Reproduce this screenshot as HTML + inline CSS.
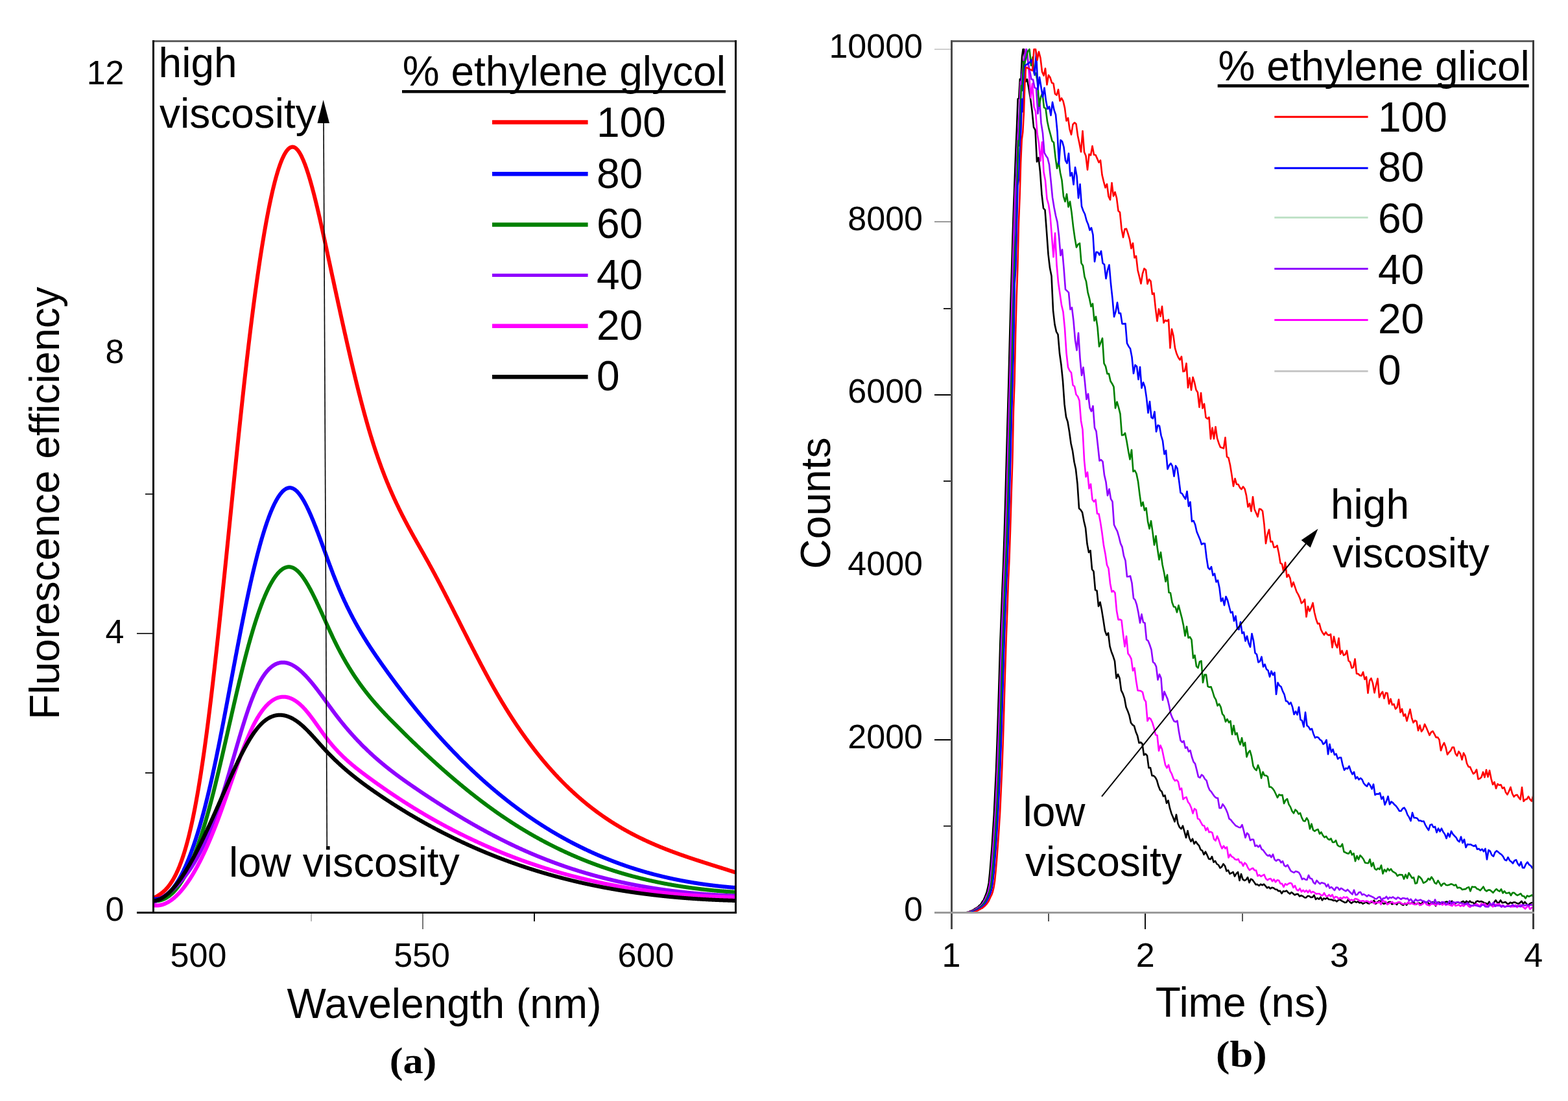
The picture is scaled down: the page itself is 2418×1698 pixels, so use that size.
<!DOCTYPE html>
<html><head><meta charset="utf-8"><title>Fluorescence figure</title>
<style>html,body{margin:0;padding:0;background:#fff;overflow:hidden}svg{display:block}text{font-variant-ligatures:none;font-feature-settings:'liga' 0,'clig' 0}</style>
</head><body>
<svg xmlns="http://www.w3.org/2000/svg" width="2418" height="1698" viewBox="0 0 2418 1698">
<rect width="2418" height="1698" fill="#fff"/>
<g shape-rendering="crispEdges">
<rect x="211" y="975.5" width="25" height="2" fill="#333"/>
<rect x="224" y="760.5" width="12" height="2" fill="#333"/>
<rect x="224" y="1190.5" width="12" height="2" fill="#222"/>
<rect x="478.5" y="1409" width="2" height="12" fill="#bbb"/>
<rect x="650.5" y="1409" width="2" height="24" fill="#777"/>
<rect x="822.5" y="1409" width="2" height="12" fill="#111"/>
</g>
<defs><clipPath id="ca"><rect x="237" y="64" width="897" height="1343"/></clipPath><clipPath id="cb"><rect x="1468" y="64" width="896" height="1343"/></clipPath></defs>
<g clip-path="url(#ca)">
<path d="M236.5 1385.2 L237 1385 L237.5 1384.7 L238 1384.5 L238.5 1384.2 L239 1383.9 L239.5 1383.7 L240 1383.4 L240.5 1383.1 L241 1382.8 L241.5 1382.6 L242 1382.3 L242.5 1382 L243 1381.7 L243.5 1381.4 L244 1381.1 L244.5 1380.7 L245 1380.4 L245.5 1380.1 L246 1379.8 L246.5 1379.4 L247 1379.1 L247.5 1378.7 L248 1378.3 L248.5 1378 L249 1377.6 L249.5 1377.2 L250 1376.8 L250.5 1376.4 L251 1376 L251.5 1375.6 L252 1375.1 L252.5 1374.7 L253 1374.2 L253.5 1373.8 L254 1373.3 L254.5 1372.8 L255 1372.3 L255.5 1371.8 L256 1371.3 L256.5 1370.7 L257 1370.2 L257.5 1369.6 L258 1369.1 L258.5 1368.5 L259 1367.9 L259.5 1367.3 L260 1366.6 L260.5 1366 L261 1365.3 L261.5 1364.7 L262 1364 L262.5 1363.3 L263 1362.6 L263.5 1361.8 L264 1361.1 L264.5 1360.3 L265 1359.6 L265.5 1358.8 L266 1357.9 L266.5 1357.1 L267 1356.3 L267.5 1355.4 L268 1354.5 L268.5 1353.6 L269 1352.7 L269.5 1351.8 L270 1350.8 L270.5 1349.8 L271 1348.8 L271.5 1347.8 L272 1346.8 L272.5 1345.7 L273 1344.7 L273.5 1343.6 L274 1342.5 L274.5 1341.3 L275 1340.2 L275.5 1339 L276 1337.8 L276.5 1336.5 L277 1335.3 L277.5 1334 L278 1332.7 L278.5 1331.4 L279 1330.1 L279.5 1328.7 L280 1327.3 L280.5 1325.9 L281 1324.5 L281.5 1323 L282 1321.5 L282.5 1320 L283 1318.5 L283.5 1316.9 L284 1315.3 L284.5 1313.7 L285 1312.1 L285.5 1310.4 L286 1308.7 L286.5 1307 L287 1305.2 L287.5 1303.4 L288 1301.6 L288.5 1299.8 L289 1297.9 L289.5 1296 L290 1294.1 L290.5 1292.2 L291 1290.2 L291.5 1288.2 L292 1286.1 L292.5 1284.1 L293 1281.9 L293.5 1279.8 L294 1277.6 L294.5 1275.5 L295 1273.2 L295.5 1271 L296 1268.7 L296.5 1266.3 L297 1264 L297.5 1261.6 L298 1259.2 L298.5 1256.7 L299 1254.2 L299.5 1251.7 L300 1249.1 L300.5 1246.6 L301 1243.9 L301.5 1241.3 L302 1238.6 L302.5 1235.9 L303 1233.1 L303.5 1230.3 L304 1227.5 L304.5 1224.7 L305 1221.8 L305.5 1218.9 L306 1215.9 L306.5 1212.9 L307 1209.9 L307.5 1206.9 L308 1203.8 L308.5 1200.7 L309 1197.5 L309.5 1194.4 L310 1191.2 L310.5 1187.9 L311 1184.7 L311.5 1181.3 L312 1178 L312.5 1174.6 L313 1171.2 L313.5 1167.8 L314 1164.4 L314.5 1160.9 L315 1157.3 L315.5 1153.8 L316 1150.2 L316.5 1146.6 L317 1142.9 L317.5 1139.2 L318 1135.5 L318.5 1131.8 L319 1128 L319.5 1124.2 L320 1120.3 L320.5 1116.5 L321 1112.6 L321.5 1108.6 L322 1104.7 L322.5 1100.7 L323 1096.7 L323.5 1092.6 L324 1088.5 L324.5 1084.4 L325 1080.3 L325.5 1076.1 L326 1071.9 L326.5 1067.7 L327 1063.5 L327.5 1059.2 L328 1054.9 L328.5 1050.6 L329 1046.2 L329.5 1041.9 L330 1037.5 L330.5 1033.1 L331 1028.6 L331.5 1024.2 L332 1019.7 L332.5 1015.2 L333 1010.7 L333.5 1006.2 L334 1001.6 L334.5 997 L335 992.4 L335.5 987.8 L336 983.2 L336.5 978.5 L337 973.9 L337.5 969.2 L338 964.5 L338.5 959.8 L339 955.1 L339.5 950.3 L340 945.6 L340.5 940.8 L341 936 L341.5 931.2 L342 926.4 L342.5 921.6 L343 916.8 L343.5 912 L344 907.1 L344.5 902.3 L345 897.4 L345.5 892.5 L346 887.6 L346.5 882.7 L347 877.8 L347.5 872.9 L348 868 L348.5 863.1 L349 858.2 L349.5 853.2 L350 848.3 L350.5 843.4 L351 838.4 L351.5 833.5 L352 828.5 L352.5 823.6 L353 818.6 L353.5 813.7 L354 808.7 L354.5 803.8 L355 798.8 L355.5 793.9 L356 788.9 L356.5 783.9 L357 779 L357.5 774 L358 769.1 L358.5 764.2 L359 759.2 L359.5 754.3 L360 749.4 L360.5 744.4 L361 739.5 L361.5 734.6 L362 729.7 L362.5 724.8 L363 719.9 L363.5 715 L364 710.1 L364.5 705.3 L365 700.4 L365.5 695.5 L366 690.7 L366.5 685.9 L367 681.1 L367.5 676.2 L368 671.4 L368.5 666.7 L369 661.9 L369.5 657.1 L370 652.4 L370.5 647.7 L371 642.9 L371.5 638.2 L372 633.6 L372.5 628.9 L373 624.2 L373.5 619.6 L374 615 L374.5 610.4 L375 605.8 L375.5 601.2 L376 596.7 L376.5 592.2 L377 587.7 L377.5 583.2 L378 578.7 L378.5 574.3 L379 569.9 L379.5 565.5 L380 561.1 L380.5 556.7 L381 552.4 L381.5 548.1 L382 543.8 L382.5 539.6 L383 535.4 L383.5 531.1 L384 527 L384.5 522.8 L385 518.7 L385.5 514.6 L386 510.5 L386.5 506.4 L387 502.4 L387.5 498.4 L388 494.4 L388.5 490.4 L389 486.5 L389.5 482.6 L390 478.7 L390.5 474.8 L391 471 L391.5 467.2 L392 463.4 L392.5 459.6 L393 455.9 L393.5 452.2 L394 448.5 L394.5 444.9 L395 441.3 L395.5 437.7 L396 434.1 L396.5 430.5 L397 427 L397.5 423.5 L398 420.1 L398.5 416.6 L399 413.2 L399.5 409.8 L400 406.5 L400.5 403.1 L401 399.8 L401.5 396.6 L402 393.3 L402.5 390.1 L403 386.9 L403.5 383.8 L404 380.6 L404.5 377.5 L405 374.4 L405.5 371.4 L406 368.4 L406.5 365.4 L407 362.4 L407.5 359.5 L408 356.6 L408.5 353.7 L409 350.9 L409.5 348.1 L410 345.3 L410.5 342.5 L411 339.8 L411.5 337.1 L412 334.4 L412.5 331.8 L413 329.2 L413.5 326.6 L414 324 L414.5 321.5 L415 319 L415.5 316.6 L416 314.2 L416.5 311.8 L417 309.4 L417.5 307.1 L418 304.8 L418.5 302.5 L419 300.3 L419.5 298 L420 295.9 L420.5 293.7 L421 291.6 L421.5 289.5 L422 287.5 L422.5 285.5 L423 283.5 L423.5 281.5 L424 279.6 L424.5 277.7 L425 275.9 L425.5 274 L426 272.2 L426.5 270.5 L427 268.8 L427.5 267.1 L428 265.4 L428.5 263.8 L429 262.2 L429.5 260.6 L430 259.1 L430.5 257.6 L431 256.2 L431.5 254.7 L432 253.3 L432.5 252 L433 250.7 L433.5 249.4 L434 248.1 L434.5 246.9 L435 245.7 L435.5 244.6 L436 243.5 L436.5 242.4 L437 241.3 L437.5 240.3 L438 239.3 L438.5 238.4 L439 237.5 L439.5 236.6 L440 235.8 L440.5 235 L441 234.2 L441.5 233.5 L442 232.8 L442.5 232.2 L443 231.5 L443.5 231 L444 230.4 L444.5 229.9 L445 229.4 L445.5 229 L446 228.6 L446.5 228.2 L447 227.9 L447.5 227.6 L448 227.4 L448.5 227.1 L449 227 L449.5 226.8 L450 226.7 L450.5 226.7 L451 226.6 L451.5 226.6 L452 226.7 L452.5 226.8 L453 226.9 L453.5 227.1 L454 227.3 L454.5 227.5 L455 227.8 L455.5 228.1 L456 228.5 L456.5 228.9 L457 229.3 L457.5 229.8 L458 230.3 L458.5 230.8 L459 231.4 L459.5 232 L460 232.7 L460.5 233.4 L461 234.1 L461.5 234.9 L462 235.7 L462.5 236.5 L463 237.4 L463.5 238.3 L464 239.2 L464.5 240.2 L465 241.2 L465.5 242.2 L466 243.3 L466.5 244.3 L467 245.5 L467.5 246.6 L468 247.8 L468.5 249 L469 250.3 L469.5 251.5 L470 252.8 L470.5 254.2 L471 255.5 L471.5 256.9 L472 258.3 L472.5 259.7 L473 261.2 L473.5 262.7 L474 264.2 L474.5 265.7 L475 267.3 L475.5 268.9 L476 270.5 L476.5 272.1 L477 273.8 L477.5 275.4 L478 277.1 L478.5 278.9 L479 280.6 L479.5 282.4 L480 284.2 L480.5 286 L481 287.8 L481.5 289.6 L482 291.5 L482.5 293.4 L483 295.3 L483.5 297.2 L484 299.1 L484.5 301.1 L485 303 L485.5 305 L486 307 L486.5 309 L487 311.1 L487.5 313.1 L488 315.2 L488.5 317.3 L489 319.3 L489.5 321.4 L490 323.6 L490.5 325.7 L491 327.8 L491.5 330 L492 332.1 L492.5 334.3 L493 336.5 L493.5 338.7 L494 340.9 L494.5 343.1 L495 345.3 L495.5 347.5 L496 349.8 L496.5 352 L497 354.3 L497.5 356.5 L498 358.8 L498.5 361.1 L499 363.4 L499.5 365.6 L500 367.9 L500.5 370.2 L501 372.5 L501.5 374.8 L502 377.1 L502.5 379.4 L503 381.7 L503.5 384 L504 386.4 L504.5 388.7 L505 391 L505.5 393.3 L506 395.6 L506.5 397.9 L507 400.3 L507.5 402.6 L508 404.9 L508.5 407.2 L509 409.5 L509.5 411.9 L510 414.2 L510.5 416.5 L511 418.8 L511.5 421.1 L512 423.5 L512.5 425.8 L513 428.1 L513.5 430.4 L514 432.7 L514.5 435 L515 437.3 L515.5 439.7 L516 442 L516.5 444.3 L517 446.6 L517.5 448.9 L518 451.2 L518.5 453.5 L519 455.8 L519.5 458.1 L520 460.4 L520.5 462.7 L521 465 L521.5 467.3 L522 469.6 L522.5 471.9 L523 474.2 L523.5 476.4 L524 478.7 L524.5 481 L525 483.3 L525.5 485.5 L526 487.8 L526.5 490.1 L527 492.3 L527.5 494.6 L528 496.9 L528.5 499.1 L529 501.4 L529.5 503.6 L530 505.9 L530.5 508.1 L531 510.3 L531.5 512.6 L532 514.8 L532.5 517 L533 519.2 L533.5 521.5 L534 523.7 L534.5 525.9 L535 528.1 L535.5 530.3 L536 532.5 L536.5 534.7 L537 536.8 L537.5 539 L538 541.2 L538.5 543.4 L539 545.5 L539.5 547.7 L540 549.9 L540.5 552 L541 554.1 L541.5 556.3 L542 558.4 L542.5 560.5 L543 562.7 L543.5 564.8 L544 566.9 L544.5 569 L545 571.1 L545.5 573.2 L546 575.3 L546.5 577.3 L547 579.4 L547.5 581.5 L548 583.5 L548.5 585.6 L549 587.6 L549.5 589.7 L550 591.7 L550.5 593.7 L551 595.7 L551.5 597.7 L552 599.7 L552.5 601.7 L553 603.7 L553.5 605.7 L554 607.7 L554.5 609.6 L555 611.6 L555.5 613.5 L556 615.5 L556.5 617.4 L557 619.3 L557.5 621.2 L558 623.2 L558.5 625.1 L559 626.9 L559.5 628.8 L560 630.7 L560.5 632.6 L561 634.4 L561.5 636.3 L562 638.1 L562.5 639.9 L563 641.7 L563.5 643.5 L564 645.3 L564.5 647.1 L565 648.9 L565.5 650.7 L566 652.4 L566.5 654.2 L567 655.9 L567.5 657.7 L568 659.4 L568.5 661.1 L569 662.8 L569.5 664.5 L570 666.2 L570.5 667.8 L571 669.5 L571.5 671.1 L572 672.8 L572.5 674.4 L573 676 L573.5 677.6 L574 679.2 L574.5 680.8 L575 682.4 L575.5 684 L576 685.6 L576.5 687.1 L577 688.7 L577.5 690.2 L578 691.7 L578.5 693.2 L579 694.7 L579.5 696.2 L580 697.7 L580.5 699.2 L581 700.7 L581.5 702.1 L582 703.6 L582.5 705 L583 706.5 L583.5 707.9 L584 709.3 L584.5 710.7 L585 712.2 L585.5 713.5 L586 714.9 L586.5 716.3 L587 717.7 L587.5 719.1 L588 720.4 L588.5 721.8 L589 723.1 L589.5 724.4 L590 725.8 L590.5 727.1 L591 728.4 L591.5 729.7 L592 731 L592.5 732.3 L593 733.6 L593.5 734.8 L594 736.1 L594.5 737.4 L595 738.6 L595.5 739.9 L596 741.1 L596.5 742.3 L597 743.6 L597.5 744.8 L598 746 L598.5 747.2 L599 748.4 L599.5 749.6 L600 750.8 L600.5 752 L601 753.1 L601.5 754.3 L602 755.5 L602.5 756.6 L603 757.8 L603.5 758.9 L604 760 L604.5 761.2 L605 762.3 L605.5 763.4 L606 764.5 L606.5 765.7 L607 766.8 L607.5 767.9 L608 769 L608.5 770.1 L609 771.1 L609.5 772.2 L610 773.3 L610.5 774.4 L611 775.4 L611.5 776.5 L612 777.5 L612.5 778.6 L613 779.6 L613.5 780.7 L614 781.7 L614.5 782.7 L615 783.8 L615.5 784.8 L616 785.8 L616.5 786.8 L617 787.8 L617.5 788.9 L618 789.9 L618.5 790.9 L619 791.8 L619.5 792.8 L620 793.8 L620.5 794.8 L621 795.8 L621.5 796.8 L622 797.7 L622.5 798.7 L623 799.7 L623.5 800.6 L624 801.6 L624.5 802.6 L625 803.5 L625.5 804.5 L626 805.4 L626.5 806.4 L627 807.3 L627.5 808.2 L628 809.2 L628.5 810.1 L629 811.1 L629.5 812 L630 812.9 L630.5 813.8 L631 814.8 L631.5 815.7 L632 816.6 L632.5 817.5 L633 818.4 L633.5 819.3 L634 820.2 L634.5 821.2 L635 822.1 L635.5 823 L636 823.9 L636.5 824.8 L637 825.7 L637.5 826.6 L638 827.5 L638.5 828.4 L639 829.3 L639.5 830.1 L640 831 L640.5 831.9 L641 832.8 L641.5 833.7 L642 834.6 L642.5 835.5 L643 836.4 L643.5 837.3 L644 838.1 L644.5 839 L645 839.9 L645.5 840.8 L646 841.7 L646.5 842.6 L647 843.4 L647.5 844.3 L648 845.2 L648.5 846.1 L649 847 L649.5 847.9 L650 848.7 L650.5 849.6 L651 850.5 L651.5 851.4 L652 852.3 L652.5 853.2 L653 854 L653.5 854.9 L654 855.8 L654.5 856.7 L655 857.6 L655.5 858.5 L656 859.4 L656.5 860.3 L657 861.2 L657.5 862.1 L658 862.9 L658.5 863.8 L659 864.7 L659.5 865.6 L660 866.5 L660.5 867.4 L661 868.3 L661.5 869.2 L662 870.1 L662.5 871.1 L663 872 L663.5 872.9 L664 873.8 L664.5 874.7 L665 875.6 L665.5 876.5 L666 877.5 L666.5 878.4 L667 879.3 L667.5 880.2 L668 881.2 L668.5 882.1 L669 883 L669.5 883.9 L670 884.9 L670.5 885.8 L671 886.7 L671.5 887.7 L672 888.6 L672.5 889.6 L673 890.5 L673.5 891.4 L674 892.4 L674.5 893.3 L675 894.3 L675.5 895.2 L676 896.2 L676.5 897.1 L677 898.1 L677.5 899 L678 900 L678.5 900.9 L679 901.9 L679.5 902.9 L680 903.8 L680.5 904.8 L681 905.7 L681.5 906.7 L682 907.7 L682.5 908.6 L683 909.6 L683.5 910.5 L684 911.5 L684.5 912.5 L685 913.5 L685.5 914.4 L686 915.4 L686.5 916.4 L687 917.3 L687.5 918.3 L688 919.3 L688.5 920.3 L689 921.2 L689.5 922.2 L690 923.2 L690.5 924.2 L691 925.1 L691.5 926.1 L692 927.1 L692.5 928.1 L693 929.1 L693.5 930 L694 931 L694.5 932 L695 933 L695.5 934 L696 935 L696.5 935.9 L697 936.9 L697.5 937.9 L698 938.9 L698.5 939.9 L699 940.9 L699.5 941.9 L700 942.8 L700.5 943.8 L701 944.8 L701.5 945.8 L702 946.8 L702.5 947.8 L703 948.8 L703.5 949.8 L704 950.8 L704.5 951.7 L705 952.7 L705.5 953.7 L706 954.7 L706.5 955.7 L707 956.7 L707.5 957.7 L708 958.7 L708.5 959.7 L709 960.7 L709.5 961.7 L710 962.6 L710.5 963.6 L711 964.6 L711.5 965.6 L712 966.6 L712.5 967.6 L713 968.6 L713.5 969.6 L714 970.6 L714.5 971.6 L715 972.5 L715.5 973.5 L716 974.5 L716.5 975.5 L717 976.5 L717.5 977.5 L718 978.5 L718.5 979.5 L719 980.4 L719.5 981.4 L720 982.4 L720.5 983.4 L721 984.4 L721.5 985.4 L722 986.4 L722.5 987.3 L723 988.3 L723.5 989.3 L724 990.3 L724.5 991.3 L725 992.3 L725.5 993.2 L726 994.2 L726.5 995.2 L727 996.2 L727.5 997.2 L728 998.1 L728.5 999.1 L729 1000.1 L729.5 1001.1 L730 1002 L730.5 1003 L731 1004 L731.5 1004.9 L732 1005.9 L732.5 1006.9 L733 1007.9 L733.5 1008.8 L734 1009.8 L734.5 1010.8 L735 1011.7 L735.5 1012.7 L736 1013.6 L736.5 1014.6 L737 1015.6 L737.5 1016.5 L738 1017.5 L738.5 1018.4 L739 1019.4 L739.5 1020.4 L740 1021.3 L740.5 1022.3 L741 1023.2 L741.5 1024.2 L742 1025.1 L742.5 1026.1 L743 1027 L743.5 1028 L744 1028.9 L744.5 1029.8 L745 1030.8 L745.5 1031.7 L746 1032.7 L746.5 1033.6 L747 1034.5 L747.5 1035.5 L748 1036.4 L748.5 1037.3 L749 1038.3 L749.5 1039.2 L750 1040.1 L750.5 1041 L751 1042 L751.5 1042.9 L752 1043.8 L752.5 1044.7 L753 1045.6 L753.5 1046.6 L754 1047.5 L754.5 1048.4 L755 1049.3 L755.5 1050.2 L756 1051.1 L756.5 1052 L757 1052.9 L757.5 1053.8 L758 1054.7 L758.5 1055.6 L759 1056.5 L759.5 1057.4 L760 1058.3 L760.5 1059.2 L761 1060.1 L761.5 1061 L762 1061.8 L762.5 1062.7 L763 1063.6 L763.5 1064.5 L764 1065.4 L764.5 1066.2 L765 1067.1 L765.5 1068 L766 1068.8 L766.5 1069.7 L767 1070.6 L767.5 1071.4 L768 1072.3 L768.5 1073.1 L769 1074 L769.5 1074.9 L770 1075.7 L770.5 1076.6 L771 1077.4 L771.5 1078.2 L772 1079.1 L772.5 1079.9 L773 1080.8 L773.5 1081.6 L774 1082.4 L774.5 1083.3 L775 1084.1 L775.5 1084.9 L776 1085.7 L776.5 1086.6 L777 1087.4 L777.5 1088.2 L778 1089 L778.5 1089.8 L779 1090.7 L779.5 1091.5 L780 1092.3 L780.5 1093.1 L781 1093.9 L781.5 1094.7 L782 1095.5 L782.5 1096.3 L783 1097.1 L783.5 1097.9 L784 1098.7 L784.5 1099.5 L785 1100.3 L785.5 1101.1 L786 1101.8 L786.5 1102.6 L787 1103.4 L787.5 1104.2 L788 1105 L788.5 1105.7 L789 1106.5 L789.5 1107.3 L790 1108.1 L790.5 1108.8 L791 1109.6 L791.5 1110.4 L792 1111.1 L792.5 1111.9 L793 1112.6 L793.5 1113.4 L794 1114.2 L794.5 1114.9 L795 1115.7 L795.5 1116.4 L796 1117.2 L796.5 1117.9 L797 1118.7 L797.5 1119.4 L798 1120.1 L798.5 1120.9 L799 1121.6 L799.5 1122.3 L800 1123.1 L800.5 1123.8 L801 1124.5 L801.5 1125.3 L802 1126 L802.5 1126.7 L803 1127.4 L803.5 1128.1 L804 1128.9 L804.5 1129.6 L805 1130.3 L805.5 1131 L806 1131.7 L806.5 1132.4 L807 1133.1 L807.5 1133.8 L808 1134.5 L808.5 1135.2 L809 1135.9 L809.5 1136.6 L810 1137.3 L810.5 1138 L811 1138.7 L811.5 1139.4 L812 1140.1 L812.5 1140.8 L813 1141.5 L813.5 1142.1 L814 1142.8 L814.5 1143.5 L815 1144.2 L815.5 1144.9 L816 1145.5 L816.5 1146.2 L817 1146.9 L817.5 1147.5 L818 1148.2 L818.5 1148.9 L819 1149.5 L819.5 1150.2 L820 1150.9 L820.5 1151.5 L821 1152.2 L821.5 1152.8 L822 1153.5 L822.5 1154.1 L823 1154.8 L823.5 1155.4 L824 1156.1 L824.5 1156.7 L825 1157.4 L825.5 1158 L826 1158.6 L826.5 1159.3 L827 1159.9 L827.5 1160.6 L828 1161.2 L828.5 1161.8 L829 1162.4 L829.5 1163.1 L830 1163.7 L830.5 1164.3 L831 1164.9 L831.5 1165.6 L832 1166.2 L832.5 1166.8 L833 1167.4 L833.5 1168 L834 1168.6 L834.5 1169.2 L835 1169.9 L835.5 1170.5 L836 1171.1 L836.5 1171.7 L837 1172.3 L837.5 1172.9 L838 1173.5 L838.5 1174.1 L839 1174.7 L839.5 1175.3 L840 1175.9 L840.5 1176.4 L841 1177 L841.5 1177.6 L842 1178.2 L842.5 1178.8 L843 1179.4 L843.5 1180 L844 1180.5 L844.5 1181.1 L845 1181.7 L845.5 1182.3 L846 1182.8 L846.5 1183.4 L847 1184 L847.5 1184.5 L848 1185.1 L848.5 1185.7 L849 1186.2 L849.5 1186.8 L850 1187.4 L850.5 1187.9 L851 1188.5 L851.5 1189 L852 1189.6 L852.5 1190.1 L853 1190.7 L853.5 1191.2 L854 1191.8 L854.5 1192.3 L855 1192.9 L855.5 1193.4 L856 1194 L856.5 1194.5 L857 1195 L857.5 1195.6 L858 1196.1 L858.5 1196.6 L859 1197.2 L859.5 1197.7 L860 1198.2 L860.5 1198.8 L861 1199.3 L861.5 1199.8 L862 1200.3 L862.5 1200.9 L863 1201.4 L863.5 1201.9 L864 1202.4 L864.5 1202.9 L865 1203.4 L865.5 1204 L866 1204.5 L866.5 1205 L867 1205.5 L867.5 1206 L868 1206.5 L868.5 1207 L869 1207.5 L869.5 1208 L870 1208.5 L870.5 1209 L871 1209.5 L871.5 1210 L872 1210.5 L872.5 1211 L873 1211.5 L873.5 1212 L874 1212.5 L874.5 1212.9 L875 1213.4 L875.5 1213.9 L876 1214.4 L876.5 1214.9 L877 1215.4 L877.5 1215.8 L878 1216.3 L878.5 1216.8 L879 1217.3 L879.5 1217.7 L880 1218.2 L880.5 1218.7 L881 1219.1 L881.5 1219.6 L882 1220.1 L882.5 1220.5 L883 1221 L883.5 1221.5 L884 1221.9 L884.5 1222.4 L885 1222.8 L885.5 1223.3 L886 1223.8 L886.5 1224.2 L887 1224.7 L887.5 1225.1 L888 1225.6 L888.5 1226 L889 1226.5 L889.5 1226.9 L890 1227.3 L890.5 1227.8 L891 1228.2 L891.5 1228.7 L892 1229.1 L892.5 1229.5 L893 1230 L893.5 1230.4 L894 1230.8 L894.5 1231.3 L895 1231.7 L895.5 1232.1 L896 1232.6 L896.5 1233 L897 1233.4 L897.5 1233.8 L898 1234.3 L898.5 1234.7 L899 1235.1 L899.5 1235.5 L900 1236 L900.5 1236.4 L901 1236.8 L901.5 1237.2 L902 1237.6 L902.5 1238 L903 1238.4 L903.5 1238.8 L904 1239.3 L904.5 1239.7 L905 1240.1 L905.5 1240.5 L906 1240.9 L906.5 1241.3 L907 1241.7 L907.5 1242.1 L908 1242.5 L908.5 1242.9 L909 1243.3 L909.5 1243.7 L910 1244.1 L910.5 1244.5 L911 1244.8 L911.5 1245.2 L912 1245.6 L912.5 1246 L913 1246.4 L913.5 1246.8 L914 1247.2 L914.5 1247.5 L915 1247.9 L915.5 1248.3 L916 1248.7 L916.5 1249.1 L917 1249.4 L917.5 1249.8 L918 1250.2 L918.5 1250.6 L919 1250.9 L919.5 1251.3 L920 1251.7 L920.5 1252.1 L921 1252.4 L921.5 1252.8 L922 1253.2 L922.5 1253.5 L923 1253.9 L923.5 1254.2 L924 1254.6 L924.5 1255 L925 1255.3 L925.5 1255.7 L926 1256 L926.5 1256.4 L927 1256.7 L927.5 1257.1 L928 1257.5 L928.5 1257.8 L929 1258.2 L929.5 1258.5 L930 1258.9 L930.5 1259.2 L931 1259.5 L931.5 1259.9 L932 1260.2 L932.5 1260.6 L933 1260.9 L933.5 1261.3 L934 1261.6 L934.5 1261.9 L935 1262.3 L935.5 1262.6 L936 1262.9 L936.5 1263.3 L937 1263.6 L937.5 1263.9 L938 1264.3 L938.5 1264.6 L939 1264.9 L939.5 1265.3 L940 1265.6 L940.5 1265.9 L941 1266.2 L941.5 1266.6 L942 1266.9 L942.5 1267.2 L943 1267.5 L943.5 1267.9 L944 1268.2 L944.5 1268.5 L945 1268.8 L945.5 1269.1 L946 1269.4 L946.5 1269.8 L947 1270.1 L947.5 1270.4 L948 1270.7 L948.5 1271 L949 1271.3 L949.5 1271.6 L950 1271.9 L950.5 1272.2 L951 1272.5 L951.5 1272.8 L952 1273.1 L952.5 1273.4 L953 1273.7 L953.5 1274 L954 1274.3 L954.5 1274.6 L955 1274.9 L955.5 1275.2 L956 1275.5 L956.5 1275.8 L957 1276.1 L957.5 1276.4 L958 1276.7 L958.5 1277 L959 1277.3 L959.5 1277.6 L960 1277.9 L960.5 1278.2 L961 1278.4 L961.5 1278.7 L962 1279 L962.5 1279.3 L963 1279.6 L963.5 1279.9 L964 1280.1 L964.5 1280.4 L965 1280.7 L965.5 1281 L966 1281.3 L966.5 1281.5 L967 1281.8 L967.5 1282.1 L968 1282.4 L968.5 1282.6 L969 1282.9 L969.5 1283.2 L970 1283.5 L970.5 1283.7 L971 1284 L971.5 1284.3 L972 1284.5 L972.5 1284.8 L973 1285.1 L973.5 1285.3 L974 1285.6 L974.5 1285.9 L975 1286.1 L975.5 1286.4 L976 1286.7 L976.5 1286.9 L977 1287.2 L977.5 1287.4 L978 1287.7 L978.5 1287.9 L979 1288.2 L979.5 1288.5 L980 1288.7 L980.5 1289 L981 1289.2 L981.5 1289.5 L982 1289.7 L982.5 1290 L983 1290.2 L983.5 1290.5 L984 1290.7 L984.5 1291 L985 1291.2 L985.5 1291.5 L986 1291.7 L986.5 1292 L987 1292.2 L987.5 1292.5 L988 1292.7 L988.5 1292.9 L989 1293.2 L989.5 1293.4 L990 1293.7 L990.5 1293.9 L991 1294.1 L991.5 1294.4 L992 1294.6 L992.5 1294.9 L993 1295.1 L993.5 1295.3 L994 1295.6 L994.5 1295.8 L995 1296 L995.5 1296.3 L996 1296.5 L996.5 1296.7 L997 1297 L997.5 1297.2 L998 1297.4 L998.5 1297.6 L999 1297.9 L999.5 1298.1 L1000 1298.3 L1000.5 1298.6 L1001 1298.8 L1001.5 1299 L1002 1299.2 L1002.5 1299.4 L1003 1299.7 L1003.5 1299.9 L1004 1300.1 L1004.5 1300.3 L1005 1300.6 L1005.5 1300.8 L1006 1301 L1006.5 1301.2 L1007 1301.4 L1007.5 1301.6 L1008 1301.9 L1008.5 1302.1 L1009 1302.3 L1009.5 1302.5 L1010 1302.7 L1010.5 1302.9 L1011 1303.2 L1011.5 1303.4 L1012 1303.6 L1012.5 1303.8 L1013 1304 L1013.5 1304.2 L1014 1304.4 L1014.5 1304.6 L1015 1304.8 L1015.5 1305 L1016 1305.3 L1016.5 1305.5 L1017 1305.7 L1017.5 1305.9 L1018 1306.1 L1018.5 1306.3 L1019 1306.5 L1019.5 1306.7 L1020 1306.9 L1020.5 1307.1 L1021 1307.3 L1021.5 1307.5 L1022 1307.7 L1022.5 1307.9 L1023 1308.1 L1023.5 1308.3 L1024 1308.5 L1024.5 1308.7 L1025 1308.9 L1025.5 1309.1 L1026 1309.3 L1026.5 1309.5 L1027 1309.7 L1027.5 1309.9 L1028 1310.1 L1028.5 1310.3 L1029 1310.5 L1029.5 1310.7 L1030 1310.8 L1030.5 1311 L1031 1311.2 L1031.5 1311.4 L1032 1311.6 L1032.5 1311.8 L1033 1312 L1033.5 1312.2 L1034 1312.4 L1034.5 1312.6 L1035 1312.8 L1035.5 1312.9 L1036 1313.1 L1036.5 1313.3 L1037 1313.5 L1037.5 1313.7 L1038 1313.9 L1038.5 1314.1 L1039 1314.2 L1039.5 1314.4 L1040 1314.6 L1040.5 1314.8 L1041 1315 L1041.5 1315.2 L1042 1315.3 L1042.5 1315.5 L1043 1315.7 L1043.5 1315.9 L1044 1316.1 L1044.5 1316.3 L1045 1316.4 L1045.5 1316.6 L1046 1316.8 L1046.5 1317 L1047 1317.2 L1047.5 1317.3 L1048 1317.5 L1048.5 1317.7 L1049 1317.9 L1049.5 1318 L1050 1318.2 L1050.5 1318.4 L1051 1318.6 L1051.5 1318.7 L1052 1318.9 L1052.5 1319.1 L1053 1319.3 L1053.5 1319.4 L1054 1319.6 L1054.5 1319.8 L1055 1320 L1055.5 1320.1 L1056 1320.3 L1056.5 1320.5 L1057 1320.7 L1057.5 1320.8 L1058 1321 L1058.5 1321.2 L1059 1321.3 L1059.5 1321.5 L1060 1321.7 L1060.5 1321.9 L1061 1322 L1061.5 1322.2 L1062 1322.4 L1062.5 1322.5 L1063 1322.7 L1063.5 1322.9 L1064 1323 L1064.5 1323.2 L1065 1323.4 L1065.5 1323.5 L1066 1323.7 L1066.5 1323.9 L1067 1324 L1067.5 1324.2 L1068 1324.4 L1068.5 1324.5 L1069 1324.7 L1069.5 1324.9 L1070 1325 L1070.5 1325.2 L1071 1325.4 L1071.5 1325.5 L1072 1325.7 L1072.5 1325.9 L1073 1326 L1073.5 1326.2 L1074 1326.4 L1074.5 1326.5 L1075 1326.7 L1075.5 1326.8 L1076 1327 L1076.5 1327.2 L1077 1327.3 L1077.5 1327.5 L1078 1327.7 L1078.5 1327.8 L1079 1328 L1079.5 1328.1 L1080 1328.3 L1080.5 1328.5 L1081 1328.6 L1081.5 1328.8 L1082 1328.9 L1082.5 1329.1 L1083 1329.3 L1083.5 1329.4 L1084 1329.6 L1084.5 1329.8 L1085 1329.9 L1085.5 1330.1 L1086 1330.2 L1086.5 1330.4 L1087 1330.5 L1087.5 1330.7 L1088 1330.9 L1088.5 1331 L1089 1331.2 L1089.5 1331.3 L1090 1331.5 L1090.5 1331.7 L1091 1331.8 L1091.5 1332 L1092 1332.1 L1092.5 1332.3 L1093 1332.5 L1093.5 1332.6 L1094 1332.8 L1094.5 1332.9 L1095 1333.1 L1095.5 1333.2 L1096 1333.4 L1096.5 1333.6 L1097 1333.7 L1097.5 1333.9 L1098 1334 L1098.5 1334.2 L1099 1334.4 L1099.5 1334.5 L1100 1334.7 L1100.5 1334.8 L1101 1335 L1101.5 1335.1 L1102 1335.3 L1102.5 1335.5 L1103 1335.6 L1103.5 1335.8 L1104 1335.9 L1104.5 1336.1 L1105 1336.2 L1105.5 1336.4 L1106 1336.6 L1106.5 1336.7 L1107 1336.9 L1107.5 1337 L1108 1337.2 L1108.5 1337.3 L1109 1337.5 L1109.5 1337.7 L1110 1337.8 L1110.5 1338 L1111 1338.1 L1111.5 1338.3 L1112 1338.4 L1112.5 1338.6 L1113 1338.8 L1113.5 1338.9 L1114 1339.1 L1114.5 1339.2 L1115 1339.4 L1115.5 1339.5 L1116 1339.7 L1116.5 1339.9 L1117 1340 L1117.5 1340.2 L1118 1340.3 L1118.5 1340.5 L1119 1340.6 L1119.5 1340.8 L1120 1341 L1120.5 1341.1 L1121 1341.3 L1121.5 1341.4 L1122 1341.6 L1122.5 1341.8 L1123 1341.9 L1123.5 1342.1 L1124 1342.2 L1124.5 1342.4 L1125 1342.6 L1125.5 1342.7 L1126 1342.9 L1126.5 1343 L1127 1343.2 L1127.5 1343.3 L1128 1343.5 L1128.5 1343.7 L1129 1343.8 L1129.5 1344 L1130 1344.2 L1130.5 1344.3 L1131 1344.5 L1131.5 1344.6 L1132 1344.8 L1132.5 1345 L1133 1345.1 L1133.5 1345.3 L1134 1345.4 L1134.5 1345.6 L1135 1345.8 L1135.5 1345.9 L1136 1346.1" fill="none" stroke="#ff0000" stroke-width="6" stroke-linejoin="round" stroke-linecap="butt"/>
<path d="M236.5 1386.4 L237 1386.5 L237.5 1386.5 L238 1386.6 L238.5 1386.6 L239 1386.6 L239.5 1386.7 L240 1386.7 L240.5 1386.6 L241 1386.6 L241.5 1386.6 L242 1386.6 L242.5 1386.5 L243 1386.4 L243.5 1386.4 L244 1386.3 L244.5 1386.2 L245 1386.1 L245.5 1385.9 L246 1385.8 L246.5 1385.7 L247 1385.5 L247.5 1385.3 L248 1385.2 L248.5 1385 L249 1384.8 L249.5 1384.6 L250 1384.3 L250.5 1384.1 L251 1383.8 L251.5 1383.6 L252 1383.3 L252.5 1383 L253 1382.7 L253.5 1382.4 L254 1382.1 L254.5 1381.8 L255 1381.4 L255.5 1381.1 L256 1380.7 L256.5 1380.3 L257 1379.9 L257.5 1379.5 L258 1379.1 L258.5 1378.7 L259 1378.3 L259.5 1377.8 L260 1377.3 L260.5 1376.9 L261 1376.4 L261.5 1375.9 L262 1375.4 L262.5 1374.9 L263 1374.3 L263.5 1373.8 L264 1373.2 L264.5 1372.6 L265 1372.1 L265.5 1371.5 L266 1370.9 L266.5 1370.2 L267 1369.6 L267.5 1369 L268 1368.3 L268.5 1367.6 L269 1367 L269.5 1366.3 L270 1365.6 L270.5 1364.8 L271 1364.1 L271.5 1363.4 L272 1362.6 L272.5 1361.8 L273 1361.1 L273.5 1360.3 L274 1359.5 L274.5 1358.6 L275 1357.8 L275.5 1357 L276 1356.1 L276.5 1355.2 L277 1354.3 L277.5 1353.5 L278 1352.5 L278.5 1351.6 L279 1350.7 L279.5 1349.7 L280 1348.8 L280.5 1347.8 L281 1346.8 L281.5 1345.8 L282 1344.8 L282.5 1343.8 L283 1342.8 L283.5 1341.7 L284 1340.7 L284.5 1339.6 L285 1338.5 L285.5 1337.4 L286 1336.3 L286.5 1335.2 L287 1334 L287.5 1332.9 L288 1331.7 L288.5 1330.5 L289 1329.3 L289.5 1328.1 L290 1326.9 L290.5 1325.7 L291 1324.4 L291.5 1323.2 L292 1321.9 L292.5 1320.6 L293 1319.3 L293.5 1318 L294 1316.7 L294.5 1315.3 L295 1314 L295.5 1312.6 L296 1311.2 L296.5 1309.9 L297 1308.5 L297.5 1307 L298 1305.6 L298.5 1304.2 L299 1302.7 L299.5 1301.2 L300 1299.7 L300.5 1298.2 L301 1296.7 L301.5 1295.2 L302 1293.7 L302.5 1292.1 L303 1290.5 L303.5 1289 L304 1287.4 L304.5 1285.8 L305 1284.1 L305.5 1282.5 L306 1280.8 L306.5 1279.2 L307 1277.5 L307.5 1275.8 L308 1274.1 L308.5 1272.4 L309 1270.7 L309.5 1268.9 L310 1267.2 L310.5 1265.4 L311 1263.6 L311.5 1261.8 L312 1260 L312.5 1258.1 L313 1256.3 L313.5 1254.4 L314 1252.6 L314.5 1250.7 L315 1248.8 L315.5 1246.9 L316 1244.9 L316.5 1243 L317 1241 L317.5 1239.1 L318 1237.1 L318.5 1235.1 L319 1233.1 L319.5 1231 L320 1229 L320.5 1226.9 L321 1224.8 L321.5 1222.8 L322 1220.7 L322.5 1218.5 L323 1216.4 L323.5 1214.3 L324 1212.1 L324.5 1209.9 L325 1207.8 L325.5 1205.5 L326 1203.3 L326.5 1201.1 L327 1198.9 L327.5 1196.6 L328 1194.3 L328.5 1192 L329 1189.7 L329.5 1187.4 L330 1185.1 L330.5 1182.7 L331 1180.4 L331.5 1178 L332 1175.7 L332.5 1173.3 L333 1170.9 L333.5 1168.5 L334 1166 L334.5 1163.6 L335 1161.2 L335.5 1158.7 L336 1156.2 L336.5 1153.8 L337 1151.3 L337.5 1148.8 L338 1146.3 L338.5 1143.8 L339 1141.3 L339.5 1138.7 L340 1136.2 L340.5 1133.7 L341 1131.1 L341.5 1128.6 L342 1126 L342.5 1123.4 L343 1120.8 L343.5 1118.3 L344 1115.7 L344.5 1113.1 L345 1110.5 L345.5 1107.9 L346 1105.2 L346.5 1102.6 L347 1100 L347.5 1097.4 L348 1094.7 L348.5 1092.1 L349 1089.5 L349.5 1086.8 L350 1084.2 L350.5 1081.5 L351 1078.9 L351.5 1076.2 L352 1073.6 L352.5 1070.9 L353 1068.3 L353.5 1065.6 L354 1062.9 L354.5 1060.3 L355 1057.6 L355.5 1054.9 L356 1052.3 L356.5 1049.6 L357 1046.9 L357.5 1044.3 L358 1041.6 L358.5 1039 L359 1036.3 L359.5 1033.6 L360 1031 L360.5 1028.3 L361 1025.7 L361.5 1023 L362 1020.4 L362.5 1017.7 L363 1015.1 L363.5 1012.4 L364 1009.8 L364.5 1007.2 L365 1004.5 L365.5 1001.9 L366 999.3 L366.5 996.7 L367 994.1 L367.5 991.5 L368 988.9 L368.5 986.3 L369 983.7 L369.5 981.1 L370 978.5 L370.5 975.9 L371 973.4 L371.5 970.8 L372 968.3 L372.5 965.7 L373 963.2 L373.5 960.7 L374 958.2 L374.5 955.7 L375 953.2 L375.5 950.7 L376 948.2 L376.5 945.7 L377 943.3 L377.5 940.8 L378 938.4 L378.5 936 L379 933.5 L379.5 931.1 L380 928.7 L380.5 926.4 L381 924 L381.5 921.6 L382 919.3 L382.5 916.9 L383 914.6 L383.5 912.3 L384 910 L384.5 907.7 L385 905.5 L385.5 903.2 L386 901 L386.5 898.7 L387 896.5 L387.5 894.3 L388 892.1 L388.5 889.9 L389 887.8 L389.5 885.6 L390 883.5 L390.5 881.4 L391 879.3 L391.5 877.2 L392 875.1 L392.5 873 L393 871 L393.5 869 L394 866.9 L394.5 864.9 L395 862.9 L395.5 861 L396 859 L396.5 857.1 L397 855.1 L397.5 853.2 L398 851.3 L398.5 849.4 L399 847.6 L399.5 845.7 L400 843.9 L400.5 842 L401 840.2 L401.5 838.4 L402 836.7 L402.5 834.9 L403 833.2 L403.5 831.4 L404 829.7 L404.5 828 L405 826.4 L405.5 824.7 L406 823.1 L406.5 821.4 L407 819.8 L407.5 818.2 L408 816.6 L408.5 815.1 L409 813.5 L409.5 812 L410 810.5 L410.5 809 L411 807.5 L411.5 806.1 L412 804.6 L412.5 803.2 L413 801.8 L413.5 800.4 L414 799 L414.5 797.7 L415 796.4 L415.5 795 L416 793.7 L416.5 792.5 L417 791.2 L417.5 790 L418 788.7 L418.5 787.5 L419 786.4 L419.5 785.2 L420 784 L420.5 782.9 L421 781.8 L421.5 780.7 L422 779.6 L422.5 778.6 L423 777.5 L423.5 776.5 L424 775.5 L424.5 774.6 L425 773.6 L425.5 772.7 L426 771.8 L426.5 770.9 L427 770 L427.5 769.1 L428 768.3 L428.5 767.5 L429 766.7 L429.5 765.9 L430 765.2 L430.5 764.4 L431 763.7 L431.5 763 L432 762.3 L432.5 761.7 L433 761.1 L433.5 760.5 L434 759.9 L434.5 759.3 L435 758.8 L435.5 758.2 L436 757.7 L436.5 757.2 L437 756.8 L437.5 756.3 L438 755.9 L438.5 755.5 L439 755.2 L439.5 754.8 L440 754.5 L440.5 754.2 L441 753.9 L441.5 753.6 L442 753.4 L442.5 753.2 L443 753 L443.5 752.8 L444 752.7 L444.5 752.6 L445 752.4 L445.5 752.4 L446 752.3 L446.5 752.3 L447 752.3 L447.5 752.3 L448 752.3 L448.5 752.4 L449 752.5 L449.5 752.6 L450 752.7 L450.5 752.9 L451 753 L451.5 753.2 L452 753.5 L452.5 753.7 L453 754 L453.5 754.3 L454 754.6 L454.5 755 L455 755.3 L455.5 755.7 L456 756.1 L456.5 756.5 L457 757 L457.5 757.4 L458 757.9 L458.5 758.4 L459 759 L459.5 759.5 L460 760.1 L460.5 760.7 L461 761.3 L461.5 761.9 L462 762.6 L462.5 763.2 L463 763.9 L463.5 764.6 L464 765.3 L464.5 766.1 L465 766.8 L465.5 767.6 L466 768.4 L466.5 769.2 L467 770 L467.5 770.8 L468 771.7 L468.5 772.5 L469 773.4 L469.5 774.3 L470 775.2 L470.5 776.1 L471 777.1 L471.5 778 L472 779 L472.5 780 L473 781 L473.5 782 L474 783 L474.5 784.1 L475 785.1 L475.5 786.2 L476 787.2 L476.5 788.3 L477 789.4 L477.5 790.5 L478 791.6 L478.5 792.8 L479 793.9 L479.5 795.1 L480 796.2 L480.5 797.4 L481 798.6 L481.5 799.8 L482 801 L482.5 802.2 L483 803.4 L483.5 804.6 L484 805.8 L484.5 807.1 L485 808.3 L485.5 809.6 L486 810.8 L486.5 812.1 L487 813.4 L487.5 814.7 L488 816 L488.5 817.3 L489 818.6 L489.5 819.9 L490 821.2 L490.5 822.5 L491 823.8 L491.5 825.2 L492 826.5 L492.5 827.8 L493 829.2 L493.5 830.5 L494 831.9 L494.5 833.2 L495 834.6 L495.5 835.9 L496 837.3 L496.5 838.7 L497 840 L497.5 841.4 L498 842.8 L498.5 844.1 L499 845.5 L499.5 846.9 L500 848.3 L500.5 849.6 L501 851 L501.5 852.4 L502 853.7 L502.5 855.1 L503 856.5 L503.5 857.9 L504 859.2 L504.5 860.6 L505 862 L505.5 863.3 L506 864.7 L506.5 866.1 L507 867.4 L507.5 868.8 L508 870.1 L508.5 871.5 L509 872.8 L509.5 874.2 L510 875.5 L510.5 876.8 L511 878.2 L511.5 879.5 L512 880.8 L512.5 882.1 L513 883.5 L513.5 884.8 L514 886.1 L514.5 887.3 L515 888.6 L515.5 889.9 L516 891.2 L516.5 892.5 L517 893.7 L517.5 895 L518 896.2 L518.5 897.4 L519 898.7 L519.5 899.9 L520 901.1 L520.5 902.3 L521 903.5 L521.5 904.7 L522 905.9 L522.5 907.1 L523 908.3 L523.5 909.5 L524 910.6 L524.5 911.8 L525 912.9 L525.5 914.1 L526 915.2 L526.5 916.4 L527 917.5 L527.5 918.6 L528 919.7 L528.5 920.9 L529 922 L529.5 923.1 L530 924.2 L530.5 925.3 L531 926.3 L531.5 927.4 L532 928.5 L532.5 929.5 L533 930.6 L533.5 931.7 L534 932.7 L534.5 933.8 L535 934.8 L535.5 935.8 L536 936.9 L536.5 937.9 L537 938.9 L537.5 939.9 L538 940.9 L538.5 941.9 L539 942.9 L539.5 943.9 L540 944.9 L540.5 945.9 L541 946.9 L541.5 947.8 L542 948.8 L542.5 949.8 L543 950.7 L543.5 951.7 L544 952.6 L544.5 953.6 L545 954.5 L545.5 955.5 L546 956.4 L546.5 957.3 L547 958.2 L547.5 959.2 L548 960.1 L548.5 961 L549 961.9 L549.5 962.8 L550 963.7 L550.5 964.6 L551 965.5 L551.5 966.4 L552 967.2 L552.5 968.1 L553 969 L553.5 969.9 L554 970.7 L554.5 971.6 L555 972.4 L555.5 973.3 L556 974.2 L556.5 975 L557 975.9 L557.5 976.7 L558 977.5 L558.5 978.4 L559 979.2 L559.5 980 L560 980.8 L560.5 981.7 L561 982.5 L561.5 983.3 L562 984.1 L562.5 984.9 L563 985.7 L563.5 986.5 L564 987.3 L564.5 988.1 L565 988.9 L565.5 989.7 L566 990.5 L566.5 991.3 L567 992.1 L567.5 992.9 L568 993.6 L568.5 994.4 L569 995.2 L569.5 996 L570 996.7 L570.5 997.5 L571 998.3 L571.5 999 L572 999.8 L572.5 1000.5 L573 1001.3 L573.5 1002 L574 1002.8 L574.5 1003.5 L575 1004.3 L575.5 1005 L576 1005.8 L576.5 1006.5 L577 1007.3 L577.5 1008 L578 1008.7 L578.5 1009.5 L579 1010.2 L579.5 1010.9 L580 1011.7 L580.5 1012.4 L581 1013.1 L581.5 1013.8 L582 1014.6 L582.5 1015.3 L583 1016 L583.5 1016.7 L584 1017.4 L584.5 1018.2 L585 1018.9 L585.5 1019.6 L586 1020.3 L586.5 1021 L587 1021.7 L587.5 1022.4 L588 1023.2 L588.5 1023.9 L589 1024.6 L589.5 1025.3 L590 1026 L590.5 1026.7 L591 1027.4 L591.5 1028.1 L592 1028.8 L592.5 1029.5 L593 1030.2 L593.5 1030.9 L594 1031.6 L594.5 1032.3 L595 1033 L595.5 1033.7 L596 1034.4 L596.5 1035.1 L597 1035.8 L597.5 1036.5 L598 1037.2 L598.5 1037.9 L599 1038.6 L599.5 1039.2 L600 1039.9 L600.5 1040.6 L601 1041.3 L601.5 1042 L602 1042.7 L602.5 1043.4 L603 1044 L603.5 1044.7 L604 1045.4 L604.5 1046.1 L605 1046.8 L605.5 1047.4 L606 1048.1 L606.5 1048.8 L607 1049.5 L607.5 1050.2 L608 1050.8 L608.5 1051.5 L609 1052.2 L609.5 1052.8 L610 1053.5 L610.5 1054.2 L611 1054.9 L611.5 1055.5 L612 1056.2 L612.5 1056.9 L613 1057.5 L613.5 1058.2 L614 1058.8 L614.5 1059.5 L615 1060.2 L615.5 1060.8 L616 1061.5 L616.5 1062.1 L617 1062.8 L617.5 1063.5 L618 1064.1 L618.5 1064.8 L619 1065.4 L619.5 1066.1 L620 1066.7 L620.5 1067.4 L621 1068 L621.5 1068.7 L622 1069.3 L622.5 1070 L623 1070.6 L623.5 1071.3 L624 1071.9 L624.5 1072.6 L625 1073.2 L625.5 1073.9 L626 1074.5 L626.5 1075.1 L627 1075.8 L627.5 1076.4 L628 1077.1 L628.5 1077.7 L629 1078.3 L629.5 1079 L630 1079.6 L630.5 1080.2 L631 1080.9 L631.5 1081.5 L632 1082.1 L632.5 1082.8 L633 1083.4 L633.5 1084 L634 1084.7 L634.5 1085.3 L635 1085.9 L635.5 1086.5 L636 1087.2 L636.5 1087.8 L637 1088.4 L637.5 1089 L638 1089.6 L638.5 1090.3 L639 1090.9 L639.5 1091.5 L640 1092.1 L640.5 1092.7 L641 1093.4 L641.5 1094 L642 1094.6 L642.5 1095.2 L643 1095.8 L643.5 1096.4 L644 1097 L644.5 1097.6 L645 1098.2 L645.5 1098.9 L646 1099.5 L646.5 1100.1 L647 1100.7 L647.5 1101.3 L648 1101.9 L648.5 1102.5 L649 1103.1 L649.5 1103.7 L650 1104.3 L650.5 1104.9 L651 1105.5 L651.5 1106.1 L652 1106.7 L652.5 1107.3 L653 1107.9 L653.5 1108.5 L654 1109.1 L654.5 1109.7 L655 1110.2 L655.5 1110.8 L656 1111.4 L656.5 1112 L657 1112.6 L657.5 1113.2 L658 1113.8 L658.5 1114.4 L659 1115 L659.5 1115.5 L660 1116.1 L660.5 1116.7 L661 1117.3 L661.5 1117.9 L662 1118.4 L662.5 1119 L663 1119.6 L663.5 1120.2 L664 1120.8 L664.5 1121.3 L665 1121.9 L665.5 1122.5 L666 1123.1 L666.5 1123.6 L667 1124.2 L667.5 1124.8 L668 1125.3 L668.5 1125.9 L669 1126.5 L669.5 1127 L670 1127.6 L670.5 1128.2 L671 1128.7 L671.5 1129.3 L672 1129.9 L672.5 1130.4 L673 1131 L673.5 1131.6 L674 1132.1 L674.5 1132.7 L675 1133.2 L675.5 1133.8 L676 1134.3 L676.5 1134.9 L677 1135.5 L677.5 1136 L678 1136.6 L678.5 1137.1 L679 1137.7 L679.5 1138.2 L680 1138.8 L680.5 1139.3 L681 1139.9 L681.5 1140.4 L682 1141 L682.5 1141.5 L683 1142.1 L683.5 1142.6 L684 1143.1 L684.5 1143.7 L685 1144.2 L685.5 1144.8 L686 1145.3 L686.5 1145.8 L687 1146.4 L687.5 1146.9 L688 1147.5 L688.5 1148 L689 1148.5 L689.5 1149.1 L690 1149.6 L690.5 1150.1 L691 1150.7 L691.5 1151.2 L692 1151.7 L692.5 1152.3 L693 1152.8 L693.5 1153.3 L694 1153.8 L694.5 1154.4 L695 1154.9 L695.5 1155.4 L696 1155.9 L696.5 1156.5 L697 1157 L697.5 1157.5 L698 1158 L698.5 1158.5 L699 1159.1 L699.5 1159.6 L700 1160.1 L700.5 1160.6 L701 1161.1 L701.5 1161.6 L702 1162.2 L702.5 1162.7 L703 1163.2 L703.5 1163.7 L704 1164.2 L704.5 1164.7 L705 1165.2 L705.5 1165.7 L706 1166.2 L706.5 1166.8 L707 1167.3 L707.5 1167.8 L708 1168.3 L708.5 1168.8 L709 1169.3 L709.5 1169.8 L710 1170.3 L710.5 1170.8 L711 1171.3 L711.5 1171.8 L712 1172.3 L712.5 1172.8 L713 1173.3 L713.5 1173.8 L714 1174.3 L714.5 1174.8 L715 1175.3 L715.5 1175.7 L716 1176.2 L716.5 1176.7 L717 1177.2 L717.5 1177.7 L718 1178.2 L718.5 1178.7 L719 1179.2 L719.5 1179.7 L720 1180.1 L720.5 1180.6 L721 1181.1 L721.5 1181.6 L722 1182.1 L722.5 1182.6 L723 1183 L723.5 1183.5 L724 1184 L724.5 1184.5 L725 1185 L725.5 1185.4 L726 1185.9 L726.5 1186.4 L727 1186.9 L727.5 1187.3 L728 1187.8 L728.5 1188.3 L729 1188.8 L729.5 1189.2 L730 1189.7 L730.5 1190.2 L731 1190.6 L731.5 1191.1 L732 1191.6 L732.5 1192 L733 1192.5 L733.5 1193 L734 1193.4 L734.5 1193.9 L735 1194.4 L735.5 1194.8 L736 1195.3 L736.5 1195.7 L737 1196.2 L737.5 1196.7 L738 1197.1 L738.5 1197.6 L739 1198 L739.5 1198.5 L740 1198.9 L740.5 1199.4 L741 1199.9 L741.5 1200.3 L742 1200.8 L742.5 1201.2 L743 1201.7 L743.5 1202.1 L744 1202.6 L744.5 1203 L745 1203.5 L745.5 1203.9 L746 1204.3 L746.5 1204.8 L747 1205.2 L747.5 1205.7 L748 1206.1 L748.5 1206.6 L749 1207 L749.5 1207.4 L750 1207.9 L750.5 1208.3 L751 1208.8 L751.5 1209.2 L752 1209.6 L752.5 1210.1 L753 1210.5 L753.5 1210.9 L754 1211.4 L754.5 1211.8 L755 1212.2 L755.5 1212.7 L756 1213.1 L756.5 1213.5 L757 1214 L757.5 1214.4 L758 1214.8 L758.5 1215.3 L759 1215.7 L759.5 1216.1 L760 1216.5 L760.5 1217 L761 1217.4 L761.5 1217.8 L762 1218.2 L762.5 1218.6 L763 1219.1 L763.5 1219.5 L764 1219.9 L764.5 1220.3 L765 1220.7 L765.5 1221.2 L766 1221.6 L766.5 1222 L767 1222.4 L767.5 1222.8 L768 1223.2 L768.5 1223.6 L769 1224.1 L769.5 1224.5 L770 1224.9 L770.5 1225.3 L771 1225.7 L771.5 1226.1 L772 1226.5 L772.5 1226.9 L773 1227.3 L773.5 1227.7 L774 1228.1 L774.5 1228.5 L775 1228.9 L775.5 1229.3 L776 1229.7 L776.5 1230.1 L777 1230.5 L777.5 1230.9 L778 1231.3 L778.5 1231.7 L779 1232.1 L779.5 1232.5 L780 1232.9 L780.5 1233.3 L781 1233.7 L781.5 1234.1 L782 1234.5 L782.5 1234.9 L783 1235.3 L783.5 1235.7 L784 1236.1 L784.5 1236.5 L785 1236.8 L785.5 1237.2 L786 1237.6 L786.5 1238 L787 1238.4 L787.5 1238.8 L788 1239.2 L788.5 1239.5 L789 1239.9 L789.5 1240.3 L790 1240.7 L790.5 1241.1 L791 1241.5 L791.5 1241.8 L792 1242.2 L792.5 1242.6 L793 1243 L793.5 1243.3 L794 1243.7 L794.5 1244.1 L795 1244.5 L795.5 1244.8 L796 1245.2 L796.5 1245.6 L797 1246 L797.5 1246.3 L798 1246.7 L798.5 1247.1 L799 1247.4 L799.5 1247.8 L800 1248.2 L800.5 1248.6 L801 1248.9 L801.5 1249.3 L802 1249.6 L802.5 1250 L803 1250.4 L803.5 1250.7 L804 1251.1 L804.5 1251.5 L805 1251.8 L805.5 1252.2 L806 1252.5 L806.5 1252.9 L807 1253.3 L807.5 1253.6 L808 1254 L808.5 1254.3 L809 1254.7 L809.5 1255 L810 1255.4 L810.5 1255.7 L811 1256.1 L811.5 1256.5 L812 1256.8 L812.5 1257.2 L813 1257.5 L813.5 1257.9 L814 1258.2 L814.5 1258.5 L815 1258.9 L815.5 1259.2 L816 1259.6 L816.5 1259.9 L817 1260.3 L817.5 1260.6 L818 1261 L818.5 1261.3 L819 1261.7 L819.5 1262 L820 1262.3 L820.5 1262.7 L821 1263 L821.5 1263.3 L822 1263.7 L822.5 1264 L823 1264.4 L823.5 1264.7 L824 1265 L824.5 1265.4 L825 1265.7 L825.5 1266 L826 1266.4 L826.5 1266.7 L827 1267 L827.5 1267.4 L828 1267.7 L828.5 1268 L829 1268.3 L829.5 1268.7 L830 1269 L830.5 1269.3 L831 1269.7 L831.5 1270 L832 1270.3 L832.5 1270.6 L833 1271 L833.5 1271.3 L834 1271.6 L834.5 1271.9 L835 1272.2 L835.5 1272.6 L836 1272.9 L836.5 1273.2 L837 1273.5 L837.5 1273.8 L838 1274.2 L838.5 1274.5 L839 1274.8 L839.5 1275.1 L840 1275.4 L840.5 1275.7 L841 1276 L841.5 1276.4 L842 1276.7 L842.5 1277 L843 1277.3 L843.5 1277.6 L844 1277.9 L844.5 1278.2 L845 1278.5 L845.5 1278.8 L846 1279.1 L846.5 1279.4 L847 1279.7 L847.5 1280.1 L848 1280.4 L848.5 1280.7 L849 1281 L849.5 1281.3 L850 1281.6 L850.5 1281.9 L851 1282.2 L851.5 1282.5 L852 1282.8 L852.5 1283.1 L853 1283.4 L853.5 1283.7 L854 1284 L854.5 1284.3 L855 1284.5 L855.5 1284.8 L856 1285.1 L856.5 1285.4 L857 1285.7 L857.5 1286 L858 1286.3 L858.5 1286.6 L859 1286.9 L859.5 1287.2 L860 1287.5 L860.5 1287.8 L861 1288 L861.5 1288.3 L862 1288.6 L862.5 1288.9 L863 1289.2 L863.5 1289.5 L864 1289.8 L864.5 1290 L865 1290.3 L865.5 1290.6 L866 1290.9 L866.5 1291.2 L867 1291.4 L867.5 1291.7 L868 1292 L868.5 1292.3 L869 1292.6 L869.5 1292.8 L870 1293.1 L870.5 1293.4 L871 1293.7 L871.5 1293.9 L872 1294.2 L872.5 1294.5 L873 1294.8 L873.5 1295 L874 1295.3 L874.5 1295.6 L875 1295.8 L875.5 1296.1 L876 1296.4 L876.5 1296.7 L877 1296.9 L877.5 1297.2 L878 1297.5 L878.5 1297.7 L879 1298 L879.5 1298.3 L880 1298.5 L880.5 1298.8 L881 1299.1 L881.5 1299.3 L882 1299.6 L882.5 1299.8 L883 1300.1 L883.5 1300.4 L884 1300.6 L884.5 1300.9 L885 1301.1 L885.5 1301.4 L886 1301.7 L886.5 1301.9 L887 1302.2 L887.5 1302.4 L888 1302.7 L888.5 1302.9 L889 1303.2 L889.5 1303.4 L890 1303.7 L890.5 1303.9 L891 1304.2 L891.5 1304.4 L892 1304.7 L892.5 1304.9 L893 1305.2 L893.5 1305.4 L894 1305.7 L894.5 1305.9 L895 1306.2 L895.5 1306.4 L896 1306.7 L896.5 1306.9 L897 1307.2 L897.5 1307.4 L898 1307.7 L898.5 1307.9 L899 1308.1 L899.5 1308.4 L900 1308.6 L900.5 1308.9 L901 1309.1 L901.5 1309.4 L902 1309.6 L902.5 1309.8 L903 1310.1 L903.5 1310.3 L904 1310.5 L904.5 1310.8 L905 1311 L905.5 1311.2 L906 1311.5 L906.5 1311.7 L907 1311.9 L907.5 1312.2 L908 1312.4 L908.5 1312.6 L909 1312.9 L909.5 1313.1 L910 1313.3 L910.5 1313.6 L911 1313.8 L911.5 1314 L912 1314.3 L912.5 1314.5 L913 1314.7 L913.5 1314.9 L914 1315.2 L914.5 1315.4 L915 1315.6 L915.5 1315.8 L916 1316.1 L916.5 1316.3 L917 1316.5 L917.5 1316.7 L918 1316.9 L918.5 1317.2 L919 1317.4 L919.5 1317.6 L920 1317.8 L920.5 1318 L921 1318.3 L921.5 1318.5 L922 1318.7 L922.5 1318.9 L923 1319.1 L923.5 1319.3 L924 1319.6 L924.5 1319.8 L925 1320 L925.5 1320.2 L926 1320.4 L926.5 1320.6 L927 1320.8 L927.5 1321 L928 1321.2 L928.5 1321.5 L929 1321.7 L929.5 1321.9 L930 1322.1 L930.5 1322.3 L931 1322.5 L931.5 1322.7 L932 1322.9 L932.5 1323.1 L933 1323.3 L933.5 1323.5 L934 1323.7 L934.5 1323.9 L935 1324.1 L935.5 1324.3 L936 1324.5 L936.5 1324.7 L937 1324.9 L937.5 1325.1 L938 1325.3 L938.5 1325.5 L939 1325.7 L939.5 1325.9 L940 1326.1 L940.5 1326.3 L941 1326.5 L941.5 1326.7 L942 1326.9 L942.5 1327.1 L943 1327.3 L943.5 1327.5 L944 1327.7 L944.5 1327.9 L945 1328.1 L945.5 1328.3 L946 1328.5 L946.5 1328.7 L947 1328.8 L947.5 1329 L948 1329.2 L948.5 1329.4 L949 1329.6 L949.5 1329.8 L950 1330 L950.5 1330.2 L951 1330.3 L951.5 1330.5 L952 1330.7 L952.5 1330.9 L953 1331.1 L953.5 1331.3 L954 1331.5 L954.5 1331.6 L955 1331.8 L955.5 1332 L956 1332.2 L956.5 1332.4 L957 1332.5 L957.5 1332.7 L958 1332.9 L958.5 1333.1 L959 1333.3 L959.5 1333.4 L960 1333.6 L960.5 1333.8 L961 1334 L961.5 1334.1 L962 1334.3 L962.5 1334.5 L963 1334.7 L963.5 1334.8 L964 1335 L964.5 1335.2 L965 1335.4 L965.5 1335.5 L966 1335.7 L966.5 1335.9 L967 1336 L967.5 1336.2 L968 1336.4 L968.5 1336.5 L969 1336.7 L969.5 1336.9 L970 1337 L970.5 1337.2 L971 1337.4 L971.5 1337.5 L972 1337.7 L972.5 1337.9 L973 1338 L973.5 1338.2 L974 1338.4 L974.5 1338.5 L975 1338.7 L975.5 1338.8 L976 1339 L976.5 1339.2 L977 1339.3 L977.5 1339.5 L978 1339.7 L978.5 1339.8 L979 1340 L979.5 1340.1 L980 1340.3 L980.5 1340.4 L981 1340.6 L981.5 1340.8 L982 1340.9 L982.5 1341.1 L983 1341.2 L983.5 1341.4 L984 1341.5 L984.5 1341.7 L985 1341.8 L985.5 1342 L986 1342.1 L986.5 1342.3 L987 1342.4 L987.5 1342.6 L988 1342.7 L988.5 1342.9 L989 1343 L989.5 1343.2 L990 1343.3 L990.5 1343.5 L991 1343.6 L991.5 1343.8 L992 1343.9 L992.5 1344.1 L993 1344.2 L993.5 1344.4 L994 1344.5 L994.5 1344.6 L995 1344.8 L995.5 1344.9 L996 1345.1 L996.5 1345.2 L997 1345.4 L997.5 1345.5 L998 1345.6 L998.5 1345.8 L999 1345.9 L999.5 1346.1 L1000 1346.2 L1000.5 1346.3 L1001 1346.5 L1001.5 1346.6 L1002 1346.7 L1002.5 1346.9 L1003 1347 L1003.5 1347.2 L1004 1347.3 L1004.5 1347.4 L1005 1347.6 L1005.5 1347.7 L1006 1347.8 L1006.5 1348 L1007 1348.1 L1007.5 1348.2 L1008 1348.4 L1008.5 1348.5 L1009 1348.6 L1009.5 1348.7 L1010 1348.9 L1010.5 1349 L1011 1349.1 L1011.5 1349.3 L1012 1349.4 L1012.5 1349.5 L1013 1349.6 L1013.5 1349.8 L1014 1349.9 L1014.5 1350 L1015 1350.2 L1015.5 1350.3 L1016 1350.4 L1016.5 1350.5 L1017 1350.6 L1017.5 1350.8 L1018 1350.9 L1018.5 1351 L1019 1351.1 L1019.5 1351.3 L1020 1351.4 L1020.5 1351.5 L1021 1351.6 L1021.5 1351.7 L1022 1351.9 L1022.5 1352 L1023 1352.1 L1023.5 1352.2 L1024 1352.3 L1024.5 1352.5 L1025 1352.6 L1025.5 1352.7 L1026 1352.8 L1026.5 1352.9 L1027 1353 L1027.5 1353.1 L1028 1353.3 L1028.5 1353.4 L1029 1353.5 L1029.5 1353.6 L1030 1353.7 L1030.5 1353.8 L1031 1353.9 L1031.5 1354.1 L1032 1354.2 L1032.5 1354.3 L1033 1354.4 L1033.5 1354.5 L1034 1354.6 L1034.5 1354.7 L1035 1354.8 L1035.5 1354.9 L1036 1355 L1036.5 1355.1 L1037 1355.3 L1037.5 1355.4 L1038 1355.5 L1038.5 1355.6 L1039 1355.7 L1039.5 1355.8 L1040 1355.9 L1040.5 1356 L1041 1356.1 L1041.5 1356.2 L1042 1356.3 L1042.5 1356.4 L1043 1356.5 L1043.5 1356.6 L1044 1356.7 L1044.5 1356.8 L1045 1356.9 L1045.5 1357 L1046 1357.1 L1046.5 1357.2 L1047 1357.3 L1047.5 1357.4 L1048 1357.5 L1048.5 1357.6 L1049 1357.7 L1049.5 1357.8 L1050 1357.9 L1050.5 1358 L1051 1358.1 L1051.5 1358.2 L1052 1358.3 L1052.5 1358.4 L1053 1358.5 L1053.5 1358.6 L1054 1358.6 L1054.5 1358.7 L1055 1358.8 L1055.5 1358.9 L1056 1359 L1056.5 1359.1 L1057 1359.2 L1057.5 1359.3 L1058 1359.4 L1058.5 1359.5 L1059 1359.6 L1059.5 1359.6 L1060 1359.7 L1060.5 1359.8 L1061 1359.9 L1061.5 1360 L1062 1360.1 L1062.5 1360.2 L1063 1360.3 L1063.5 1360.3 L1064 1360.4 L1064.5 1360.5 L1065 1360.6 L1065.5 1360.7 L1066 1360.8 L1066.5 1360.9 L1067 1360.9 L1067.5 1361 L1068 1361.1 L1068.5 1361.2 L1069 1361.3 L1069.5 1361.4 L1070 1361.4 L1070.5 1361.5 L1071 1361.6 L1071.5 1361.7 L1072 1361.8 L1072.5 1361.8 L1073 1361.9 L1073.5 1362 L1074 1362.1 L1074.5 1362.1 L1075 1362.2 L1075.5 1362.3 L1076 1362.4 L1076.5 1362.5 L1077 1362.5 L1077.5 1362.6 L1078 1362.7 L1078.5 1362.8 L1079 1362.8 L1079.5 1362.9 L1080 1363 L1080.5 1363.1 L1081 1363.1 L1081.5 1363.2 L1082 1363.3 L1082.5 1363.3 L1083 1363.4 L1083.5 1363.5 L1084 1363.6 L1084.5 1363.6 L1085 1363.7 L1085.5 1363.8 L1086 1363.8 L1086.5 1363.9 L1087 1364 L1087.5 1364 L1088 1364.1 L1088.5 1364.2 L1089 1364.3 L1089.5 1364.3 L1090 1364.4 L1090.5 1364.5 L1091 1364.5 L1091.5 1364.6 L1092 1364.6 L1092.5 1364.7 L1093 1364.8 L1093.5 1364.8 L1094 1364.9 L1094.5 1365 L1095 1365 L1095.5 1365.1 L1096 1365.2 L1096.5 1365.2 L1097 1365.3 L1097.5 1365.3 L1098 1365.4 L1098.5 1365.5 L1099 1365.5 L1099.5 1365.6 L1100 1365.7 L1100.5 1365.7 L1101 1365.8 L1101.5 1365.8 L1102 1365.9 L1102.5 1365.9 L1103 1366 L1103.5 1366.1 L1104 1366.1 L1104.5 1366.2 L1105 1366.2 L1105.5 1366.3 L1106 1366.3 L1106.5 1366.4 L1107 1366.5 L1107.5 1366.5 L1108 1366.6 L1108.5 1366.6 L1109 1366.7 L1109.5 1366.7 L1110 1366.8 L1110.5 1366.8 L1111 1366.9 L1111.5 1366.9 L1112 1367 L1112.5 1367 L1113 1367.1 L1113.5 1367.2 L1114 1367.2 L1114.5 1367.3 L1115 1367.3 L1115.5 1367.4 L1116 1367.4 L1116.5 1367.5 L1117 1367.5 L1117.5 1367.6 L1118 1367.6 L1118.5 1367.6 L1119 1367.7 L1119.5 1367.7 L1120 1367.8 L1120.5 1367.8 L1121 1367.9 L1121.5 1367.9 L1122 1368 L1122.5 1368 L1123 1368.1 L1123.5 1368.1 L1124 1368.2 L1124.5 1368.2 L1125 1368.2 L1125.5 1368.3 L1126 1368.3 L1126.5 1368.4 L1127 1368.4 L1127.5 1368.5 L1128 1368.5 L1128.5 1368.5 L1129 1368.6 L1129.5 1368.6 L1130 1368.7 L1130.5 1368.7 L1131 1368.8 L1131.5 1368.8 L1132 1368.8 L1132.5 1368.9 L1133 1368.9 L1133.5 1369 L1134 1369 L1134.5 1369 L1135 1369.1 L1135.5 1369.1 L1136 1369.1" fill="none" stroke="#0000ff" stroke-width="6" stroke-linejoin="round" stroke-linecap="butt"/>
<path d="M236.5 1389.4 L237 1389.5 L237.5 1389.5 L238 1389.5 L238.5 1389.5 L239 1389.5 L239.5 1389.5 L240 1389.5 L240.5 1389.5 L241 1389.5 L241.5 1389.4 L242 1389.4 L242.5 1389.3 L243 1389.3 L243.5 1389.2 L244 1389.1 L244.5 1389 L245 1389 L245.5 1388.9 L246 1388.8 L246.5 1388.6 L247 1388.5 L247.5 1388.4 L248 1388.3 L248.5 1388.1 L249 1387.9 L249.5 1387.8 L250 1387.6 L250.5 1387.4 L251 1387.2 L251.5 1387 L252 1386.8 L252.5 1386.6 L253 1386.4 L253.5 1386.2 L254 1385.9 L254.5 1385.7 L255 1385.4 L255.5 1385.1 L256 1384.9 L256.5 1384.6 L257 1384.3 L257.5 1384 L258 1383.7 L258.5 1383.3 L259 1383 L259.5 1382.7 L260 1382.3 L260.5 1381.9 L261 1381.6 L261.5 1381.2 L262 1380.8 L262.5 1380.4 L263 1380 L263.5 1379.5 L264 1379.1 L264.5 1378.7 L265 1378.2 L265.5 1377.8 L266 1377.3 L266.5 1376.8 L267 1376.3 L267.5 1375.8 L268 1375.3 L268.5 1374.8 L269 1374.2 L269.5 1373.7 L270 1373.1 L270.5 1372.6 L271 1372 L271.5 1371.4 L272 1370.8 L272.5 1370.2 L273 1369.6 L273.5 1368.9 L274 1368.3 L274.5 1367.6 L275 1367 L275.5 1366.3 L276 1365.6 L276.5 1364.9 L277 1364.2 L277.5 1363.5 L278 1362.7 L278.5 1362 L279 1361.2 L279.5 1360.5 L280 1359.7 L280.5 1358.9 L281 1358.1 L281.5 1357.3 L282 1356.4 L282.5 1355.6 L283 1354.7 L283.5 1353.9 L284 1353 L284.5 1352.1 L285 1351.2 L285.5 1350.3 L286 1349.4 L286.5 1348.4 L287 1347.5 L287.5 1346.5 L288 1345.5 L288.5 1344.6 L289 1343.5 L289.5 1342.5 L290 1341.5 L290.5 1340.5 L291 1339.4 L291.5 1338.4 L292 1337.3 L292.5 1336.2 L293 1335.1 L293.5 1334 L294 1332.8 L294.5 1331.7 L295 1330.5 L295.5 1329.4 L296 1328.2 L296.5 1327 L297 1325.8 L297.5 1324.5 L298 1323.3 L298.5 1322 L299 1320.8 L299.5 1319.5 L300 1318.2 L300.5 1316.9 L301 1315.6 L301.5 1314.3 L302 1312.9 L302.5 1311.6 L303 1310.2 L303.5 1308.8 L304 1307.4 L304.5 1306 L305 1304.6 L305.5 1303.2 L306 1301.7 L306.5 1300.2 L307 1298.8 L307.5 1297.3 L308 1295.8 L308.5 1294.3 L309 1292.8 L309.5 1291.2 L310 1289.7 L310.5 1288.1 L311 1286.6 L311.5 1285 L312 1283.4 L312.5 1281.8 L313 1280.2 L313.5 1278.5 L314 1276.9 L314.5 1275.2 L315 1273.6 L315.5 1271.9 L316 1270.2 L316.5 1268.5 L317 1266.8 L317.5 1265.1 L318 1263.3 L318.5 1261.6 L319 1259.8 L319.5 1258.1 L320 1256.3 L320.5 1254.5 L321 1252.7 L321.5 1250.9 L322 1249.1 L322.5 1247.2 L323 1245.4 L323.5 1243.5 L324 1241.7 L324.5 1239.8 L325 1237.9 L325.5 1236 L326 1234.1 L326.5 1232.2 L327 1230.2 L327.5 1228.3 L328 1226.3 L328.5 1224.4 L329 1222.4 L329.5 1220.4 L330 1218.4 L330.5 1216.4 L331 1214.4 L331.5 1212.4 L332 1210.4 L332.5 1208.4 L333 1206.3 L333.5 1204.3 L334 1202.2 L334.5 1200.2 L335 1198.1 L335.5 1196 L336 1193.9 L336.5 1191.8 L337 1189.7 L337.5 1187.6 L338 1185.5 L338.5 1183.4 L339 1181.3 L339.5 1179.2 L340 1177 L340.5 1174.9 L341 1172.8 L341.5 1170.6 L342 1168.5 L342.5 1166.3 L343 1164.1 L343.5 1162 L344 1159.8 L344.5 1157.6 L345 1155.5 L345.5 1153.3 L346 1151.1 L346.5 1148.9 L347 1146.8 L347.5 1144.6 L348 1142.4 L348.5 1140.2 L349 1138 L349.5 1135.8 L350 1133.6 L350.5 1131.4 L351 1129.2 L351.5 1127 L352 1124.8 L352.5 1122.6 L353 1120.4 L353.5 1118.2 L354 1116 L354.5 1113.8 L355 1111.7 L355.5 1109.5 L356 1107.3 L356.5 1105.1 L357 1102.9 L357.5 1100.7 L358 1098.5 L358.5 1096.3 L359 1094.1 L359.5 1092 L360 1089.8 L360.5 1087.6 L361 1085.4 L361.5 1083.3 L362 1081.1 L362.5 1079 L363 1076.8 L363.5 1074.7 L364 1072.5 L364.5 1070.4 L365 1068.2 L365.5 1066.1 L366 1064 L366.5 1061.8 L367 1059.7 L367.5 1057.6 L368 1055.5 L368.5 1053.4 L369 1051.3 L369.5 1049.2 L370 1047.2 L370.5 1045.1 L371 1043 L371.5 1041 L372 1038.9 L372.5 1036.9 L373 1034.8 L373.5 1032.8 L374 1030.8 L374.5 1028.8 L375 1026.8 L375.5 1024.8 L376 1022.8 L376.5 1020.8 L377 1018.9 L377.5 1016.9 L378 1015 L378.5 1013 L379 1011.1 L379.5 1009.2 L380 1007.3 L380.5 1005.4 L381 1003.5 L381.5 1001.7 L382 999.8 L382.5 998 L383 996.1 L383.5 994.3 L384 992.5 L384.5 990.7 L385 988.9 L385.5 987.2 L386 985.4 L386.5 983.6 L387 981.9 L387.5 980.2 L388 978.5 L388.5 976.8 L389 975.1 L389.5 973.4 L390 971.7 L390.5 970.1 L391 968.4 L391.5 966.8 L392 965.2 L392.5 963.6 L393 962 L393.5 960.4 L394 958.9 L394.5 957.3 L395 955.8 L395.5 954.2 L396 952.7 L396.5 951.2 L397 949.7 L397.5 948.3 L398 946.8 L398.5 945.4 L399 943.9 L399.5 942.5 L400 941.1 L400.5 939.7 L401 938.3 L401.5 936.9 L402 935.6 L402.5 934.2 L403 932.9 L403.5 931.6 L404 930.3 L404.5 929 L405 927.7 L405.5 926.5 L406 925.2 L406.5 924 L407 922.8 L407.5 921.6 L408 920.4 L408.5 919.2 L409 918 L409.5 916.9 L410 915.8 L410.5 914.6 L411 913.5 L411.5 912.4 L412 911.4 L412.5 910.3 L413 909.2 L413.5 908.2 L414 907.2 L414.5 906.2 L415 905.2 L415.5 904.2 L416 903.3 L416.5 902.3 L417 901.4 L417.5 900.5 L418 899.6 L418.5 898.7 L419 897.8 L419.5 897 L420 896.1 L420.5 895.3 L421 894.5 L421.5 893.7 L422 892.9 L422.5 892.1 L423 891.4 L423.5 890.6 L424 889.9 L424.5 889.2 L425 888.5 L425.5 887.9 L426 887.2 L426.5 886.6 L427 885.9 L427.5 885.3 L428 884.7 L428.5 884.2 L429 883.6 L429.5 883.1 L430 882.5 L430.5 882 L431 881.5 L431.5 881 L432 880.6 L432.5 880.1 L433 879.7 L433.5 879.3 L434 878.9 L434.5 878.5 L435 878.1 L435.5 877.8 L436 877.4 L436.5 877.1 L437 876.8 L437.5 876.5 L438 876.3 L438.5 876 L439 875.8 L439.5 875.6 L440 875.4 L440.5 875.2 L441 875 L441.5 874.9 L442 874.7 L442.5 874.6 L443 874.5 L443.5 874.4 L444 874.4 L444.5 874.3 L445 874.3 L445.5 874.3 L446 874.3 L446.5 874.3 L447 874.4 L447.5 874.4 L448 874.5 L448.5 874.6 L449 874.7 L449.5 874.9 L450 875 L450.5 875.2 L451 875.4 L451.5 875.6 L452 875.8 L452.5 876 L453 876.3 L453.5 876.5 L454 876.8 L454.5 877.2 L455 877.5 L455.5 877.8 L456 878.2 L456.5 878.6 L457 879 L457.5 879.4 L458 879.8 L458.5 880.2 L459 880.7 L459.5 881.2 L460 881.7 L460.5 882.2 L461 882.7 L461.5 883.2 L462 883.8 L462.5 884.3 L463 884.9 L463.5 885.5 L464 886.1 L464.5 886.7 L465 887.3 L465.5 888 L466 888.6 L466.5 889.3 L467 890 L467.5 890.7 L468 891.4 L468.5 892.1 L469 892.9 L469.5 893.6 L470 894.4 L470.5 895.1 L471 895.9 L471.5 896.7 L472 897.5 L472.5 898.3 L473 899.1 L473.5 900 L474 900.8 L474.5 901.6 L475 902.5 L475.5 903.4 L476 904.3 L476.5 905.2 L477 906.1 L477.5 907 L478 907.9 L478.5 908.8 L479 909.7 L479.5 910.7 L480 911.6 L480.5 912.6 L481 913.5 L481.5 914.5 L482 915.5 L482.5 916.5 L483 917.5 L483.5 918.5 L484 919.5 L484.5 920.5 L485 921.5 L485.5 922.5 L486 923.6 L486.5 924.6 L487 925.6 L487.5 926.7 L488 927.7 L488.5 928.8 L489 929.8 L489.5 930.9 L490 932 L490.5 933 L491 934.1 L491.5 935.2 L492 936.3 L492.5 937.4 L493 938.5 L493.5 939.5 L494 940.6 L494.5 941.7 L495 942.8 L495.5 943.9 L496 945 L496.5 946.1 L497 947.2 L497.5 948.4 L498 949.5 L498.5 950.6 L499 951.7 L499.5 952.8 L500 953.9 L500.5 955 L501 956.1 L501.5 957.2 L502 958.4 L502.5 959.5 L503 960.6 L503.5 961.7 L504 962.8 L504.5 963.9 L505 965 L505.5 966.1 L506 967.2 L506.5 968.3 L507 969.4 L507.5 970.5 L508 971.6 L508.5 972.7 L509 973.8 L509.5 974.9 L510 975.9 L510.5 977 L511 978.1 L511.5 979.2 L512 980.2 L512.5 981.3 L513 982.3 L513.5 983.4 L514 984.5 L514.5 985.5 L515 986.5 L515.5 987.6 L516 988.6 L516.5 989.6 L517 990.6 L517.5 991.6 L518 992.7 L518.5 993.7 L519 994.6 L519.5 995.6 L520 996.6 L520.5 997.6 L521 998.6 L521.5 999.6 L522 1000.5 L522.5 1001.5 L523 1002.4 L523.5 1003.4 L524 1004.3 L524.5 1005.3 L525 1006.2 L525.5 1007.2 L526 1008.1 L526.5 1009 L527 1009.9 L527.5 1010.8 L528 1011.7 L528.5 1012.7 L529 1013.6 L529.5 1014.4 L530 1015.3 L530.5 1016.2 L531 1017.1 L531.5 1018 L532 1018.9 L532.5 1019.7 L533 1020.6 L533.5 1021.5 L534 1022.3 L534.5 1023.2 L535 1024 L535.5 1024.8 L536 1025.7 L536.5 1026.5 L537 1027.4 L537.5 1028.2 L538 1029 L538.5 1029.8 L539 1030.6 L539.5 1031.4 L540 1032.2 L540.5 1033 L541 1033.8 L541.5 1034.6 L542 1035.4 L542.5 1036.2 L543 1037 L543.5 1037.8 L544 1038.6 L544.5 1039.3 L545 1040.1 L545.5 1040.9 L546 1041.6 L546.5 1042.4 L547 1043.1 L547.5 1043.9 L548 1044.6 L548.5 1045.4 L549 1046.1 L549.5 1046.8 L550 1047.6 L550.5 1048.3 L551 1049 L551.5 1049.7 L552 1050.5 L552.5 1051.2 L553 1051.9 L553.5 1052.6 L554 1053.3 L554.5 1054 L555 1054.7 L555.5 1055.4 L556 1056.1 L556.5 1056.8 L557 1057.5 L557.5 1058.1 L558 1058.8 L558.5 1059.5 L559 1060.2 L559.5 1060.8 L560 1061.5 L560.5 1062.2 L561 1062.8 L561.5 1063.5 L562 1064.1 L562.5 1064.8 L563 1065.4 L563.5 1066.1 L564 1066.7 L564.5 1067.4 L565 1068 L565.5 1068.6 L566 1069.3 L566.5 1069.9 L567 1070.5 L567.5 1071.2 L568 1071.8 L568.5 1072.4 L569 1073 L569.5 1073.6 L570 1074.3 L570.5 1074.9 L571 1075.5 L571.5 1076.1 L572 1076.7 L572.5 1077.3 L573 1077.9 L573.5 1078.5 L574 1079.1 L574.5 1079.7 L575 1080.3 L575.5 1080.8 L576 1081.4 L576.5 1082 L577 1082.6 L577.5 1083.2 L578 1083.8 L578.5 1084.3 L579 1084.9 L579.5 1085.5 L580 1086 L580.5 1086.6 L581 1087.2 L581.5 1087.7 L582 1088.3 L582.5 1088.9 L583 1089.4 L583.5 1090 L584 1090.5 L584.5 1091.1 L585 1091.6 L585.5 1092.2 L586 1092.7 L586.5 1093.3 L587 1093.8 L587.5 1094.4 L588 1094.9 L588.5 1095.5 L589 1096 L589.5 1096.5 L590 1097.1 L590.5 1097.6 L591 1098.2 L591.5 1098.7 L592 1099.2 L592.5 1099.7 L593 1100.3 L593.5 1100.8 L594 1101.3 L594.5 1101.9 L595 1102.4 L595.5 1102.9 L596 1103.4 L596.5 1104 L597 1104.5 L597.5 1105 L598 1105.5 L598.5 1106 L599 1106.5 L599.5 1107.1 L600 1107.6 L600.5 1108.1 L601 1108.6 L601.5 1109.1 L602 1109.6 L602.5 1110.1 L603 1110.6 L603.5 1111.2 L604 1111.7 L604.5 1112.2 L605 1112.7 L605.5 1113.2 L606 1113.7 L606.5 1114.2 L607 1114.7 L607.5 1115.2 L608 1115.7 L608.5 1116.2 L609 1116.7 L609.5 1117.2 L610 1117.7 L610.5 1118.2 L611 1118.7 L611.5 1119.2 L612 1119.7 L612.5 1120.2 L613 1120.7 L613.5 1121.2 L614 1121.7 L614.5 1122.2 L615 1122.7 L615.5 1123.2 L616 1123.7 L616.5 1124.2 L617 1124.7 L617.5 1125.2 L618 1125.7 L618.5 1126.2 L619 1126.7 L619.5 1127.2 L620 1127.7 L620.5 1128.2 L621 1128.7 L621.5 1129.2 L622 1129.7 L622.5 1130.2 L623 1130.7 L623.5 1131.1 L624 1131.6 L624.5 1132.1 L625 1132.6 L625.5 1133.1 L626 1133.6 L626.5 1134.1 L627 1134.6 L627.5 1135.1 L628 1135.6 L628.5 1136 L629 1136.5 L629.5 1137 L630 1137.5 L630.5 1138 L631 1138.5 L631.5 1139 L632 1139.5 L632.5 1139.9 L633 1140.4 L633.5 1140.9 L634 1141.4 L634.5 1141.9 L635 1142.4 L635.5 1142.8 L636 1143.3 L636.5 1143.8 L637 1144.3 L637.5 1144.8 L638 1145.3 L638.5 1145.7 L639 1146.2 L639.5 1146.7 L640 1147.2 L640.5 1147.7 L641 1148.1 L641.5 1148.6 L642 1149.1 L642.5 1149.6 L643 1150 L643.5 1150.5 L644 1151 L644.5 1151.5 L645 1151.9 L645.5 1152.4 L646 1152.9 L646.5 1153.4 L647 1153.8 L647.5 1154.3 L648 1154.8 L648.5 1155.3 L649 1155.7 L649.5 1156.2 L650 1156.7 L650.5 1157.1 L651 1157.6 L651.5 1158.1 L652 1158.6 L652.5 1159 L653 1159.5 L653.5 1160 L654 1160.4 L654.5 1160.9 L655 1161.4 L655.5 1161.8 L656 1162.3 L656.5 1162.8 L657 1163.2 L657.5 1163.7 L658 1164.2 L658.5 1164.6 L659 1165.1 L659.5 1165.5 L660 1166 L660.5 1166.5 L661 1166.9 L661.5 1167.4 L662 1167.8 L662.5 1168.3 L663 1168.8 L663.5 1169.2 L664 1169.7 L664.5 1170.1 L665 1170.6 L665.5 1171.1 L666 1171.5 L666.5 1172 L667 1172.4 L667.5 1172.9 L668 1173.3 L668.5 1173.8 L669 1174.2 L669.5 1174.7 L670 1175.2 L670.5 1175.6 L671 1176.1 L671.5 1176.5 L672 1177 L672.5 1177.4 L673 1177.9 L673.5 1178.3 L674 1178.8 L674.5 1179.2 L675 1179.7 L675.5 1180.1 L676 1180.6 L676.5 1181 L677 1181.5 L677.5 1181.9 L678 1182.3 L678.5 1182.8 L679 1183.2 L679.5 1183.7 L680 1184.1 L680.5 1184.6 L681 1185 L681.5 1185.5 L682 1185.9 L682.5 1186.3 L683 1186.8 L683.5 1187.2 L684 1187.7 L684.5 1188.1 L685 1188.5 L685.5 1189 L686 1189.4 L686.5 1189.9 L687 1190.3 L687.5 1190.7 L688 1191.2 L688.5 1191.6 L689 1192 L689.5 1192.5 L690 1192.9 L690.5 1193.3 L691 1193.8 L691.5 1194.2 L692 1194.6 L692.5 1195.1 L693 1195.5 L693.5 1195.9 L694 1196.4 L694.5 1196.8 L695 1197.2 L695.5 1197.7 L696 1198.1 L696.5 1198.5 L697 1198.9 L697.5 1199.4 L698 1199.8 L698.5 1200.2 L699 1200.6 L699.5 1201.1 L700 1201.5 L700.5 1201.9 L701 1202.3 L701.5 1202.8 L702 1203.2 L702.5 1203.6 L703 1204 L703.5 1204.5 L704 1204.9 L704.5 1205.3 L705 1205.7 L705.5 1206.1 L706 1206.5 L706.5 1207 L707 1207.4 L707.5 1207.8 L708 1208.2 L708.5 1208.6 L709 1209.1 L709.5 1209.5 L710 1209.9 L710.5 1210.3 L711 1210.7 L711.5 1211.1 L712 1211.5 L712.5 1211.9 L713 1212.4 L713.5 1212.8 L714 1213.2 L714.5 1213.6 L715 1214 L715.5 1214.4 L716 1214.8 L716.5 1215.2 L717 1215.6 L717.5 1216 L718 1216.4 L718.5 1216.8 L719 1217.3 L719.5 1217.7 L720 1218.1 L720.5 1218.5 L721 1218.9 L721.5 1219.3 L722 1219.7 L722.5 1220.1 L723 1220.5 L723.5 1220.9 L724 1221.3 L724.5 1221.7 L725 1222.1 L725.5 1222.5 L726 1222.9 L726.5 1223.3 L727 1223.7 L727.5 1224.1 L728 1224.5 L728.5 1224.8 L729 1225.2 L729.5 1225.6 L730 1226 L730.5 1226.4 L731 1226.8 L731.5 1227.2 L732 1227.6 L732.5 1228 L733 1228.4 L733.5 1228.8 L734 1229.2 L734.5 1229.5 L735 1229.9 L735.5 1230.3 L736 1230.7 L736.5 1231.1 L737 1231.5 L737.5 1231.9 L738 1232.2 L738.5 1232.6 L739 1233 L739.5 1233.4 L740 1233.8 L740.5 1234.2 L741 1234.5 L741.5 1234.9 L742 1235.3 L742.5 1235.7 L743 1236.1 L743.5 1236.4 L744 1236.8 L744.5 1237.2 L745 1237.6 L745.5 1237.9 L746 1238.3 L746.5 1238.7 L747 1239.1 L747.5 1239.4 L748 1239.8 L748.5 1240.2 L749 1240.6 L749.5 1240.9 L750 1241.3 L750.5 1241.7 L751 1242 L751.5 1242.4 L752 1242.8 L752.5 1243.1 L753 1243.5 L753.5 1243.9 L754 1244.2 L754.5 1244.6 L755 1245 L755.5 1245.3 L756 1245.7 L756.5 1246.1 L757 1246.4 L757.5 1246.8 L758 1247.2 L758.5 1247.5 L759 1247.9 L759.5 1248.2 L760 1248.6 L760.5 1249 L761 1249.3 L761.5 1249.7 L762 1250 L762.5 1250.4 L763 1250.7 L763.5 1251.1 L764 1251.4 L764.5 1251.8 L765 1252.2 L765.5 1252.5 L766 1252.9 L766.5 1253.2 L767 1253.6 L767.5 1253.9 L768 1254.3 L768.5 1254.6 L769 1255 L769.5 1255.3 L770 1255.7 L770.5 1256 L771 1256.3 L771.5 1256.7 L772 1257 L772.5 1257.4 L773 1257.7 L773.5 1258.1 L774 1258.4 L774.5 1258.7 L775 1259.1 L775.5 1259.4 L776 1259.8 L776.5 1260.1 L777 1260.4 L777.5 1260.8 L778 1261.1 L778.5 1261.5 L779 1261.8 L779.5 1262.1 L780 1262.5 L780.5 1262.8 L781 1263.1 L781.5 1263.5 L782 1263.8 L782.5 1264.1 L783 1264.5 L783.5 1264.8 L784 1265.1 L784.5 1265.5 L785 1265.8 L785.5 1266.1 L786 1266.4 L786.5 1266.8 L787 1267.1 L787.5 1267.4 L788 1267.7 L788.5 1268.1 L789 1268.4 L789.5 1268.7 L790 1269 L790.5 1269.4 L791 1269.7 L791.5 1270 L792 1270.3 L792.5 1270.6 L793 1271 L793.5 1271.3 L794 1271.6 L794.5 1271.9 L795 1272.2 L795.5 1272.5 L796 1272.9 L796.5 1273.2 L797 1273.5 L797.5 1273.8 L798 1274.1 L798.5 1274.4 L799 1274.7 L799.5 1275 L800 1275.4 L800.5 1275.7 L801 1276 L801.5 1276.3 L802 1276.6 L802.5 1276.9 L803 1277.2 L803.5 1277.5 L804 1277.8 L804.5 1278.1 L805 1278.4 L805.5 1278.7 L806 1279 L806.5 1279.3 L807 1279.6 L807.5 1279.9 L808 1280.2 L808.5 1280.5 L809 1280.8 L809.5 1281.1 L810 1281.4 L810.5 1281.7 L811 1282 L811.5 1282.3 L812 1282.6 L812.5 1282.9 L813 1283.2 L813.5 1283.5 L814 1283.8 L814.5 1284.1 L815 1284.4 L815.5 1284.7 L816 1285 L816.5 1285.3 L817 1285.6 L817.5 1285.9 L818 1286.1 L818.5 1286.4 L819 1286.7 L819.5 1287 L820 1287.3 L820.5 1287.6 L821 1287.9 L821.5 1288.2 L822 1288.4 L822.5 1288.7 L823 1289 L823.5 1289.3 L824 1289.6 L824.5 1289.9 L825 1290.1 L825.5 1290.4 L826 1290.7 L826.5 1291 L827 1291.3 L827.5 1291.5 L828 1291.8 L828.5 1292.1 L829 1292.4 L829.5 1292.6 L830 1292.9 L830.5 1293.2 L831 1293.5 L831.5 1293.7 L832 1294 L832.5 1294.3 L833 1294.6 L833.5 1294.8 L834 1295.1 L834.5 1295.4 L835 1295.6 L835.5 1295.9 L836 1296.2 L836.5 1296.5 L837 1296.7 L837.5 1297 L838 1297.3 L838.5 1297.5 L839 1297.8 L839.5 1298.1 L840 1298.3 L840.5 1298.6 L841 1298.8 L841.5 1299.1 L842 1299.4 L842.5 1299.6 L843 1299.9 L843.5 1300.2 L844 1300.4 L844.5 1300.7 L845 1300.9 L845.5 1301.2 L846 1301.5 L846.5 1301.7 L847 1302 L847.5 1302.2 L848 1302.5 L848.5 1302.7 L849 1303 L849.5 1303.2 L850 1303.5 L850.5 1303.7 L851 1304 L851.5 1304.3 L852 1304.5 L852.5 1304.8 L853 1305 L853.5 1305.3 L854 1305.5 L854.5 1305.8 L855 1306 L855.5 1306.2 L856 1306.5 L856.5 1306.7 L857 1307 L857.5 1307.2 L858 1307.5 L858.5 1307.7 L859 1308 L859.5 1308.2 L860 1308.5 L860.5 1308.7 L861 1308.9 L861.5 1309.2 L862 1309.4 L862.5 1309.7 L863 1309.9 L863.5 1310.1 L864 1310.4 L864.5 1310.6 L865 1310.9 L865.5 1311.1 L866 1311.3 L866.5 1311.6 L867 1311.8 L867.5 1312 L868 1312.3 L868.5 1312.5 L869 1312.7 L869.5 1313 L870 1313.2 L870.5 1313.4 L871 1313.7 L871.5 1313.9 L872 1314.1 L872.5 1314.4 L873 1314.6 L873.5 1314.8 L874 1315 L874.5 1315.3 L875 1315.5 L875.5 1315.7 L876 1315.9 L876.5 1316.2 L877 1316.4 L877.5 1316.6 L878 1316.8 L878.5 1317.1 L879 1317.3 L879.5 1317.5 L880 1317.7 L880.5 1318 L881 1318.2 L881.5 1318.4 L882 1318.6 L882.5 1318.8 L883 1319.1 L883.5 1319.3 L884 1319.5 L884.5 1319.7 L885 1319.9 L885.5 1320.1 L886 1320.4 L886.5 1320.6 L887 1320.8 L887.5 1321 L888 1321.2 L888.5 1321.4 L889 1321.6 L889.5 1321.9 L890 1322.1 L890.5 1322.3 L891 1322.5 L891.5 1322.7 L892 1322.9 L892.5 1323.1 L893 1323.3 L893.5 1323.5 L894 1323.7 L894.5 1324 L895 1324.2 L895.5 1324.4 L896 1324.6 L896.5 1324.8 L897 1325 L897.5 1325.2 L898 1325.4 L898.5 1325.6 L899 1325.8 L899.5 1326 L900 1326.2 L900.5 1326.4 L901 1326.6 L901.5 1326.8 L902 1327 L902.5 1327.2 L903 1327.4 L903.5 1327.6 L904 1327.8 L904.5 1328 L905 1328.2 L905.5 1328.4 L906 1328.6 L906.5 1328.8 L907 1329 L907.5 1329.2 L908 1329.4 L908.5 1329.6 L909 1329.8 L909.5 1329.9 L910 1330.1 L910.5 1330.3 L911 1330.5 L911.5 1330.7 L912 1330.9 L912.5 1331.1 L913 1331.3 L913.5 1331.5 L914 1331.7 L914.5 1331.8 L915 1332 L915.5 1332.2 L916 1332.4 L916.5 1332.6 L917 1332.8 L917.5 1333 L918 1333.1 L918.5 1333.3 L919 1333.5 L919.5 1333.7 L920 1333.9 L920.5 1334.1 L921 1334.2 L921.5 1334.4 L922 1334.6 L922.5 1334.8 L923 1335 L923.5 1335.1 L924 1335.3 L924.5 1335.5 L925 1335.7 L925.5 1335.9 L926 1336 L926.5 1336.2 L927 1336.4 L927.5 1336.6 L928 1336.7 L928.5 1336.9 L929 1337.1 L929.5 1337.3 L930 1337.4 L930.5 1337.6 L931 1337.8 L931.5 1338 L932 1338.1 L932.5 1338.3 L933 1338.5 L933.5 1338.6 L934 1338.8 L934.5 1339 L935 1339.1 L935.5 1339.3 L936 1339.5 L936.5 1339.6 L937 1339.8 L937.5 1340 L938 1340.1 L938.5 1340.3 L939 1340.5 L939.5 1340.6 L940 1340.8 L940.5 1341 L941 1341.1 L941.5 1341.3 L942 1341.5 L942.5 1341.6 L943 1341.8 L943.5 1341.9 L944 1342.1 L944.5 1342.3 L945 1342.4 L945.5 1342.6 L946 1342.7 L946.5 1342.9 L947 1343.1 L947.5 1343.2 L948 1343.4 L948.5 1343.5 L949 1343.7 L949.5 1343.8 L950 1344 L950.5 1344.2 L951 1344.3 L951.5 1344.5 L952 1344.6 L952.5 1344.8 L953 1344.9 L953.5 1345.1 L954 1345.2 L954.5 1345.4 L955 1345.5 L955.5 1345.7 L956 1345.8 L956.5 1346 L957 1346.1 L957.5 1346.3 L958 1346.4 L958.5 1346.6 L959 1346.7 L959.5 1346.9 L960 1347 L960.5 1347.2 L961 1347.3 L961.5 1347.5 L962 1347.6 L962.5 1347.7 L963 1347.9 L963.5 1348 L964 1348.2 L964.5 1348.3 L965 1348.5 L965.5 1348.6 L966 1348.7 L966.5 1348.9 L967 1349 L967.5 1349.2 L968 1349.3 L968.5 1349.5 L969 1349.6 L969.5 1349.7 L970 1349.9 L970.5 1350 L971 1350.1 L971.5 1350.3 L972 1350.4 L972.5 1350.6 L973 1350.7 L973.5 1350.8 L974 1351 L974.5 1351.1 L975 1351.2 L975.5 1351.4 L976 1351.5 L976.5 1351.6 L977 1351.8 L977.5 1351.9 L978 1352 L978.5 1352.2 L979 1352.3 L979.5 1352.4 L980 1352.5 L980.5 1352.7 L981 1352.8 L981.5 1352.9 L982 1353.1 L982.5 1353.2 L983 1353.3 L983.5 1353.4 L984 1353.6 L984.5 1353.7 L985 1353.8 L985.5 1354 L986 1354.1 L986.5 1354.2 L987 1354.3 L987.5 1354.5 L988 1354.6 L988.5 1354.7 L989 1354.8 L989.5 1354.9 L990 1355.1 L990.5 1355.2 L991 1355.3 L991.5 1355.4 L992 1355.6 L992.5 1355.7 L993 1355.8 L993.5 1355.9 L994 1356 L994.5 1356.1 L995 1356.3 L995.5 1356.4 L996 1356.5 L996.5 1356.6 L997 1356.7 L997.5 1356.9 L998 1357 L998.5 1357.1 L999 1357.2 L999.5 1357.3 L1000 1357.4 L1000.5 1357.5 L1001 1357.7 L1001.5 1357.8 L1002 1357.9 L1002.5 1358 L1003 1358.1 L1003.5 1358.2 L1004 1358.3 L1004.5 1358.4 L1005 1358.5 L1005.5 1358.7 L1006 1358.8 L1006.5 1358.9 L1007 1359 L1007.5 1359.1 L1008 1359.2 L1008.5 1359.3 L1009 1359.4 L1009.5 1359.5 L1010 1359.6 L1010.5 1359.7 L1011 1359.8 L1011.5 1360 L1012 1360.1 L1012.5 1360.2 L1013 1360.3 L1013.5 1360.4 L1014 1360.5 L1014.5 1360.6 L1015 1360.7 L1015.5 1360.8 L1016 1360.9 L1016.5 1361 L1017 1361.1 L1017.5 1361.2 L1018 1361.3 L1018.5 1361.4 L1019 1361.5 L1019.5 1361.6 L1020 1361.7 L1020.5 1361.8 L1021 1361.9 L1021.5 1362 L1022 1362.1 L1022.5 1362.2 L1023 1362.3 L1023.5 1362.4 L1024 1362.5 L1024.5 1362.6 L1025 1362.7 L1025.5 1362.8 L1026 1362.9 L1026.5 1362.9 L1027 1363 L1027.5 1363.1 L1028 1363.2 L1028.5 1363.3 L1029 1363.4 L1029.5 1363.5 L1030 1363.6 L1030.5 1363.7 L1031 1363.8 L1031.5 1363.9 L1032 1364 L1032.5 1364.1 L1033 1364.1 L1033.5 1364.2 L1034 1364.3 L1034.5 1364.4 L1035 1364.5 L1035.5 1364.6 L1036 1364.7 L1036.5 1364.8 L1037 1364.9 L1037.5 1364.9 L1038 1365 L1038.5 1365.1 L1039 1365.2 L1039.5 1365.3 L1040 1365.4 L1040.5 1365.5 L1041 1365.5 L1041.5 1365.6 L1042 1365.7 L1042.5 1365.8 L1043 1365.9 L1043.5 1366 L1044 1366 L1044.5 1366.1 L1045 1366.2 L1045.5 1366.3 L1046 1366.4 L1046.5 1366.4 L1047 1366.5 L1047.5 1366.6 L1048 1366.7 L1048.5 1366.8 L1049 1366.8 L1049.5 1366.9 L1050 1367 L1050.5 1367.1 L1051 1367.2 L1051.5 1367.2 L1052 1367.3 L1052.5 1367.4 L1053 1367.5 L1053.5 1367.5 L1054 1367.6 L1054.5 1367.7 L1055 1367.8 L1055.5 1367.8 L1056 1367.9 L1056.5 1368 L1057 1368.1 L1057.5 1368.1 L1058 1368.2 L1058.5 1368.3 L1059 1368.4 L1059.5 1368.4 L1060 1368.5 L1060.5 1368.6 L1061 1368.6 L1061.5 1368.7 L1062 1368.8 L1062.5 1368.9 L1063 1368.9 L1063.5 1369 L1064 1369.1 L1064.5 1369.1 L1065 1369.2 L1065.5 1369.3 L1066 1369.3 L1066.5 1369.4 L1067 1369.5 L1067.5 1369.5 L1068 1369.6 L1068.5 1369.7 L1069 1369.7 L1069.5 1369.8 L1070 1369.9 L1070.5 1369.9 L1071 1370 L1071.5 1370.1 L1072 1370.1 L1072.5 1370.2 L1073 1370.3 L1073.5 1370.3 L1074 1370.4 L1074.5 1370.5 L1075 1370.5 L1075.5 1370.6 L1076 1370.6 L1076.5 1370.7 L1077 1370.8 L1077.5 1370.8 L1078 1370.9 L1078.5 1370.9 L1079 1371 L1079.5 1371.1 L1080 1371.1 L1080.5 1371.2 L1081 1371.2 L1081.5 1371.3 L1082 1371.4 L1082.5 1371.4 L1083 1371.5 L1083.5 1371.5 L1084 1371.6 L1084.5 1371.6 L1085 1371.7 L1085.5 1371.8 L1086 1371.8 L1086.5 1371.9 L1087 1371.9 L1087.5 1372 L1088 1372 L1088.5 1372.1 L1089 1372.1 L1089.5 1372.2 L1090 1372.2 L1090.5 1372.3 L1091 1372.4 L1091.5 1372.4 L1092 1372.5 L1092.5 1372.5 L1093 1372.6 L1093.5 1372.6 L1094 1372.7 L1094.5 1372.7 L1095 1372.8 L1095.5 1372.8 L1096 1372.9 L1096.5 1372.9 L1097 1373 L1097.5 1373 L1098 1373.1 L1098.5 1373.1 L1099 1373.2 L1099.5 1373.2 L1100 1373.3 L1100.5 1373.3 L1101 1373.4 L1101.5 1373.4 L1102 1373.4 L1102.5 1373.5 L1103 1373.5 L1103.5 1373.6 L1104 1373.6 L1104.5 1373.7 L1105 1373.7 L1105.5 1373.8 L1106 1373.8 L1106.5 1373.9 L1107 1373.9 L1107.5 1373.9 L1108 1374 L1108.5 1374 L1109 1374.1 L1109.5 1374.1 L1110 1374.2 L1110.5 1374.2 L1111 1374.2 L1111.5 1374.3 L1112 1374.3 L1112.5 1374.4 L1113 1374.4 L1113.5 1374.4 L1114 1374.5 L1114.5 1374.5 L1115 1374.6 L1115.5 1374.6 L1116 1374.6 L1116.5 1374.7 L1117 1374.7 L1117.5 1374.8 L1118 1374.8 L1118.5 1374.8 L1119 1374.9 L1119.5 1374.9 L1120 1374.9 L1120.5 1375 L1121 1375 L1121.5 1375.1 L1122 1375.1 L1122.5 1375.1 L1123 1375.2 L1123.5 1375.2 L1124 1375.2 L1124.5 1375.3 L1125 1375.3 L1125.5 1375.3 L1126 1375.4 L1126.5 1375.4 L1127 1375.4 L1127.5 1375.5 L1128 1375.5 L1128.5 1375.5 L1129 1375.6 L1129.5 1375.6 L1130 1375.6 L1130.5 1375.7 L1131 1375.7 L1131.5 1375.7 L1132 1375.8 L1132.5 1375.8 L1133 1375.8 L1133.5 1375.9 L1134 1375.9 L1134.5 1375.9 L1135 1375.9 L1135.5 1376 L1136 1376" fill="none" stroke="#008000" stroke-width="6" stroke-linejoin="round" stroke-linecap="butt"/>
<path d="M236.5 1391.8 L237 1391.5 L237.5 1391.3 L238 1391 L238.5 1390.8 L239 1390.5 L239.5 1390.2 L240 1390 L240.5 1389.7 L241 1389.4 L241.5 1389.2 L242 1388.9 L242.5 1388.6 L243 1388.3 L243.5 1388.1 L244 1387.8 L244.5 1387.5 L245 1387.2 L245.5 1386.9 L246 1386.6 L246.5 1386.3 L247 1386 L247.5 1385.7 L248 1385.4 L248.5 1385.1 L249 1384.8 L249.5 1384.5 L250 1384.1 L250.5 1383.8 L251 1383.5 L251.5 1383.2 L252 1382.8 L252.5 1382.5 L253 1382.2 L253.5 1381.8 L254 1381.5 L254.5 1381.1 L255 1380.8 L255.5 1380.4 L256 1380.1 L256.5 1379.7 L257 1379.3 L257.5 1379 L258 1378.6 L258.5 1378.2 L259 1377.8 L259.5 1377.4 L260 1377 L260.5 1376.7 L261 1376.3 L261.5 1375.9 L262 1375.4 L262.5 1375 L263 1374.6 L263.5 1374.2 L264 1373.8 L264.5 1373.4 L265 1372.9 L265.5 1372.5 L266 1372.1 L266.5 1371.6 L267 1371.2 L267.5 1370.7 L268 1370.2 L268.5 1369.8 L269 1369.3 L269.5 1368.9 L270 1368.4 L270.5 1367.9 L271 1367.4 L271.5 1366.9 L272 1366.4 L272.5 1365.9 L273 1365.4 L273.5 1364.9 L274 1364.4 L274.5 1363.9 L275 1363.3 L275.5 1362.8 L276 1362.3 L276.5 1361.7 L277 1361.2 L277.5 1360.6 L278 1360.1 L278.5 1359.5 L279 1359 L279.5 1358.4 L280 1357.8 L280.5 1357.2 L281 1356.6 L281.5 1356 L282 1355.4 L282.5 1354.8 L283 1354.2 L283.5 1353.6 L284 1353 L284.5 1352.3 L285 1351.7 L285.5 1351.1 L286 1350.4 L286.5 1349.8 L287 1349.1 L287.5 1348.4 L288 1347.8 L288.5 1347.1 L289 1346.4 L289.5 1345.7 L290 1345 L290.5 1344.3 L291 1343.6 L291.5 1342.9 L292 1342.1 L292.5 1341.4 L293 1340.7 L293.5 1339.9 L294 1339.2 L294.5 1338.4 L295 1337.7 L295.5 1336.9 L296 1336.1 L296.5 1335.3 L297 1334.5 L297.5 1333.7 L298 1332.9 L298.5 1332.1 L299 1331.3 L299.5 1330.5 L300 1329.6 L300.5 1328.8 L301 1327.9 L301.5 1327.1 L302 1326.2 L302.5 1325.4 L303 1324.5 L303.5 1323.6 L304 1322.7 L304.5 1321.8 L305 1320.9 L305.5 1320 L306 1319.1 L306.5 1318.1 L307 1317.2 L307.5 1316.2 L308 1315.3 L308.5 1314.3 L309 1313.4 L309.5 1312.4 L310 1311.4 L310.5 1310.4 L311 1309.4 L311.5 1308.4 L312 1307.4 L312.5 1306.3 L313 1305.3 L313.5 1304.3 L314 1303.2 L314.5 1302.2 L315 1301.1 L315.5 1300 L316 1298.9 L316.5 1297.8 L317 1296.7 L317.5 1295.6 L318 1294.5 L318.5 1293.4 L319 1292.2 L319.5 1291.1 L320 1289.9 L320.5 1288.8 L321 1287.6 L321.5 1286.4 L322 1285.2 L322.5 1284 L323 1282.8 L323.5 1281.6 L324 1280.4 L324.5 1279.1 L325 1277.9 L325.5 1276.6 L326 1275.4 L326.5 1274.1 L327 1272.8 L327.5 1271.5 L328 1270.2 L328.5 1268.9 L329 1267.6 L329.5 1266.3 L330 1264.9 L330.5 1263.6 L331 1262.2 L331.5 1260.9 L332 1259.5 L332.5 1258.1 L333 1256.7 L333.5 1255.3 L334 1253.9 L334.5 1252.5 L335 1251 L335.5 1249.6 L336 1248.1 L336.5 1246.6 L337 1245.2 L337.5 1243.7 L338 1242.2 L338.5 1240.7 L339 1239.2 L339.5 1237.6 L340 1236.1 L340.5 1234.5 L341 1233 L341.5 1231.4 L342 1229.8 L342.5 1228.2 L343 1226.6 L343.5 1225 L344 1223.4 L344.5 1221.8 L345 1220.2 L345.5 1218.5 L346 1216.9 L346.5 1215.2 L347 1213.6 L347.5 1211.9 L348 1210.3 L348.5 1208.6 L349 1206.9 L349.5 1205.2 L350 1203.5 L350.5 1201.8 L351 1200.1 L351.5 1198.4 L352 1196.7 L352.5 1195 L353 1193.3 L353.5 1191.5 L354 1189.8 L354.5 1188.1 L355 1186.4 L355.5 1184.6 L356 1182.9 L356.5 1181.1 L357 1179.4 L357.5 1177.7 L358 1175.9 L358.5 1174.2 L359 1172.4 L359.5 1170.7 L360 1169 L360.5 1167.2 L361 1165.5 L361.5 1163.7 L362 1162 L362.5 1160.3 L363 1158.5 L363.5 1156.8 L364 1155.1 L364.5 1153.3 L365 1151.6 L365.5 1149.9 L366 1148.2 L366.5 1146.5 L367 1144.7 L367.5 1143 L368 1141.3 L368.5 1139.6 L369 1137.9 L369.5 1136.2 L370 1134.6 L370.5 1132.9 L371 1131.2 L371.5 1129.5 L372 1127.9 L372.5 1126.2 L373 1124.6 L373.5 1122.9 L374 1121.3 L374.5 1119.7 L375 1118.1 L375.5 1116.5 L376 1114.9 L376.5 1113.3 L377 1111.7 L377.5 1110.1 L378 1108.5 L378.5 1107 L379 1105.4 L379.5 1103.9 L380 1102.4 L380.5 1100.9 L381 1099.4 L381.5 1097.9 L382 1096.4 L382.5 1094.9 L383 1093.5 L383.5 1092 L384 1090.6 L384.5 1089.2 L385 1087.8 L385.5 1086.4 L386 1085 L386.5 1083.7 L387 1082.3 L387.5 1081 L388 1079.7 L388.5 1078.4 L389 1077.1 L389.5 1075.8 L390 1074.6 L390.5 1073.3 L391 1072.1 L391.5 1070.9 L392 1069.7 L392.5 1068.5 L393 1067.4 L393.5 1066.2 L394 1065.1 L394.5 1064 L395 1062.9 L395.5 1061.8 L396 1060.8 L396.5 1059.7 L397 1058.7 L397.5 1057.7 L398 1056.7 L398.5 1055.7 L399 1054.8 L399.5 1053.8 L400 1052.9 L400.5 1052 L401 1051.1 L401.5 1050.2 L402 1049.3 L402.5 1048.4 L403 1047.6 L403.5 1046.8 L404 1046 L404.5 1045.2 L405 1044.4 L405.5 1043.6 L406 1042.9 L406.5 1042.1 L407 1041.4 L407.5 1040.7 L408 1040 L408.5 1039.3 L409 1038.6 L409.5 1038 L410 1037.4 L410.5 1036.7 L411 1036.1 L411.5 1035.5 L412 1034.9 L412.5 1034.4 L413 1033.8 L413.5 1033.3 L414 1032.7 L414.5 1032.2 L415 1031.7 L415.5 1031.2 L416 1030.8 L416.5 1030.3 L417 1029.9 L417.5 1029.4 L418 1029 L418.5 1028.6 L419 1028.2 L419.5 1027.8 L420 1027.4 L420.5 1027.1 L421 1026.7 L421.5 1026.4 L422 1026.1 L422.5 1025.7 L423 1025.4 L423.5 1025.2 L424 1024.9 L424.5 1024.6 L425 1024.4 L425.5 1024.1 L426 1023.9 L426.5 1023.7 L427 1023.5 L427.5 1023.3 L428 1023.1 L428.5 1022.9 L429 1022.8 L429.5 1022.6 L430 1022.5 L430.5 1022.4 L431 1022.2 L431.5 1022.1 L432 1022 L432.5 1022 L433 1021.9 L433.5 1021.8 L434 1021.8 L434.5 1021.7 L435 1021.7 L435.5 1021.7 L436 1021.7 L436.5 1021.7 L437 1021.7 L437.5 1021.7 L438 1021.7 L438.5 1021.8 L439 1021.8 L439.5 1021.9 L440 1022 L440.5 1022 L441 1022.1 L441.5 1022.2 L442 1022.3 L442.5 1022.4 L443 1022.6 L443.5 1022.7 L444 1022.8 L444.5 1023 L445 1023.2 L445.5 1023.3 L446 1023.5 L446.5 1023.7 L447 1023.9 L447.5 1024.1 L448 1024.3 L448.5 1024.5 L449 1024.7 L449.5 1025 L450 1025.2 L450.5 1025.5 L451 1025.7 L451.5 1026 L452 1026.3 L452.5 1026.6 L453 1026.9 L453.5 1027.2 L454 1027.5 L454.5 1027.8 L455 1028.1 L455.5 1028.4 L456 1028.8 L456.5 1029.1 L457 1029.5 L457.5 1029.8 L458 1030.2 L458.5 1030.6 L459 1030.9 L459.5 1031.3 L460 1031.7 L460.5 1032.1 L461 1032.5 L461.5 1032.9 L462 1033.4 L462.5 1033.8 L463 1034.2 L463.5 1034.6 L464 1035.1 L464.5 1035.5 L465 1036 L465.5 1036.5 L466 1036.9 L466.5 1037.4 L467 1037.9 L467.5 1038.4 L468 1038.8 L468.5 1039.3 L469 1039.8 L469.5 1040.3 L470 1040.8 L470.5 1041.4 L471 1041.9 L471.5 1042.4 L472 1042.9 L472.5 1043.5 L473 1044 L473.5 1044.5 L474 1045.1 L474.5 1045.6 L475 1046.2 L475.5 1046.8 L476 1047.3 L476.5 1047.9 L477 1048.5 L477.5 1049.1 L478 1049.6 L478.5 1050.2 L479 1050.8 L479.5 1051.4 L480 1052 L480.5 1052.6 L481 1053.2 L481.5 1053.8 L482 1054.4 L482.5 1055 L483 1055.7 L483.5 1056.3 L484 1056.9 L484.5 1057.5 L485 1058.2 L485.5 1058.8 L486 1059.4 L486.5 1060.1 L487 1060.7 L487.5 1061.4 L488 1062 L488.5 1062.6 L489 1063.3 L489.5 1063.9 L490 1064.6 L490.5 1065.3 L491 1065.9 L491.5 1066.6 L492 1067.2 L492.5 1067.9 L493 1068.6 L493.5 1069.2 L494 1069.9 L494.5 1070.6 L495 1071.3 L495.5 1071.9 L496 1072.6 L496.5 1073.3 L497 1074 L497.5 1074.6 L498 1075.3 L498.5 1076 L499 1076.7 L499.5 1077.4 L500 1078.1 L500.5 1078.7 L501 1079.4 L501.5 1080.1 L502 1080.8 L502.5 1081.5 L503 1082.2 L503.5 1082.9 L504 1083.5 L504.5 1084.2 L505 1084.9 L505.5 1085.6 L506 1086.3 L506.5 1087 L507 1087.7 L507.5 1088.4 L508 1089 L508.5 1089.7 L509 1090.4 L509.5 1091.1 L510 1091.8 L510.5 1092.5 L511 1093.1 L511.5 1093.8 L512 1094.5 L512.5 1095.2 L513 1095.9 L513.5 1096.5 L514 1097.2 L514.5 1097.9 L515 1098.5 L515.5 1099.2 L516 1099.9 L516.5 1100.6 L517 1101.2 L517.5 1101.9 L518 1102.5 L518.5 1103.2 L519 1103.9 L519.5 1104.5 L520 1105.2 L520.5 1105.8 L521 1106.5 L521.5 1107.1 L522 1107.7 L522.5 1108.4 L523 1109 L523.5 1109.7 L524 1110.3 L524.5 1110.9 L525 1111.6 L525.5 1112.2 L526 1112.8 L526.5 1113.4 L527 1114.1 L527.5 1114.7 L528 1115.3 L528.5 1115.9 L529 1116.5 L529.5 1117.1 L530 1117.7 L530.5 1118.4 L531 1119 L531.5 1119.6 L532 1120.2 L532.5 1120.8 L533 1121.4 L533.5 1122 L534 1122.5 L534.5 1123.1 L535 1123.7 L535.5 1124.3 L536 1124.9 L536.5 1125.5 L537 1126.1 L537.5 1126.6 L538 1127.2 L538.5 1127.8 L539 1128.4 L539.5 1128.9 L540 1129.5 L540.5 1130.1 L541 1130.6 L541.5 1131.2 L542 1131.8 L542.5 1132.3 L543 1132.9 L543.5 1133.4 L544 1134 L544.5 1134.5 L545 1135.1 L545.5 1135.6 L546 1136.2 L546.5 1136.7 L547 1137.3 L547.5 1137.8 L548 1138.4 L548.5 1138.9 L549 1139.4 L549.5 1140 L550 1140.5 L550.5 1141 L551 1141.6 L551.5 1142.1 L552 1142.6 L552.5 1143.1 L553 1143.6 L553.5 1144.2 L554 1144.7 L554.5 1145.2 L555 1145.7 L555.5 1146.2 L556 1146.7 L556.5 1147.3 L557 1147.8 L557.5 1148.3 L558 1148.8 L558.5 1149.3 L559 1149.8 L559.5 1150.3 L560 1150.8 L560.5 1151.3 L561 1151.8 L561.5 1152.3 L562 1152.7 L562.5 1153.2 L563 1153.7 L563.5 1154.2 L564 1154.7 L564.5 1155.2 L565 1155.7 L565.5 1156.1 L566 1156.6 L566.5 1157.1 L567 1157.6 L567.5 1158.1 L568 1158.5 L568.5 1159 L569 1159.5 L569.5 1159.9 L570 1160.4 L570.5 1160.9 L571 1161.3 L571.5 1161.8 L572 1162.3 L572.5 1162.7 L573 1163.2 L573.5 1163.6 L574 1164.1 L574.5 1164.6 L575 1165 L575.5 1165.5 L576 1165.9 L576.5 1166.4 L577 1166.8 L577.5 1167.3 L578 1167.7 L578.5 1168.1 L579 1168.6 L579.5 1169 L580 1169.5 L580.5 1169.9 L581 1170.3 L581.5 1170.8 L582 1171.2 L582.5 1171.6 L583 1172.1 L583.5 1172.5 L584 1172.9 L584.5 1173.4 L585 1173.8 L585.5 1174.2 L586 1174.6 L586.5 1175.1 L587 1175.5 L587.5 1175.9 L588 1176.3 L588.5 1176.7 L589 1177.2 L589.5 1177.6 L590 1178 L590.5 1178.4 L591 1178.8 L591.5 1179.2 L592 1179.7 L592.5 1180.1 L593 1180.5 L593.5 1180.9 L594 1181.3 L594.5 1181.7 L595 1182.1 L595.5 1182.5 L596 1182.9 L596.5 1183.3 L597 1183.7 L597.5 1184.1 L598 1184.5 L598.5 1184.9 L599 1185.3 L599.5 1185.7 L600 1186.1 L600.5 1186.5 L601 1186.9 L601.5 1187.3 L602 1187.6 L602.5 1188 L603 1188.4 L603.5 1188.8 L604 1189.2 L604.5 1189.6 L605 1190 L605.5 1190.4 L606 1190.7 L606.5 1191.1 L607 1191.5 L607.5 1191.9 L608 1192.3 L608.5 1192.6 L609 1193 L609.5 1193.4 L610 1193.8 L610.5 1194.1 L611 1194.5 L611.5 1194.9 L612 1195.3 L612.5 1195.6 L613 1196 L613.5 1196.4 L614 1196.7 L614.5 1197.1 L615 1197.5 L615.5 1197.9 L616 1198.2 L616.5 1198.6 L617 1199 L617.5 1199.3 L618 1199.7 L618.5 1200 L619 1200.4 L619.5 1200.8 L620 1201.1 L620.5 1201.5 L621 1201.8 L621.5 1202.2 L622 1202.6 L622.5 1202.9 L623 1203.3 L623.5 1203.6 L624 1204 L624.5 1204.3 L625 1204.7 L625.5 1205.1 L626 1205.4 L626.5 1205.8 L627 1206.1 L627.5 1206.5 L628 1206.8 L628.5 1207.2 L629 1207.5 L629.5 1207.9 L630 1208.2 L630.5 1208.6 L631 1208.9 L631.5 1209.3 L632 1209.6 L632.5 1210 L633 1210.3 L633.5 1210.7 L634 1211 L634.5 1211.3 L635 1211.7 L635.5 1212 L636 1212.4 L636.5 1212.7 L637 1213.1 L637.5 1213.4 L638 1213.7 L638.5 1214.1 L639 1214.4 L639.5 1214.8 L640 1215.1 L640.5 1215.4 L641 1215.8 L641.5 1216.1 L642 1216.5 L642.5 1216.8 L643 1217.1 L643.5 1217.5 L644 1217.8 L644.5 1218.2 L645 1218.5 L645.5 1218.8 L646 1219.2 L646.5 1219.5 L647 1219.8 L647.5 1220.2 L648 1220.5 L648.5 1220.9 L649 1221.2 L649.5 1221.5 L650 1221.9 L650.5 1222.2 L651 1222.5 L651.5 1222.9 L652 1223.2 L652.5 1223.5 L653 1223.9 L653.5 1224.2 L654 1224.5 L654.5 1224.9 L655 1225.2 L655.5 1225.5 L656 1225.9 L656.5 1226.2 L657 1226.5 L657.5 1226.8 L658 1227.2 L658.5 1227.5 L659 1227.8 L659.5 1228.2 L660 1228.5 L660.5 1228.8 L661 1229.2 L661.5 1229.5 L662 1229.8 L662.5 1230.1 L663 1230.5 L663.5 1230.8 L664 1231.1 L664.5 1231.4 L665 1231.8 L665.5 1232.1 L666 1232.4 L666.5 1232.7 L667 1233.1 L667.5 1233.4 L668 1233.7 L668.5 1234 L669 1234.4 L669.5 1234.7 L670 1235 L670.5 1235.3 L671 1235.7 L671.5 1236 L672 1236.3 L672.5 1236.6 L673 1237 L673.5 1237.3 L674 1237.6 L674.5 1237.9 L675 1238.2 L675.5 1238.6 L676 1238.9 L676.5 1239.2 L677 1239.5 L677.5 1239.8 L678 1240.2 L678.5 1240.5 L679 1240.8 L679.5 1241.1 L680 1241.4 L680.5 1241.7 L681 1242.1 L681.5 1242.4 L682 1242.7 L682.5 1243 L683 1243.3 L683.5 1243.6 L684 1244 L684.5 1244.3 L685 1244.6 L685.5 1244.9 L686 1245.2 L686.5 1245.5 L687 1245.8 L687.5 1246.2 L688 1246.5 L688.5 1246.8 L689 1247.1 L689.5 1247.4 L690 1247.7 L690.5 1248 L691 1248.3 L691.5 1248.7 L692 1249 L692.5 1249.3 L693 1249.6 L693.5 1249.9 L694 1250.2 L694.5 1250.5 L695 1250.8 L695.5 1251.1 L696 1251.4 L696.5 1251.7 L697 1252 L697.5 1252.4 L698 1252.7 L698.5 1253 L699 1253.3 L699.5 1253.6 L700 1253.9 L700.5 1254.2 L701 1254.5 L701.5 1254.8 L702 1255.1 L702.5 1255.4 L703 1255.7 L703.5 1256 L704 1256.3 L704.5 1256.6 L705 1256.9 L705.5 1257.2 L706 1257.5 L706.5 1257.8 L707 1258.1 L707.5 1258.4 L708 1258.7 L708.5 1259 L709 1259.3 L709.5 1259.6 L710 1259.9 L710.5 1260.2 L711 1260.5 L711.5 1260.8 L712 1261.1 L712.5 1261.4 L713 1261.7 L713.5 1262 L714 1262.3 L714.5 1262.6 L715 1262.9 L715.5 1263.2 L716 1263.5 L716.5 1263.8 L717 1264.1 L717.5 1264.4 L718 1264.7 L718.5 1265 L719 1265.2 L719.5 1265.5 L720 1265.8 L720.5 1266.1 L721 1266.4 L721.5 1266.7 L722 1267 L722.5 1267.3 L723 1267.6 L723.5 1267.9 L724 1268.2 L724.5 1268.4 L725 1268.7 L725.5 1269 L726 1269.3 L726.5 1269.6 L727 1269.9 L727.5 1270.2 L728 1270.5 L728.5 1270.7 L729 1271 L729.5 1271.3 L730 1271.6 L730.5 1271.9 L731 1272.2 L731.5 1272.5 L732 1272.7 L732.5 1273 L733 1273.3 L733.5 1273.6 L734 1273.9 L734.5 1274.1 L735 1274.4 L735.5 1274.7 L736 1275 L736.5 1275.3 L737 1275.6 L737.5 1275.8 L738 1276.1 L738.5 1276.4 L739 1276.7 L739.5 1276.9 L740 1277.2 L740.5 1277.5 L741 1277.8 L741.5 1278.1 L742 1278.3 L742.5 1278.6 L743 1278.9 L743.5 1279.2 L744 1279.4 L744.5 1279.7 L745 1280 L745.5 1280.3 L746 1280.5 L746.5 1280.8 L747 1281.1 L747.5 1281.4 L748 1281.6 L748.5 1281.9 L749 1282.2 L749.5 1282.4 L750 1282.7 L750.5 1283 L751 1283.2 L751.5 1283.5 L752 1283.8 L752.5 1284.1 L753 1284.3 L753.5 1284.6 L754 1284.9 L754.5 1285.1 L755 1285.4 L755.5 1285.7 L756 1285.9 L756.5 1286.2 L757 1286.5 L757.5 1286.7 L758 1287 L758.5 1287.2 L759 1287.5 L759.5 1287.8 L760 1288 L760.5 1288.3 L761 1288.6 L761.5 1288.8 L762 1289.1 L762.5 1289.3 L763 1289.6 L763.5 1289.9 L764 1290.1 L764.5 1290.4 L765 1290.6 L765.5 1290.9 L766 1291.2 L766.5 1291.4 L767 1291.7 L767.5 1291.9 L768 1292.2 L768.5 1292.4 L769 1292.7 L769.5 1293 L770 1293.2 L770.5 1293.5 L771 1293.7 L771.5 1294 L772 1294.2 L772.5 1294.5 L773 1294.7 L773.5 1295 L774 1295.2 L774.5 1295.5 L775 1295.7 L775.5 1296 L776 1296.2 L776.5 1296.5 L777 1296.7 L777.5 1297 L778 1297.2 L778.5 1297.5 L779 1297.7 L779.5 1298 L780 1298.2 L780.5 1298.5 L781 1298.7 L781.5 1299 L782 1299.2 L782.5 1299.5 L783 1299.7 L783.5 1300 L784 1300.2 L784.5 1300.4 L785 1300.7 L785.5 1300.9 L786 1301.2 L786.5 1301.4 L787 1301.6 L787.5 1301.9 L788 1302.1 L788.5 1302.4 L789 1302.6 L789.5 1302.8 L790 1303.1 L790.5 1303.3 L791 1303.6 L791.5 1303.8 L792 1304 L792.5 1304.3 L793 1304.5 L793.5 1304.7 L794 1305 L794.5 1305.2 L795 1305.5 L795.5 1305.7 L796 1305.9 L796.5 1306.2 L797 1306.4 L797.5 1306.6 L798 1306.9 L798.5 1307.1 L799 1307.3 L799.5 1307.5 L800 1307.8 L800.5 1308 L801 1308.2 L801.5 1308.5 L802 1308.7 L802.5 1308.9 L803 1309.1 L803.5 1309.4 L804 1309.6 L804.5 1309.8 L805 1310.1 L805.5 1310.3 L806 1310.5 L806.5 1310.7 L807 1311 L807.5 1311.2 L808 1311.4 L808.5 1311.6 L809 1311.8 L809.5 1312.1 L810 1312.3 L810.5 1312.5 L811 1312.7 L811.5 1313 L812 1313.2 L812.5 1313.4 L813 1313.6 L813.5 1313.8 L814 1314 L814.5 1314.3 L815 1314.5 L815.5 1314.7 L816 1314.9 L816.5 1315.1 L817 1315.3 L817.5 1315.6 L818 1315.8 L818.5 1316 L819 1316.2 L819.5 1316.4 L820 1316.6 L820.5 1316.8 L821 1317.1 L821.5 1317.3 L822 1317.5 L822.5 1317.7 L823 1317.9 L823.5 1318.1 L824 1318.3 L824.5 1318.5 L825 1318.7 L825.5 1318.9 L826 1319.2 L826.5 1319.4 L827 1319.6 L827.5 1319.8 L828 1320 L828.5 1320.2 L829 1320.4 L829.5 1320.6 L830 1320.8 L830.5 1321 L831 1321.2 L831.5 1321.4 L832 1321.6 L832.5 1321.8 L833 1322 L833.5 1322.2 L834 1322.4 L834.5 1322.6 L835 1322.8 L835.5 1323 L836 1323.2 L836.5 1323.4 L837 1323.6 L837.5 1323.8 L838 1324 L838.5 1324.2 L839 1324.4 L839.5 1324.6 L840 1324.8 L840.5 1325 L841 1325.2 L841.5 1325.4 L842 1325.6 L842.5 1325.8 L843 1326 L843.5 1326.2 L844 1326.4 L844.5 1326.6 L845 1326.8 L845.5 1326.9 L846 1327.1 L846.5 1327.3 L847 1327.5 L847.5 1327.7 L848 1327.9 L848.5 1328.1 L849 1328.3 L849.5 1328.5 L850 1328.7 L850.5 1328.8 L851 1329 L851.5 1329.2 L852 1329.4 L852.5 1329.6 L853 1329.8 L853.5 1330 L854 1330.1 L854.5 1330.3 L855 1330.5 L855.5 1330.7 L856 1330.9 L856.5 1331.1 L857 1331.2 L857.5 1331.4 L858 1331.6 L858.5 1331.8 L859 1332 L859.5 1332.2 L860 1332.3 L860.5 1332.5 L861 1332.7 L861.5 1332.9 L862 1333 L862.5 1333.2 L863 1333.4 L863.5 1333.6 L864 1333.8 L864.5 1333.9 L865 1334.1 L865.5 1334.3 L866 1334.5 L866.5 1334.6 L867 1334.8 L867.5 1335 L868 1335.2 L868.5 1335.3 L869 1335.5 L869.5 1335.7 L870 1335.9 L870.5 1336 L871 1336.2 L871.5 1336.4 L872 1336.5 L872.5 1336.7 L873 1336.9 L873.5 1337 L874 1337.2 L874.5 1337.4 L875 1337.6 L875.5 1337.7 L876 1337.9 L876.5 1338.1 L877 1338.2 L877.5 1338.4 L878 1338.6 L878.5 1338.7 L879 1338.9 L879.5 1339.1 L880 1339.2 L880.5 1339.4 L881 1339.5 L881.5 1339.7 L882 1339.9 L882.5 1340 L883 1340.2 L883.5 1340.4 L884 1340.5 L884.5 1340.7 L885 1340.8 L885.5 1341 L886 1341.2 L886.5 1341.3 L887 1341.5 L887.5 1341.6 L888 1341.8 L888.5 1342 L889 1342.1 L889.5 1342.3 L890 1342.4 L890.5 1342.6 L891 1342.7 L891.5 1342.9 L892 1343.1 L892.5 1343.2 L893 1343.4 L893.5 1343.5 L894 1343.7 L894.5 1343.8 L895 1344 L895.5 1344.1 L896 1344.3 L896.5 1344.4 L897 1344.6 L897.5 1344.7 L898 1344.9 L898.5 1345 L899 1345.2 L899.5 1345.3 L900 1345.5 L900.5 1345.6 L901 1345.8 L901.5 1345.9 L902 1346.1 L902.5 1346.2 L903 1346.4 L903.5 1346.5 L904 1346.7 L904.5 1346.8 L905 1347 L905.5 1347.1 L906 1347.3 L906.5 1347.4 L907 1347.6 L907.5 1347.7 L908 1347.8 L908.5 1348 L909 1348.1 L909.5 1348.3 L910 1348.4 L910.5 1348.6 L911 1348.7 L911.5 1348.8 L912 1349 L912.5 1349.1 L913 1349.3 L913.5 1349.4 L914 1349.5 L914.5 1349.7 L915 1349.8 L915.5 1350 L916 1350.1 L916.5 1350.2 L917 1350.4 L917.5 1350.5 L918 1350.6 L918.5 1350.8 L919 1350.9 L919.5 1351.1 L920 1351.2 L920.5 1351.3 L921 1351.5 L921.5 1351.6 L922 1351.7 L922.5 1351.9 L923 1352 L923.5 1352.1 L924 1352.3 L924.5 1352.4 L925 1352.5 L925.5 1352.7 L926 1352.8 L926.5 1352.9 L927 1353 L927.5 1353.2 L928 1353.3 L928.5 1353.4 L929 1353.6 L929.5 1353.7 L930 1353.8 L930.5 1354 L931 1354.1 L931.5 1354.2 L932 1354.3 L932.5 1354.5 L933 1354.6 L933.5 1354.7 L934 1354.8 L934.5 1355 L935 1355.1 L935.5 1355.2 L936 1355.3 L936.5 1355.5 L937 1355.6 L937.5 1355.7 L938 1355.8 L938.5 1356 L939 1356.1 L939.5 1356.2 L940 1356.3 L940.5 1356.4 L941 1356.6 L941.5 1356.7 L942 1356.8 L942.5 1356.9 L943 1357 L943.5 1357.2 L944 1357.3 L944.5 1357.4 L945 1357.5 L945.5 1357.6 L946 1357.8 L946.5 1357.9 L947 1358 L947.5 1358.1 L948 1358.2 L948.5 1358.3 L949 1358.4 L949.5 1358.6 L950 1358.7 L950.5 1358.8 L951 1358.9 L951.5 1359 L952 1359.1 L952.5 1359.2 L953 1359.4 L953.5 1359.5 L954 1359.6 L954.5 1359.7 L955 1359.8 L955.5 1359.9 L956 1360 L956.5 1360.1 L957 1360.3 L957.5 1360.4 L958 1360.5 L958.5 1360.6 L959 1360.7 L959.5 1360.8 L960 1360.9 L960.5 1361 L961 1361.1 L961.5 1361.2 L962 1361.3 L962.5 1361.4 L963 1361.6 L963.5 1361.7 L964 1361.8 L964.5 1361.9 L965 1362 L965.5 1362.1 L966 1362.2 L966.5 1362.3 L967 1362.4 L967.5 1362.5 L968 1362.6 L968.5 1362.7 L969 1362.8 L969.5 1362.9 L970 1363 L970.5 1363.1 L971 1363.2 L971.5 1363.3 L972 1363.4 L972.5 1363.5 L973 1363.6 L973.5 1363.7 L974 1363.8 L974.5 1363.9 L975 1364 L975.5 1364.1 L976 1364.2 L976.5 1364.3 L977 1364.4 L977.5 1364.5 L978 1364.6 L978.5 1364.7 L979 1364.8 L979.5 1364.9 L980 1365 L980.5 1365.1 L981 1365.2 L981.5 1365.3 L982 1365.4 L982.5 1365.5 L983 1365.6 L983.5 1365.6 L984 1365.7 L984.5 1365.8 L985 1365.9 L985.5 1366 L986 1366.1 L986.5 1366.2 L987 1366.3 L987.5 1366.4 L988 1366.5 L988.5 1366.6 L989 1366.7 L989.5 1366.7 L990 1366.8 L990.5 1366.9 L991 1367 L991.5 1367.1 L992 1367.2 L992.5 1367.3 L993 1367.4 L993.5 1367.5 L994 1367.5 L994.5 1367.6 L995 1367.7 L995.5 1367.8 L996 1367.9 L996.5 1368 L997 1368.1 L997.5 1368.1 L998 1368.2 L998.5 1368.3 L999 1368.4 L999.5 1368.5 L1000 1368.6 L1000.5 1368.6 L1001 1368.7 L1001.5 1368.8 L1002 1368.9 L1002.5 1369 L1003 1369.1 L1003.5 1369.1 L1004 1369.2 L1004.5 1369.3 L1005 1369.4 L1005.5 1369.5 L1006 1369.5 L1006.5 1369.6 L1007 1369.7 L1007.5 1369.8 L1008 1369.9 L1008.5 1369.9 L1009 1370 L1009.5 1370.1 L1010 1370.2 L1010.5 1370.3 L1011 1370.3 L1011.5 1370.4 L1012 1370.5 L1012.5 1370.6 L1013 1370.6 L1013.5 1370.7 L1014 1370.8 L1014.5 1370.9 L1015 1370.9 L1015.5 1371 L1016 1371.1 L1016.5 1371.2 L1017 1371.2 L1017.5 1371.3 L1018 1371.4 L1018.5 1371.5 L1019 1371.5 L1019.5 1371.6 L1020 1371.7 L1020.5 1371.8 L1021 1371.8 L1021.5 1371.9 L1022 1372 L1022.5 1372 L1023 1372.1 L1023.5 1372.2 L1024 1372.3 L1024.5 1372.3 L1025 1372.4 L1025.5 1372.5 L1026 1372.5 L1026.5 1372.6 L1027 1372.7 L1027.5 1372.7 L1028 1372.8 L1028.5 1372.9 L1029 1372.9 L1029.5 1373 L1030 1373.1 L1030.5 1373.1 L1031 1373.2 L1031.5 1373.3 L1032 1373.3 L1032.5 1373.4 L1033 1373.5 L1033.5 1373.5 L1034 1373.6 L1034.5 1373.7 L1035 1373.7 L1035.5 1373.8 L1036 1373.9 L1036.5 1373.9 L1037 1374 L1037.5 1374 L1038 1374.1 L1038.5 1374.2 L1039 1374.2 L1039.5 1374.3 L1040 1374.4 L1040.5 1374.4 L1041 1374.5 L1041.5 1374.5 L1042 1374.6 L1042.5 1374.7 L1043 1374.7 L1043.5 1374.8 L1044 1374.8 L1044.5 1374.9 L1045 1375 L1045.5 1375 L1046 1375.1 L1046.5 1375.1 L1047 1375.2 L1047.5 1375.2 L1048 1375.3 L1048.5 1375.4 L1049 1375.4 L1049.5 1375.5 L1050 1375.5 L1050.5 1375.6 L1051 1375.6 L1051.5 1375.7 L1052 1375.8 L1052.5 1375.8 L1053 1375.9 L1053.5 1375.9 L1054 1376 L1054.5 1376 L1055 1376.1 L1055.5 1376.1 L1056 1376.2 L1056.5 1376.2 L1057 1376.3 L1057.5 1376.3 L1058 1376.4 L1058.5 1376.4 L1059 1376.5 L1059.5 1376.6 L1060 1376.6 L1060.5 1376.7 L1061 1376.7 L1061.5 1376.8 L1062 1376.8 L1062.5 1376.9 L1063 1376.9 L1063.5 1377 L1064 1377 L1064.5 1377.1 L1065 1377.1 L1065.5 1377.2 L1066 1377.2 L1066.5 1377.2 L1067 1377.3 L1067.5 1377.3 L1068 1377.4 L1068.5 1377.4 L1069 1377.5 L1069.5 1377.5 L1070 1377.6 L1070.5 1377.6 L1071 1377.7 L1071.5 1377.7 L1072 1377.8 L1072.5 1377.8 L1073 1377.8 L1073.5 1377.9 L1074 1377.9 L1074.5 1378 L1075 1378 L1075.5 1378.1 L1076 1378.1 L1076.5 1378.2 L1077 1378.2 L1077.5 1378.2 L1078 1378.3 L1078.5 1378.3 L1079 1378.4 L1079.5 1378.4 L1080 1378.5 L1080.5 1378.5 L1081 1378.5 L1081.5 1378.6 L1082 1378.6 L1082.5 1378.7 L1083 1378.7 L1083.5 1378.7 L1084 1378.8 L1084.5 1378.8 L1085 1378.9 L1085.5 1378.9 L1086 1378.9 L1086.5 1379 L1087 1379 L1087.5 1379.1 L1088 1379.1 L1088.5 1379.1 L1089 1379.2 L1089.5 1379.2 L1090 1379.2 L1090.5 1379.3 L1091 1379.3 L1091.5 1379.3 L1092 1379.4 L1092.5 1379.4 L1093 1379.5 L1093.5 1379.5 L1094 1379.5 L1094.5 1379.6 L1095 1379.6 L1095.5 1379.6 L1096 1379.7 L1096.5 1379.7 L1097 1379.7 L1097.5 1379.8 L1098 1379.8 L1098.5 1379.8 L1099 1379.9 L1099.5 1379.9 L1100 1379.9 L1100.5 1380 L1101 1380 L1101.5 1380 L1102 1380.1 L1102.5 1380.1 L1103 1380.1 L1103.5 1380.2 L1104 1380.2 L1104.5 1380.2 L1105 1380.2 L1105.5 1380.3 L1106 1380.3 L1106.5 1380.3 L1107 1380.4 L1107.5 1380.4 L1108 1380.4 L1108.5 1380.5 L1109 1380.5 L1109.5 1380.5 L1110 1380.5 L1110.5 1380.6 L1111 1380.6 L1111.5 1380.6 L1112 1380.7 L1112.5 1380.7 L1113 1380.7 L1113.5 1380.7 L1114 1380.8 L1114.5 1380.8 L1115 1380.8 L1115.5 1380.8 L1116 1380.9 L1116.5 1380.9 L1117 1380.9 L1117.5 1380.9 L1118 1381 L1118.5 1381 L1119 1381 L1119.5 1381 L1120 1381.1 L1120.5 1381.1 L1121 1381.1 L1121.5 1381.1 L1122 1381.2 L1122.5 1381.2 L1123 1381.2 L1123.5 1381.2 L1124 1381.2 L1124.5 1381.3 L1125 1381.3 L1125.5 1381.3 L1126 1381.3 L1126.5 1381.4 L1127 1381.4 L1127.5 1381.4 L1128 1381.4 L1128.5 1381.4 L1129 1381.5 L1129.5 1381.5 L1130 1381.5 L1130.5 1381.5 L1131 1381.5 L1131.5 1381.6 L1132 1381.6 L1132.5 1381.6 L1133 1381.6 L1133.5 1381.6 L1134 1381.7 L1134.5 1381.7 L1135 1381.7 L1135.5 1381.7 L1136 1381.7" fill="none" stroke="#9000ff" stroke-width="6" stroke-linejoin="round" stroke-linecap="butt"/>
<path d="M236.5 1396.3 L237 1396.4 L237.5 1396.4 L238 1396.5 L238.5 1396.5 L239 1396.5 L239.5 1396.6 L240 1396.6 L240.5 1396.6 L241 1396.6 L241.5 1396.6 L242 1396.6 L242.5 1396.6 L243 1396.5 L243.5 1396.5 L244 1396.5 L244.5 1396.4 L245 1396.3 L245.5 1396.3 L246 1396.2 L246.5 1396.1 L247 1396 L247.5 1395.9 L248 1395.8 L248.5 1395.7 L249 1395.6 L249.5 1395.4 L250 1395.3 L250.5 1395.2 L251 1395 L251.5 1394.8 L252 1394.7 L252.5 1394.5 L253 1394.3 L253.5 1394.1 L254 1393.9 L254.5 1393.7 L255 1393.5 L255.5 1393.3 L256 1393 L256.5 1392.8 L257 1392.5 L257.5 1392.3 L258 1392 L258.5 1391.8 L259 1391.5 L259.5 1391.2 L260 1390.9 L260.5 1390.6 L261 1390.3 L261.5 1390 L262 1389.7 L262.5 1389.3 L263 1389 L263.5 1388.6 L264 1388.3 L264.5 1387.9 L265 1387.6 L265.5 1387.2 L266 1386.8 L266.5 1386.4 L267 1386 L267.5 1385.6 L268 1385.2 L268.5 1384.8 L269 1384.4 L269.5 1383.9 L270 1383.5 L270.5 1383 L271 1382.6 L271.5 1382.1 L272 1381.6 L272.5 1381.2 L273 1380.7 L273.5 1380.2 L274 1379.7 L274.5 1379.2 L275 1378.7 L275.5 1378.1 L276 1377.6 L276.5 1377.1 L277 1376.5 L277.5 1376 L278 1375.4 L278.5 1374.8 L279 1374.3 L279.5 1373.7 L280 1373.1 L280.5 1372.5 L281 1371.9 L281.5 1371.3 L282 1370.7 L282.5 1370.1 L283 1369.4 L283.5 1368.8 L284 1368.1 L284.5 1367.5 L285 1366.8 L285.5 1366.2 L286 1365.5 L286.5 1364.8 L287 1364.1 L287.5 1363.4 L288 1362.7 L288.5 1362 L289 1361.3 L289.5 1360.6 L290 1359.9 L290.5 1359.1 L291 1358.4 L291.5 1357.6 L292 1356.9 L292.5 1356.1 L293 1355.4 L293.5 1354.6 L294 1353.8 L294.5 1353 L295 1352.2 L295.5 1351.4 L296 1350.6 L296.5 1349.8 L297 1348.9 L297.5 1348.1 L298 1347.3 L298.5 1346.4 L299 1345.6 L299.5 1344.7 L300 1343.8 L300.5 1343 L301 1342.1 L301.5 1341.2 L302 1340.3 L302.5 1339.4 L303 1338.5 L303.5 1337.6 L304 1336.7 L304.5 1335.8 L305 1334.8 L305.5 1333.9 L306 1332.9 L306.5 1332 L307 1331 L307.5 1330.1 L308 1329.1 L308.5 1328.1 L309 1327.1 L309.5 1326.1 L310 1325.1 L310.5 1324.1 L311 1323.1 L311.5 1322.1 L312 1321.1 L312.5 1320 L313 1319 L313.5 1318 L314 1316.9 L314.5 1315.9 L315 1314.8 L315.5 1313.7 L316 1312.6 L316.5 1311.6 L317 1310.5 L317.5 1309.4 L318 1308.3 L318.5 1307.2 L319 1306.1 L319.5 1304.9 L320 1303.8 L320.5 1302.7 L321 1301.5 L321.5 1300.4 L322 1299.2 L322.5 1298.1 L323 1296.9 L323.5 1295.7 L324 1294.6 L324.5 1293.4 L325 1292.2 L325.5 1291 L326 1289.8 L326.5 1288.6 L327 1287.4 L327.5 1286.1 L328 1284.9 L328.5 1283.7 L329 1282.4 L329.5 1281.2 L330 1280 L330.5 1278.7 L331 1277.4 L331.5 1276.2 L332 1274.9 L332.5 1273.6 L333 1272.3 L333.5 1271 L334 1269.7 L334.5 1268.4 L335 1267.1 L335.5 1265.8 L336 1264.5 L336.5 1263.1 L337 1261.8 L337.5 1260.4 L338 1259.1 L338.5 1257.7 L339 1256.4 L339.5 1255 L340 1253.7 L340.5 1252.3 L341 1250.9 L341.5 1249.5 L342 1248.1 L342.5 1246.7 L343 1245.3 L343.5 1243.9 L344 1242.5 L344.5 1241.1 L345 1239.7 L345.5 1238.3 L346 1236.9 L346.5 1235.4 L347 1234 L347.5 1232.6 L348 1231.2 L348.5 1229.7 L349 1228.3 L349.5 1226.9 L350 1225.4 L350.5 1224 L351 1222.5 L351.5 1221.1 L352 1219.7 L352.5 1218.2 L353 1216.8 L353.5 1215.3 L354 1213.9 L354.5 1212.4 L355 1211 L355.5 1209.5 L356 1208.1 L356.5 1206.7 L357 1205.2 L357.5 1203.8 L358 1202.3 L358.5 1200.9 L359 1199.5 L359.5 1198 L360 1196.6 L360.5 1195.1 L361 1193.7 L361.5 1192.3 L362 1190.9 L362.5 1189.4 L363 1188 L363.5 1186.6 L364 1185.2 L364.5 1183.8 L365 1182.4 L365.5 1180.9 L366 1179.5 L366.5 1178.2 L367 1176.8 L367.5 1175.4 L368 1174 L368.5 1172.6 L369 1171.2 L369.5 1169.9 L370 1168.5 L370.5 1167.1 L371 1165.8 L371.5 1164.4 L372 1163.1 L372.5 1161.8 L373 1160.4 L373.5 1159.1 L374 1157.8 L374.5 1156.5 L375 1155.2 L375.5 1153.9 L376 1152.6 L376.5 1151.3 L377 1150 L377.5 1148.8 L378 1147.5 L378.5 1146.3 L379 1145 L379.5 1143.8 L380 1142.6 L380.5 1141.3 L381 1140.1 L381.5 1138.9 L382 1137.8 L382.5 1136.6 L383 1135.4 L383.5 1134.3 L384 1133.1 L384.5 1132 L385 1130.8 L385.5 1129.7 L386 1128.6 L386.5 1127.5 L387 1126.4 L387.5 1125.4 L388 1124.3 L388.5 1123.3 L389 1122.2 L389.5 1121.2 L390 1120.2 L390.5 1119.2 L391 1118.2 L391.5 1117.2 L392 1116.2 L392.5 1115.3 L393 1114.3 L393.5 1113.4 L394 1112.5 L394.5 1111.6 L395 1110.7 L395.5 1109.8 L396 1108.9 L396.5 1108.1 L397 1107.2 L397.5 1106.4 L398 1105.6 L398.5 1104.8 L399 1104 L399.5 1103.2 L400 1102.4 L400.5 1101.6 L401 1100.9 L401.5 1100.1 L402 1099.4 L402.5 1098.7 L403 1098 L403.5 1097.3 L404 1096.6 L404.5 1095.9 L405 1095.2 L405.5 1094.6 L406 1093.9 L406.5 1093.3 L407 1092.7 L407.5 1092.1 L408 1091.5 L408.5 1090.9 L409 1090.3 L409.5 1089.7 L410 1089.2 L410.5 1088.6 L411 1088.1 L411.5 1087.6 L412 1087.1 L412.5 1086.6 L413 1086.1 L413.5 1085.6 L414 1085.1 L414.5 1084.7 L415 1084.2 L415.5 1083.8 L416 1083.4 L416.5 1083 L417 1082.5 L417.5 1082.2 L418 1081.8 L418.5 1081.4 L419 1081 L419.5 1080.7 L420 1080.3 L420.5 1080 L421 1079.7 L421.5 1079.4 L422 1079.1 L422.5 1078.8 L423 1078.5 L423.5 1078.2 L424 1078 L424.5 1077.7 L425 1077.5 L425.5 1077.3 L426 1077 L426.5 1076.8 L427 1076.6 L427.5 1076.4 L428 1076.3 L428.5 1076.1 L429 1075.9 L429.5 1075.8 L430 1075.6 L430.5 1075.5 L431 1075.4 L431.5 1075.3 L432 1075.2 L432.5 1075.1 L433 1075 L433.5 1074.9 L434 1074.9 L434.5 1074.8 L435 1074.8 L435.5 1074.7 L436 1074.7 L436.5 1074.7 L437 1074.7 L437.5 1074.7 L438 1074.7 L438.5 1074.7 L439 1074.7 L439.5 1074.8 L440 1074.8 L440.5 1074.9 L441 1075 L441.5 1075 L442 1075.1 L442.5 1075.2 L443 1075.3 L443.5 1075.4 L444 1075.6 L444.5 1075.7 L445 1075.8 L445.5 1076 L446 1076.1 L446.5 1076.3 L447 1076.5 L447.5 1076.7 L448 1076.9 L448.5 1077.1 L449 1077.3 L449.5 1077.5 L450 1077.7 L450.5 1078 L451 1078.2 L451.5 1078.5 L452 1078.7 L452.5 1079 L453 1079.3 L453.5 1079.6 L454 1079.9 L454.5 1080.2 L455 1080.5 L455.5 1080.8 L456 1081.1 L456.5 1081.5 L457 1081.8 L457.5 1082.2 L458 1082.5 L458.5 1082.9 L459 1083.3 L459.5 1083.7 L460 1084.1 L460.5 1084.5 L461 1084.9 L461.5 1085.3 L462 1085.7 L462.5 1086.2 L463 1086.6 L463.5 1087.1 L464 1087.5 L464.5 1088 L465 1088.5 L465.5 1088.9 L466 1089.4 L466.5 1089.9 L467 1090.4 L467.5 1090.9 L468 1091.5 L468.5 1092 L469 1092.5 L469.5 1093.1 L470 1093.6 L470.5 1094.2 L471 1094.7 L471.5 1095.3 L472 1095.9 L472.5 1096.5 L473 1097.1 L473.5 1097.7 L474 1098.3 L474.5 1098.9 L475 1099.5 L475.5 1100.1 L476 1100.7 L476.5 1101.4 L477 1102 L477.5 1102.6 L478 1103.3 L478.5 1103.9 L479 1104.6 L479.5 1105.2 L480 1105.9 L480.5 1106.6 L481 1107.2 L481.5 1107.9 L482 1108.6 L482.5 1109.3 L483 1109.9 L483.5 1110.6 L484 1111.3 L484.5 1112 L485 1112.7 L485.5 1113.4 L486 1114.1 L486.5 1114.8 L487 1115.5 L487.5 1116.2 L488 1116.9 L488.5 1117.6 L489 1118.3 L489.5 1119 L490 1119.7 L490.5 1120.4 L491 1121.1 L491.5 1121.8 L492 1122.5 L492.5 1123.2 L493 1123.9 L493.5 1124.6 L494 1125.3 L494.5 1126 L495 1126.7 L495.5 1127.4 L496 1128.1 L496.5 1128.8 L497 1129.5 L497.5 1130.2 L498 1130.9 L498.5 1131.6 L499 1132.2 L499.5 1132.9 L500 1133.6 L500.5 1134.3 L501 1135 L501.5 1135.6 L502 1136.3 L502.5 1137 L503 1137.6 L503.5 1138.3 L504 1138.9 L504.5 1139.6 L505 1140.2 L505.5 1140.9 L506 1141.5 L506.5 1142.1 L507 1142.8 L507.5 1143.4 L508 1144 L508.5 1144.6 L509 1145.2 L509.5 1145.8 L510 1146.4 L510.5 1147 L511 1147.6 L511.5 1148.2 L512 1148.8 L512.5 1149.4 L513 1150 L513.5 1150.6 L514 1151.1 L514.5 1151.7 L515 1152.3 L515.5 1152.8 L516 1153.4 L516.5 1153.9 L517 1154.5 L517.5 1155 L518 1155.6 L518.5 1156.1 L519 1156.7 L519.5 1157.2 L520 1157.7 L520.5 1158.3 L521 1158.8 L521.5 1159.3 L522 1159.9 L522.5 1160.4 L523 1160.9 L523.5 1161.4 L524 1161.9 L524.5 1162.4 L525 1162.9 L525.5 1163.4 L526 1163.9 L526.5 1164.4 L527 1164.9 L527.5 1165.4 L528 1165.9 L528.5 1166.4 L529 1166.8 L529.5 1167.3 L530 1167.8 L530.5 1168.3 L531 1168.7 L531.5 1169.2 L532 1169.7 L532.5 1170.1 L533 1170.6 L533.5 1171.1 L534 1171.5 L534.5 1172 L535 1172.4 L535.5 1172.9 L536 1173.3 L536.5 1173.8 L537 1174.2 L537.5 1174.6 L538 1175.1 L538.5 1175.5 L539 1175.9 L539.5 1176.4 L540 1176.8 L540.5 1177.2 L541 1177.7 L541.5 1178.1 L542 1178.5 L542.5 1178.9 L543 1179.4 L543.5 1179.8 L544 1180.2 L544.5 1180.6 L545 1181 L545.5 1181.4 L546 1181.8 L546.5 1182.2 L547 1182.6 L547.5 1183.1 L548 1183.5 L548.5 1183.9 L549 1184.3 L549.5 1184.7 L550 1185.1 L550.5 1185.5 L551 1185.8 L551.5 1186.2 L552 1186.6 L552.5 1187 L553 1187.4 L553.5 1187.8 L554 1188.2 L554.5 1188.6 L555 1189 L555.5 1189.3 L556 1189.7 L556.5 1190.1 L557 1190.5 L557.5 1190.9 L558 1191.3 L558.5 1191.6 L559 1192 L559.5 1192.4 L560 1192.8 L560.5 1193.1 L561 1193.5 L561.5 1193.9 L562 1194.3 L562.5 1194.6 L563 1195 L563.5 1195.4 L564 1195.8 L564.5 1196.1 L565 1196.5 L565.5 1196.9 L566 1197.2 L566.5 1197.6 L567 1198 L567.5 1198.4 L568 1198.7 L568.5 1199.1 L569 1199.5 L569.5 1199.8 L570 1200.2 L570.5 1200.6 L571 1200.9 L571.5 1201.3 L572 1201.7 L572.5 1202 L573 1202.4 L573.5 1202.7 L574 1203.1 L574.5 1203.5 L575 1203.8 L575.5 1204.2 L576 1204.6 L576.5 1204.9 L577 1205.3 L577.5 1205.6 L578 1206 L578.5 1206.4 L579 1206.7 L579.5 1207.1 L580 1207.4 L580.5 1207.8 L581 1208.1 L581.5 1208.5 L582 1208.9 L582.5 1209.2 L583 1209.6 L583.5 1209.9 L584 1210.3 L584.5 1210.6 L585 1211 L585.5 1211.3 L586 1211.7 L586.5 1212 L587 1212.4 L587.5 1212.7 L588 1213.1 L588.5 1213.4 L589 1213.8 L589.5 1214.1 L590 1214.5 L590.5 1214.8 L591 1215.2 L591.5 1215.5 L592 1215.9 L592.5 1216.2 L593 1216.6 L593.5 1216.9 L594 1217.3 L594.5 1217.6 L595 1218 L595.5 1218.3 L596 1218.6 L596.5 1219 L597 1219.3 L597.5 1219.7 L598 1220 L598.5 1220.4 L599 1220.7 L599.5 1221 L600 1221.4 L600.5 1221.7 L601 1222.1 L601.5 1222.4 L602 1222.7 L602.5 1223.1 L603 1223.4 L603.5 1223.8 L604 1224.1 L604.5 1224.4 L605 1224.8 L605.5 1225.1 L606 1225.4 L606.5 1225.8 L607 1226.1 L607.5 1226.4 L608 1226.8 L608.5 1227.1 L609 1227.4 L609.5 1227.8 L610 1228.1 L610.5 1228.4 L611 1228.8 L611.5 1229.1 L612 1229.4 L612.5 1229.7 L613 1230.1 L613.5 1230.4 L614 1230.7 L614.5 1231.1 L615 1231.4 L615.5 1231.7 L616 1232 L616.5 1232.4 L617 1232.7 L617.5 1233 L618 1233.3 L618.5 1233.7 L619 1234 L619.5 1234.3 L620 1234.6 L620.5 1235 L621 1235.3 L621.5 1235.6 L622 1235.9 L622.5 1236.2 L623 1236.6 L623.5 1236.9 L624 1237.2 L624.5 1237.5 L625 1237.8 L625.5 1238.2 L626 1238.5 L626.5 1238.8 L627 1239.1 L627.5 1239.4 L628 1239.7 L628.5 1240.1 L629 1240.4 L629.5 1240.7 L630 1241 L630.5 1241.3 L631 1241.6 L631.5 1241.9 L632 1242.3 L632.5 1242.6 L633 1242.9 L633.5 1243.2 L634 1243.5 L634.5 1243.8 L635 1244.1 L635.5 1244.4 L636 1244.7 L636.5 1245.1 L637 1245.4 L637.5 1245.7 L638 1246 L638.5 1246.3 L639 1246.6 L639.5 1246.9 L640 1247.2 L640.5 1247.5 L641 1247.8 L641.5 1248.1 L642 1248.4 L642.5 1248.7 L643 1249 L643.5 1249.3 L644 1249.6 L644.5 1249.9 L645 1250.2 L645.5 1250.5 L646 1250.8 L646.5 1251.2 L647 1251.5 L647.5 1251.8 L648 1252.1 L648.5 1252.3 L649 1252.6 L649.5 1252.9 L650 1253.2 L650.5 1253.5 L651 1253.8 L651.5 1254.1 L652 1254.4 L652.5 1254.7 L653 1255 L653.5 1255.3 L654 1255.6 L654.5 1255.9 L655 1256.2 L655.5 1256.5 L656 1256.8 L656.5 1257.1 L657 1257.4 L657.5 1257.7 L658 1258 L658.5 1258.2 L659 1258.5 L659.5 1258.8 L660 1259.1 L660.5 1259.4 L661 1259.7 L661.5 1260 L662 1260.3 L662.5 1260.6 L663 1260.8 L663.5 1261.1 L664 1261.4 L664.5 1261.7 L665 1262 L665.5 1262.3 L666 1262.6 L666.5 1262.8 L667 1263.1 L667.5 1263.4 L668 1263.7 L668.5 1264 L669 1264.3 L669.5 1264.5 L670 1264.8 L670.5 1265.1 L671 1265.4 L671.5 1265.7 L672 1265.9 L672.5 1266.2 L673 1266.5 L673.5 1266.8 L674 1267.1 L674.5 1267.3 L675 1267.6 L675.5 1267.9 L676 1268.2 L676.5 1268.4 L677 1268.7 L677.5 1269 L678 1269.3 L678.5 1269.5 L679 1269.8 L679.5 1270.1 L680 1270.4 L680.5 1270.6 L681 1270.9 L681.5 1271.2 L682 1271.5 L682.5 1271.7 L683 1272 L683.5 1272.3 L684 1272.5 L684.5 1272.8 L685 1273.1 L685.5 1273.3 L686 1273.6 L686.5 1273.9 L687 1274.2 L687.5 1274.4 L688 1274.7 L688.5 1275 L689 1275.2 L689.5 1275.5 L690 1275.8 L690.5 1276 L691 1276.3 L691.5 1276.5 L692 1276.8 L692.5 1277.1 L693 1277.3 L693.5 1277.6 L694 1277.9 L694.5 1278.1 L695 1278.4 L695.5 1278.6 L696 1278.9 L696.5 1279.2 L697 1279.4 L697.5 1279.7 L698 1280 L698.5 1280.2 L699 1280.5 L699.5 1280.7 L700 1281 L700.5 1281.2 L701 1281.5 L701.5 1281.8 L702 1282 L702.5 1282.3 L703 1282.5 L703.5 1282.8 L704 1283 L704.5 1283.3 L705 1283.5 L705.5 1283.8 L706 1284 L706.5 1284.3 L707 1284.6 L707.5 1284.8 L708 1285.1 L708.5 1285.3 L709 1285.6 L709.5 1285.8 L710 1286.1 L710.5 1286.3 L711 1286.6 L711.5 1286.8 L712 1287.1 L712.5 1287.3 L713 1287.5 L713.5 1287.8 L714 1288 L714.5 1288.3 L715 1288.5 L715.5 1288.8 L716 1289 L716.5 1289.3 L717 1289.5 L717.5 1289.8 L718 1290 L718.5 1290.2 L719 1290.5 L719.5 1290.7 L720 1291 L720.5 1291.2 L721 1291.5 L721.5 1291.7 L722 1291.9 L722.5 1292.2 L723 1292.4 L723.5 1292.7 L724 1292.9 L724.5 1293.1 L725 1293.4 L725.5 1293.6 L726 1293.9 L726.5 1294.1 L727 1294.3 L727.5 1294.6 L728 1294.8 L728.5 1295 L729 1295.3 L729.5 1295.5 L730 1295.7 L730.5 1296 L731 1296.2 L731.5 1296.4 L732 1296.7 L732.5 1296.9 L733 1297.1 L733.5 1297.4 L734 1297.6 L734.5 1297.8 L735 1298.1 L735.5 1298.3 L736 1298.5 L736.5 1298.8 L737 1299 L737.5 1299.2 L738 1299.5 L738.5 1299.7 L739 1299.9 L739.5 1300.1 L740 1300.4 L740.5 1300.6 L741 1300.8 L741.5 1301 L742 1301.3 L742.5 1301.5 L743 1301.7 L743.5 1301.9 L744 1302.2 L744.5 1302.4 L745 1302.6 L745.5 1302.8 L746 1303.1 L746.5 1303.3 L747 1303.5 L747.5 1303.7 L748 1304 L748.5 1304.2 L749 1304.4 L749.5 1304.6 L750 1304.8 L750.5 1305.1 L751 1305.3 L751.5 1305.5 L752 1305.7 L752.5 1305.9 L753 1306.1 L753.5 1306.4 L754 1306.6 L754.5 1306.8 L755 1307 L755.5 1307.2 L756 1307.4 L756.5 1307.7 L757 1307.9 L757.5 1308.1 L758 1308.3 L758.5 1308.5 L759 1308.7 L759.5 1308.9 L760 1309.2 L760.5 1309.4 L761 1309.6 L761.5 1309.8 L762 1310 L762.5 1310.2 L763 1310.4 L763.5 1310.6 L764 1310.9 L764.5 1311.1 L765 1311.3 L765.5 1311.5 L766 1311.7 L766.5 1311.9 L767 1312.1 L767.5 1312.3 L768 1312.5 L768.5 1312.7 L769 1312.9 L769.5 1313.1 L770 1313.3 L770.5 1313.5 L771 1313.8 L771.5 1314 L772 1314.2 L772.5 1314.4 L773 1314.6 L773.5 1314.8 L774 1315 L774.5 1315.2 L775 1315.4 L775.5 1315.6 L776 1315.8 L776.5 1316 L777 1316.2 L777.5 1316.4 L778 1316.6 L778.5 1316.8 L779 1317 L779.5 1317.2 L780 1317.4 L780.5 1317.6 L781 1317.8 L781.5 1318 L782 1318.2 L782.5 1318.4 L783 1318.6 L783.5 1318.8 L784 1319 L784.5 1319.2 L785 1319.3 L785.5 1319.5 L786 1319.7 L786.5 1319.9 L787 1320.1 L787.5 1320.3 L788 1320.5 L788.5 1320.7 L789 1320.9 L789.5 1321.1 L790 1321.3 L790.5 1321.5 L791 1321.7 L791.5 1321.9 L792 1322 L792.5 1322.2 L793 1322.4 L793.5 1322.6 L794 1322.8 L794.5 1323 L795 1323.2 L795.5 1323.4 L796 1323.6 L796.5 1323.7 L797 1323.9 L797.5 1324.1 L798 1324.3 L798.5 1324.5 L799 1324.7 L799.5 1324.9 L800 1325 L800.5 1325.2 L801 1325.4 L801.5 1325.6 L802 1325.8 L802.5 1326 L803 1326.1 L803.5 1326.3 L804 1326.5 L804.5 1326.7 L805 1326.9 L805.5 1327 L806 1327.2 L806.5 1327.4 L807 1327.6 L807.5 1327.8 L808 1327.9 L808.5 1328.1 L809 1328.3 L809.5 1328.5 L810 1328.7 L810.5 1328.8 L811 1329 L811.5 1329.2 L812 1329.4 L812.5 1329.5 L813 1329.7 L813.5 1329.9 L814 1330.1 L814.5 1330.2 L815 1330.4 L815.5 1330.6 L816 1330.8 L816.5 1330.9 L817 1331.1 L817.5 1331.3 L818 1331.5 L818.5 1331.6 L819 1331.8 L819.5 1332 L820 1332.1 L820.5 1332.3 L821 1332.5 L821.5 1332.7 L822 1332.8 L822.5 1333 L823 1333.2 L823.5 1333.3 L824 1333.5 L824.5 1333.7 L825 1333.8 L825.5 1334 L826 1334.2 L826.5 1334.3 L827 1334.5 L827.5 1334.7 L828 1334.8 L828.5 1335 L829 1335.2 L829.5 1335.3 L830 1335.5 L830.5 1335.7 L831 1335.8 L831.5 1336 L832 1336.2 L832.5 1336.3 L833 1336.5 L833.5 1336.6 L834 1336.8 L834.5 1337 L835 1337.1 L835.5 1337.3 L836 1337.5 L836.5 1337.6 L837 1337.8 L837.5 1337.9 L838 1338.1 L838.5 1338.3 L839 1338.4 L839.5 1338.6 L840 1338.7 L840.5 1338.9 L841 1339 L841.5 1339.2 L842 1339.4 L842.5 1339.5 L843 1339.7 L843.5 1339.8 L844 1340 L844.5 1340.1 L845 1340.3 L845.5 1340.4 L846 1340.6 L846.5 1340.8 L847 1340.9 L847.5 1341.1 L848 1341.2 L848.5 1341.4 L849 1341.5 L849.5 1341.7 L850 1341.8 L850.5 1342 L851 1342.1 L851.5 1342.3 L852 1342.4 L852.5 1342.6 L853 1342.7 L853.5 1342.9 L854 1343 L854.5 1343.2 L855 1343.3 L855.5 1343.5 L856 1343.6 L856.5 1343.8 L857 1343.9 L857.5 1344.1 L858 1344.2 L858.5 1344.4 L859 1344.5 L859.5 1344.6 L860 1344.8 L860.5 1344.9 L861 1345.1 L861.5 1345.2 L862 1345.4 L862.5 1345.5 L863 1345.7 L863.5 1345.8 L864 1345.9 L864.5 1346.1 L865 1346.2 L865.5 1346.4 L866 1346.5 L866.5 1346.7 L867 1346.8 L867.5 1346.9 L868 1347.1 L868.5 1347.2 L869 1347.4 L869.5 1347.5 L870 1347.6 L870.5 1347.8 L871 1347.9 L871.5 1348 L872 1348.2 L872.5 1348.3 L873 1348.5 L873.5 1348.6 L874 1348.7 L874.5 1348.9 L875 1349 L875.5 1349.1 L876 1349.3 L876.5 1349.4 L877 1349.5 L877.5 1349.7 L878 1349.8 L878.5 1350 L879 1350.1 L879.5 1350.2 L880 1350.4 L880.5 1350.5 L881 1350.6 L881.5 1350.7 L882 1350.9 L882.5 1351 L883 1351.1 L883.5 1351.3 L884 1351.4 L884.5 1351.5 L885 1351.7 L885.5 1351.8 L886 1351.9 L886.5 1352.1 L887 1352.2 L887.5 1352.3 L888 1352.4 L888.5 1352.6 L889 1352.7 L889.5 1352.8 L890 1352.9 L890.5 1353.1 L891 1353.2 L891.5 1353.3 L892 1353.5 L892.5 1353.6 L893 1353.7 L893.5 1353.8 L894 1354 L894.5 1354.1 L895 1354.2 L895.5 1354.3 L896 1354.4 L896.5 1354.6 L897 1354.7 L897.5 1354.8 L898 1354.9 L898.5 1355.1 L899 1355.2 L899.5 1355.3 L900 1355.4 L900.5 1355.5 L901 1355.7 L901.5 1355.8 L902 1355.9 L902.5 1356 L903 1356.1 L903.5 1356.3 L904 1356.4 L904.5 1356.5 L905 1356.6 L905.5 1356.7 L906 1356.9 L906.5 1357 L907 1357.1 L907.5 1357.2 L908 1357.3 L908.5 1357.4 L909 1357.6 L909.5 1357.7 L910 1357.8 L910.5 1357.9 L911 1358 L911.5 1358.1 L912 1358.2 L912.5 1358.4 L913 1358.5 L913.5 1358.6 L914 1358.7 L914.5 1358.8 L915 1358.9 L915.5 1359 L916 1359.1 L916.5 1359.3 L917 1359.4 L917.5 1359.5 L918 1359.6 L918.5 1359.7 L919 1359.8 L919.5 1359.9 L920 1360 L920.5 1360.1 L921 1360.2 L921.5 1360.4 L922 1360.5 L922.5 1360.6 L923 1360.7 L923.5 1360.8 L924 1360.9 L924.5 1361 L925 1361.1 L925.5 1361.2 L926 1361.3 L926.5 1361.4 L927 1361.5 L927.5 1361.6 L928 1361.7 L928.5 1361.8 L929 1362 L929.5 1362.1 L930 1362.2 L930.5 1362.3 L931 1362.4 L931.5 1362.5 L932 1362.6 L932.5 1362.7 L933 1362.8 L933.5 1362.9 L934 1363 L934.5 1363.1 L935 1363.2 L935.5 1363.3 L936 1363.4 L936.5 1363.5 L937 1363.6 L937.5 1363.7 L938 1363.8 L938.5 1363.9 L939 1364 L939.5 1364.1 L940 1364.2 L940.5 1364.3 L941 1364.4 L941.5 1364.5 L942 1364.6 L942.5 1364.7 L943 1364.8 L943.5 1364.9 L944 1365 L944.5 1365 L945 1365.1 L945.5 1365.2 L946 1365.3 L946.5 1365.4 L947 1365.5 L947.5 1365.6 L948 1365.7 L948.5 1365.8 L949 1365.9 L949.5 1366 L950 1366.1 L950.5 1366.2 L951 1366.3 L951.5 1366.4 L952 1366.5 L952.5 1366.5 L953 1366.6 L953.5 1366.7 L954 1366.8 L954.5 1366.9 L955 1367 L955.5 1367.1 L956 1367.2 L956.5 1367.3 L957 1367.4 L957.5 1367.4 L958 1367.5 L958.5 1367.6 L959 1367.7 L959.5 1367.8 L960 1367.9 L960.5 1368 L961 1368.1 L961.5 1368.1 L962 1368.2 L962.5 1368.3 L963 1368.4 L963.5 1368.5 L964 1368.6 L964.5 1368.7 L965 1368.7 L965.5 1368.8 L966 1368.9 L966.5 1369 L967 1369.1 L967.5 1369.2 L968 1369.2 L968.5 1369.3 L969 1369.4 L969.5 1369.5 L970 1369.6 L970.5 1369.7 L971 1369.7 L971.5 1369.8 L972 1369.9 L972.5 1370 L973 1370.1 L973.5 1370.1 L974 1370.2 L974.5 1370.3 L975 1370.4 L975.5 1370.5 L976 1370.5 L976.5 1370.6 L977 1370.7 L977.5 1370.8 L978 1370.9 L978.5 1370.9 L979 1371 L979.5 1371.1 L980 1371.2 L980.5 1371.2 L981 1371.3 L981.5 1371.4 L982 1371.5 L982.5 1371.5 L983 1371.6 L983.5 1371.7 L984 1371.8 L984.5 1371.8 L985 1371.9 L985.5 1372 L986 1372.1 L986.5 1372.1 L987 1372.2 L987.5 1372.3 L988 1372.4 L988.5 1372.4 L989 1372.5 L989.5 1372.6 L990 1372.6 L990.5 1372.7 L991 1372.8 L991.5 1372.9 L992 1372.9 L992.5 1373 L993 1373.1 L993.5 1373.1 L994 1373.2 L994.5 1373.3 L995 1373.3 L995.5 1373.4 L996 1373.5 L996.5 1373.6 L997 1373.6 L997.5 1373.7 L998 1373.8 L998.5 1373.8 L999 1373.9 L999.5 1374 L1000 1374 L1000.5 1374.1 L1001 1374.2 L1001.5 1374.2 L1002 1374.3 L1002.5 1374.4 L1003 1374.4 L1003.5 1374.5 L1004 1374.6 L1004.5 1374.6 L1005 1374.7 L1005.5 1374.7 L1006 1374.8 L1006.5 1374.9 L1007 1374.9 L1007.5 1375 L1008 1375.1 L1008.5 1375.1 L1009 1375.2 L1009.5 1375.2 L1010 1375.3 L1010.5 1375.4 L1011 1375.4 L1011.5 1375.5 L1012 1375.6 L1012.5 1375.6 L1013 1375.7 L1013.5 1375.7 L1014 1375.8 L1014.5 1375.9 L1015 1375.9 L1015.5 1376 L1016 1376 L1016.5 1376.1 L1017 1376.2 L1017.5 1376.2 L1018 1376.3 L1018.5 1376.3 L1019 1376.4 L1019.5 1376.4 L1020 1376.5 L1020.5 1376.6 L1021 1376.6 L1021.5 1376.7 L1022 1376.7 L1022.5 1376.8 L1023 1376.8 L1023.5 1376.9 L1024 1376.9 L1024.5 1377 L1025 1377.1 L1025.5 1377.1 L1026 1377.2 L1026.5 1377.2 L1027 1377.3 L1027.5 1377.3 L1028 1377.4 L1028.5 1377.4 L1029 1377.5 L1029.5 1377.5 L1030 1377.6 L1030.5 1377.6 L1031 1377.7 L1031.5 1377.7 L1032 1377.8 L1032.5 1377.8 L1033 1377.9 L1033.5 1377.9 L1034 1378 L1034.5 1378.1 L1035 1378.1 L1035.5 1378.2 L1036 1378.2 L1036.5 1378.2 L1037 1378.3 L1037.5 1378.3 L1038 1378.4 L1038.5 1378.4 L1039 1378.5 L1039.5 1378.5 L1040 1378.6 L1040.5 1378.6 L1041 1378.7 L1041.5 1378.7 L1042 1378.8 L1042.5 1378.8 L1043 1378.9 L1043.5 1378.9 L1044 1379 L1044.5 1379 L1045 1379.1 L1045.5 1379.1 L1046 1379.1 L1046.5 1379.2 L1047 1379.2 L1047.5 1379.3 L1048 1379.3 L1048.5 1379.4 L1049 1379.4 L1049.5 1379.5 L1050 1379.5 L1050.5 1379.5 L1051 1379.6 L1051.5 1379.6 L1052 1379.7 L1052.5 1379.7 L1053 1379.7 L1053.5 1379.8 L1054 1379.8 L1054.5 1379.9 L1055 1379.9 L1055.5 1380 L1056 1380 L1056.5 1380 L1057 1380.1 L1057.5 1380.1 L1058 1380.2 L1058.5 1380.2 L1059 1380.2 L1059.5 1380.3 L1060 1380.3 L1060.5 1380.3 L1061 1380.4 L1061.5 1380.4 L1062 1380.5 L1062.5 1380.5 L1063 1380.5 L1063.5 1380.6 L1064 1380.6 L1064.5 1380.6 L1065 1380.7 L1065.5 1380.7 L1066 1380.8 L1066.5 1380.8 L1067 1380.8 L1067.5 1380.9 L1068 1380.9 L1068.5 1380.9 L1069 1381 L1069.5 1381 L1070 1381 L1070.5 1381.1 L1071 1381.1 L1071.5 1381.1 L1072 1381.2 L1072.5 1381.2 L1073 1381.2 L1073.5 1381.3 L1074 1381.3 L1074.5 1381.3 L1075 1381.4 L1075.5 1381.4 L1076 1381.4 L1076.5 1381.5 L1077 1381.5 L1077.5 1381.5 L1078 1381.6 L1078.5 1381.6 L1079 1381.6 L1079.5 1381.7 L1080 1381.7 L1080.5 1381.7 L1081 1381.7 L1081.5 1381.8 L1082 1381.8 L1082.5 1381.8 L1083 1381.9 L1083.5 1381.9 L1084 1381.9 L1084.5 1381.9 L1085 1382 L1085.5 1382 L1086 1382 L1086.5 1382.1 L1087 1382.1 L1087.5 1382.1 L1088 1382.1 L1088.5 1382.2 L1089 1382.2 L1089.5 1382.2 L1090 1382.2 L1090.5 1382.3 L1091 1382.3 L1091.5 1382.3 L1092 1382.3 L1092.5 1382.4 L1093 1382.4 L1093.5 1382.4 L1094 1382.4 L1094.5 1382.5 L1095 1382.5 L1095.5 1382.5 L1096 1382.5 L1096.5 1382.6 L1097 1382.6 L1097.5 1382.6 L1098 1382.6 L1098.5 1382.7 L1099 1382.7 L1099.5 1382.7 L1100 1382.7 L1100.5 1382.7 L1101 1382.8 L1101.5 1382.8 L1102 1382.8 L1102.5 1382.8 L1103 1382.8 L1103.5 1382.9 L1104 1382.9 L1104.5 1382.9 L1105 1382.9 L1105.5 1382.9 L1106 1383 L1106.5 1383 L1107 1383 L1107.5 1383 L1108 1383 L1108.5 1383.1 L1109 1383.1 L1109.5 1383.1 L1110 1383.1 L1110.5 1383.1 L1111 1383.2 L1111.5 1383.2 L1112 1383.2 L1112.5 1383.2 L1113 1383.2 L1113.5 1383.2 L1114 1383.3 L1114.5 1383.3 L1115 1383.3 L1115.5 1383.3 L1116 1383.3 L1116.5 1383.3 L1117 1383.3 L1117.5 1383.4 L1118 1383.4 L1118.5 1383.4 L1119 1383.4 L1119.5 1383.4 L1120 1383.4 L1120.5 1383.4 L1121 1383.5 L1121.5 1383.5 L1122 1383.5 L1122.5 1383.5 L1123 1383.5 L1123.5 1383.5 L1124 1383.5 L1124.5 1383.6 L1125 1383.6 L1125.5 1383.6 L1126 1383.6 L1126.5 1383.6 L1127 1383.6 L1127.5 1383.6 L1128 1383.6 L1128.5 1383.6 L1129 1383.7 L1129.5 1383.7 L1130 1383.7 L1130.5 1383.7 L1131 1383.7 L1131.5 1383.7 L1132 1383.7 L1132.5 1383.7 L1133 1383.7 L1133.5 1383.7 L1134 1383.8 L1134.5 1383.8 L1135 1383.8 L1135.5 1383.8 L1136 1383.8" fill="none" stroke="#ff00ff" stroke-width="6" stroke-linejoin="round" stroke-linecap="butt"/>
<path d="M236.5 1389.5 L237 1389.4 L237.5 1389.4 L238 1389.3 L238.5 1389.2 L239 1389.1 L239.5 1389 L240 1388.9 L240.5 1388.8 L241 1388.7 L241.5 1388.6 L242 1388.4 L242.5 1388.3 L243 1388.1 L243.5 1387.9 L244 1387.7 L244.5 1387.6 L245 1387.4 L245.5 1387.1 L246 1386.9 L246.5 1386.7 L247 1386.5 L247.5 1386.2 L248 1386 L248.5 1385.7 L249 1385.4 L249.5 1385.2 L250 1384.9 L250.5 1384.6 L251 1384.3 L251.5 1383.9 L252 1383.6 L252.5 1383.3 L253 1383 L253.5 1382.6 L254 1382.2 L254.5 1381.9 L255 1381.5 L255.5 1381.1 L256 1380.7 L256.5 1380.3 L257 1379.9 L257.5 1379.5 L258 1379.1 L258.5 1378.7 L259 1378.2 L259.5 1377.8 L260 1377.3 L260.5 1376.9 L261 1376.4 L261.5 1375.9 L262 1375.4 L262.5 1374.9 L263 1374.4 L263.5 1373.9 L264 1373.4 L264.5 1372.9 L265 1372.4 L265.5 1371.8 L266 1371.3 L266.5 1370.7 L267 1370.2 L267.5 1369.6 L268 1369 L268.5 1368.4 L269 1367.9 L269.5 1367.3 L270 1366.7 L270.5 1366 L271 1365.4 L271.5 1364.8 L272 1364.2 L272.5 1363.5 L273 1362.9 L273.5 1362.3 L274 1361.6 L274.5 1360.9 L275 1360.3 L275.5 1359.6 L276 1358.9 L276.5 1358.2 L277 1357.5 L277.5 1356.8 L278 1356.1 L278.5 1355.4 L279 1354.7 L279.5 1354 L280 1353.2 L280.5 1352.5 L281 1351.7 L281.5 1351 L282 1350.2 L282.5 1349.5 L283 1348.7 L283.5 1347.9 L284 1347.1 L284.5 1346.4 L285 1345.6 L285.5 1344.8 L286 1344 L286.5 1343.2 L287 1342.4 L287.5 1341.5 L288 1340.7 L288.5 1339.9 L289 1339 L289.5 1338.2 L290 1337.4 L290.5 1336.5 L291 1335.7 L291.5 1334.8 L292 1333.9 L292.5 1333.1 L293 1332.2 L293.5 1331.3 L294 1330.4 L294.5 1329.5 L295 1328.6 L295.5 1327.7 L296 1326.8 L296.5 1325.9 L297 1325 L297.5 1324.1 L298 1323.2 L298.5 1322.2 L299 1321.3 L299.5 1320.4 L300 1319.4 L300.5 1318.5 L301 1317.5 L301.5 1316.6 L302 1315.6 L302.5 1314.7 L303 1313.7 L303.5 1312.7 L304 1311.8 L304.5 1310.8 L305 1309.8 L305.5 1308.8 L306 1307.8 L306.5 1306.9 L307 1305.9 L307.5 1304.9 L308 1303.9 L308.5 1302.8 L309 1301.8 L309.5 1300.8 L310 1299.8 L310.5 1298.8 L311 1297.8 L311.5 1296.7 L312 1295.7 L312.5 1294.7 L313 1293.6 L313.5 1292.6 L314 1291.6 L314.5 1290.5 L315 1289.5 L315.5 1288.4 L316 1287.4 L316.5 1286.3 L317 1285.2 L317.5 1284.2 L318 1283.1 L318.5 1282 L319 1281 L319.5 1279.9 L320 1278.8 L320.5 1277.7 L321 1276.7 L321.5 1275.6 L322 1274.5 L322.5 1273.4 L323 1272.3 L323.5 1271.2 L324 1270.1 L324.5 1269 L325 1267.9 L325.5 1266.8 L326 1265.7 L326.5 1264.6 L327 1263.5 L327.5 1262.4 L328 1261.3 L328.5 1260.2 L329 1259.1 L329.5 1257.9 L330 1256.8 L330.5 1255.7 L331 1254.6 L331.5 1253.5 L332 1252.3 L332.5 1251.2 L333 1250.1 L333.5 1249 L334 1247.8 L334.5 1246.7 L335 1245.6 L335.5 1244.4 L336 1243.3 L336.5 1242.2 L337 1241 L337.5 1239.9 L338 1238.8 L338.5 1237.6 L339 1236.5 L339.5 1235.3 L340 1234.2 L340.5 1233.1 L341 1231.9 L341.5 1230.8 L342 1229.6 L342.5 1228.5 L343 1227.3 L343.5 1226.2 L344 1225.1 L344.5 1223.9 L345 1222.8 L345.5 1221.6 L346 1220.5 L346.5 1219.3 L347 1218.2 L347.5 1217.1 L348 1215.9 L348.5 1214.8 L349 1213.7 L349.5 1212.5 L350 1211.4 L350.5 1210.2 L351 1209.1 L351.5 1208 L352 1206.9 L352.5 1205.7 L353 1204.6 L353.5 1203.5 L354 1202.4 L354.5 1201.2 L355 1200.1 L355.5 1199 L356 1197.9 L356.5 1196.8 L357 1195.7 L357.5 1194.6 L358 1193.5 L358.5 1192.4 L359 1191.3 L359.5 1190.2 L360 1189.1 L360.5 1188 L361 1186.9 L361.5 1185.8 L362 1184.8 L362.5 1183.7 L363 1182.6 L363.5 1181.5 L364 1180.5 L364.5 1179.4 L365 1178.4 L365.5 1177.3 L366 1176.3 L366.5 1175.2 L367 1174.2 L367.5 1173.2 L368 1172.1 L368.5 1171.1 L369 1170.1 L369.5 1169.1 L370 1168 L370.5 1167 L371 1166 L371.5 1165 L372 1164 L372.5 1163.1 L373 1162.1 L373.5 1161.1 L374 1160.1 L374.5 1159.2 L375 1158.2 L375.5 1157.3 L376 1156.3 L376.5 1155.4 L377 1154.4 L377.5 1153.5 L378 1152.6 L378.5 1151.7 L379 1150.8 L379.5 1149.8 L380 1148.9 L380.5 1148.1 L381 1147.2 L381.5 1146.3 L382 1145.4 L382.5 1144.6 L383 1143.7 L383.5 1142.9 L384 1142 L384.5 1141.2 L385 1140.4 L385.5 1139.5 L386 1138.7 L386.5 1137.9 L387 1137.1 L387.5 1136.3 L388 1135.6 L388.5 1134.8 L389 1134 L389.5 1133.3 L390 1132.5 L390.5 1131.8 L391 1131.1 L391.5 1130.3 L392 1129.6 L392.5 1128.9 L393 1128.2 L393.5 1127.5 L394 1126.9 L394.5 1126.2 L395 1125.5 L395.5 1124.9 L396 1124.3 L396.5 1123.6 L397 1123 L397.5 1122.4 L398 1121.8 L398.5 1121.2 L399 1120.6 L399.5 1120.1 L400 1119.5 L400.5 1119 L401 1118.4 L401.5 1117.9 L402 1117.4 L402.5 1116.9 L403 1116.4 L403.5 1115.9 L404 1115.4 L404.5 1114.9 L405 1114.4 L405.5 1114 L406 1113.5 L406.5 1113.1 L407 1112.7 L407.5 1112.3 L408 1111.9 L408.5 1111.5 L409 1111.1 L409.5 1110.7 L410 1110.3 L410.5 1110 L411 1109.6 L411.5 1109.3 L412 1109 L412.5 1108.6 L413 1108.3 L413.5 1108 L414 1107.7 L414.5 1107.4 L415 1107.2 L415.5 1106.9 L416 1106.6 L416.5 1106.4 L417 1106.1 L417.5 1105.9 L418 1105.7 L418.5 1105.5 L419 1105.2 L419.5 1105 L420 1104.9 L420.5 1104.7 L421 1104.5 L421.5 1104.3 L422 1104.2 L422.5 1104 L423 1103.9 L423.5 1103.8 L424 1103.6 L424.5 1103.5 L425 1103.4 L425.5 1103.3 L426 1103.2 L426.5 1103.1 L427 1103.1 L427.5 1103 L428 1102.9 L428.5 1102.9 L429 1102.8 L429.5 1102.8 L430 1102.8 L430.5 1102.7 L431 1102.7 L431.5 1102.7 L432 1102.7 L432.5 1102.7 L433 1102.8 L433.5 1102.8 L434 1102.8 L434.5 1102.9 L435 1102.9 L435.5 1103 L436 1103 L436.5 1103.1 L437 1103.2 L437.5 1103.3 L438 1103.3 L438.5 1103.4 L439 1103.6 L439.5 1103.7 L440 1103.8 L440.5 1103.9 L441 1104 L441.5 1104.2 L442 1104.3 L442.5 1104.5 L443 1104.7 L443.5 1104.8 L444 1105 L444.5 1105.2 L445 1105.4 L445.5 1105.6 L446 1105.8 L446.5 1106 L447 1106.2 L447.5 1106.4 L448 1106.6 L448.5 1106.9 L449 1107.1 L449.5 1107.4 L450 1107.6 L450.5 1107.9 L451 1108.1 L451.5 1108.4 L452 1108.7 L452.5 1109 L453 1109.3 L453.5 1109.6 L454 1109.9 L454.5 1110.2 L455 1110.5 L455.5 1110.8 L456 1111.2 L456.5 1111.5 L457 1111.8 L457.5 1112.2 L458 1112.5 L458.5 1112.9 L459 1113.2 L459.5 1113.6 L460 1114 L460.5 1114.4 L461 1114.8 L461.5 1115.1 L462 1115.5 L462.5 1115.9 L463 1116.3 L463.5 1116.8 L464 1117.2 L464.5 1117.6 L465 1118 L465.5 1118.5 L466 1118.9 L466.5 1119.3 L467 1119.8 L467.5 1120.2 L468 1120.7 L468.5 1121.2 L469 1121.6 L469.5 1122.1 L470 1122.6 L470.5 1123.1 L471 1123.5 L471.5 1124 L472 1124.5 L472.5 1125 L473 1125.5 L473.5 1126 L474 1126.5 L474.5 1127 L475 1127.5 L475.5 1128 L476 1128.6 L476.5 1129.1 L477 1129.6 L477.5 1130.1 L478 1130.7 L478.5 1131.2 L479 1131.7 L479.5 1132.3 L480 1132.8 L480.5 1133.3 L481 1133.9 L481.5 1134.4 L482 1135 L482.5 1135.5 L483 1136.1 L483.5 1136.6 L484 1137.2 L484.5 1137.7 L485 1138.3 L485.5 1138.8 L486 1139.4 L486.5 1139.9 L487 1140.5 L487.5 1141 L488 1141.6 L488.5 1142.2 L489 1142.7 L489.5 1143.3 L490 1143.8 L490.5 1144.4 L491 1145 L491.5 1145.5 L492 1146.1 L492.5 1146.6 L493 1147.2 L493.5 1147.8 L494 1148.3 L494.5 1148.9 L495 1149.4 L495.5 1150 L496 1150.5 L496.5 1151.1 L497 1151.7 L497.5 1152.2 L498 1152.8 L498.5 1153.3 L499 1153.9 L499.5 1154.4 L500 1154.9 L500.5 1155.5 L501 1156 L501.5 1156.6 L502 1157.1 L502.5 1157.6 L503 1158.2 L503.5 1158.7 L504 1159.2 L504.5 1159.7 L505 1160.3 L505.5 1160.8 L506 1161.3 L506.5 1161.8 L507 1162.3 L507.5 1162.9 L508 1163.4 L508.5 1163.9 L509 1164.4 L509.5 1164.9 L510 1165.4 L510.5 1165.9 L511 1166.4 L511.5 1166.9 L512 1167.4 L512.5 1167.9 L513 1168.4 L513.5 1168.9 L514 1169.4 L514.5 1169.9 L515 1170.4 L515.5 1170.8 L516 1171.3 L516.5 1171.8 L517 1172.3 L517.5 1172.8 L518 1173.2 L518.5 1173.7 L519 1174.2 L519.5 1174.7 L520 1175.1 L520.5 1175.6 L521 1176.1 L521.5 1176.5 L522 1177 L522.5 1177.5 L523 1177.9 L523.5 1178.4 L524 1178.9 L524.5 1179.3 L525 1179.8 L525.5 1180.2 L526 1180.7 L526.5 1181.1 L527 1181.6 L527.5 1182 L528 1182.5 L528.5 1182.9 L529 1183.4 L529.5 1183.8 L530 1184.2 L530.5 1184.7 L531 1185.1 L531.5 1185.5 L532 1186 L532.5 1186.4 L533 1186.8 L533.5 1187.3 L534 1187.7 L534.5 1188.1 L535 1188.6 L535.5 1189 L536 1189.4 L536.5 1189.8 L537 1190.3 L537.5 1190.7 L538 1191.1 L538.5 1191.5 L539 1191.9 L539.5 1192.3 L540 1192.8 L540.5 1193.2 L541 1193.6 L541.5 1194 L542 1194.4 L542.5 1194.8 L543 1195.2 L543.5 1195.6 L544 1196 L544.5 1196.4 L545 1196.8 L545.5 1197.2 L546 1197.6 L546.5 1198 L547 1198.4 L547.5 1198.8 L548 1199.2 L548.5 1199.6 L549 1200 L549.5 1200.4 L550 1200.8 L550.5 1201.2 L551 1201.5 L551.5 1201.9 L552 1202.3 L552.5 1202.7 L553 1203.1 L553.5 1203.5 L554 1203.9 L554.5 1204.2 L555 1204.6 L555.5 1205 L556 1205.4 L556.5 1205.8 L557 1206.1 L557.5 1206.5 L558 1206.9 L558.5 1207.3 L559 1207.6 L559.5 1208 L560 1208.4 L560.5 1208.7 L561 1209.1 L561.5 1209.5 L562 1209.8 L562.5 1210.2 L563 1210.6 L563.5 1210.9 L564 1211.3 L564.5 1211.7 L565 1212 L565.5 1212.4 L566 1212.8 L566.5 1213.1 L567 1213.5 L567.5 1213.8 L568 1214.2 L568.5 1214.6 L569 1214.9 L569.5 1215.3 L570 1215.6 L570.5 1216 L571 1216.3 L571.5 1216.7 L572 1217 L572.5 1217.4 L573 1217.7 L573.5 1218.1 L574 1218.4 L574.5 1218.8 L575 1219.1 L575.5 1219.5 L576 1219.8 L576.5 1220.2 L577 1220.5 L577.5 1220.9 L578 1221.2 L578.5 1221.6 L579 1221.9 L579.5 1222.3 L580 1222.6 L580.5 1223 L581 1223.3 L581.5 1223.6 L582 1224 L582.5 1224.3 L583 1224.7 L583.5 1225 L584 1225.3 L584.5 1225.7 L585 1226 L585.5 1226.4 L586 1226.7 L586.5 1227 L587 1227.4 L587.5 1227.7 L588 1228 L588.5 1228.4 L589 1228.7 L589.5 1229.1 L590 1229.4 L590.5 1229.7 L591 1230.1 L591.5 1230.4 L592 1230.7 L592.5 1231.1 L593 1231.4 L593.5 1231.7 L594 1232.1 L594.5 1232.4 L595 1232.7 L595.5 1233 L596 1233.4 L596.5 1233.7 L597 1234 L597.5 1234.4 L598 1234.7 L598.5 1235 L599 1235.3 L599.5 1235.7 L600 1236 L600.5 1236.3 L601 1236.6 L601.5 1237 L602 1237.3 L602.5 1237.6 L603 1237.9 L603.5 1238.3 L604 1238.6 L604.5 1238.9 L605 1239.2 L605.5 1239.6 L606 1239.9 L606.5 1240.2 L607 1240.5 L607.5 1240.8 L608 1241.2 L608.5 1241.5 L609 1241.8 L609.5 1242.1 L610 1242.4 L610.5 1242.7 L611 1243.1 L611.5 1243.4 L612 1243.7 L612.5 1244 L613 1244.3 L613.5 1244.6 L614 1244.9 L614.5 1245.3 L615 1245.6 L615.5 1245.9 L616 1246.2 L616.5 1246.5 L617 1246.8 L617.5 1247.1 L618 1247.4 L618.5 1247.8 L619 1248.1 L619.5 1248.4 L620 1248.7 L620.5 1249 L621 1249.3 L621.5 1249.6 L622 1249.9 L622.5 1250.2 L623 1250.5 L623.5 1250.8 L624 1251.1 L624.5 1251.4 L625 1251.7 L625.5 1252 L626 1252.4 L626.5 1252.7 L627 1253 L627.5 1253.3 L628 1253.6 L628.5 1253.9 L629 1254.2 L629.5 1254.5 L630 1254.8 L630.5 1255.1 L631 1255.4 L631.5 1255.7 L632 1256 L632.5 1256.3 L633 1256.6 L633.5 1256.9 L634 1257.2 L634.5 1257.4 L635 1257.7 L635.5 1258 L636 1258.3 L636.5 1258.6 L637 1258.9 L637.5 1259.2 L638 1259.5 L638.5 1259.8 L639 1260.1 L639.5 1260.4 L640 1260.7 L640.5 1261 L641 1261.3 L641.5 1261.6 L642 1261.8 L642.5 1262.1 L643 1262.4 L643.5 1262.7 L644 1263 L644.5 1263.3 L645 1263.6 L645.5 1263.9 L646 1264.1 L646.5 1264.4 L647 1264.7 L647.5 1265 L648 1265.3 L648.5 1265.6 L649 1265.9 L649.5 1266.1 L650 1266.4 L650.5 1266.7 L651 1267 L651.5 1267.3 L652 1267.6 L652.5 1267.8 L653 1268.1 L653.5 1268.4 L654 1268.7 L654.5 1269 L655 1269.2 L655.5 1269.5 L656 1269.8 L656.5 1270.1 L657 1270.3 L657.5 1270.6 L658 1270.9 L658.5 1271.2 L659 1271.5 L659.5 1271.7 L660 1272 L660.5 1272.3 L661 1272.6 L661.5 1272.8 L662 1273.1 L662.5 1273.4 L663 1273.6 L663.5 1273.9 L664 1274.2 L664.5 1274.5 L665 1274.7 L665.5 1275 L666 1275.3 L666.5 1275.5 L667 1275.8 L667.5 1276.1 L668 1276.4 L668.5 1276.6 L669 1276.9 L669.5 1277.2 L670 1277.4 L670.5 1277.7 L671 1278 L671.5 1278.2 L672 1278.5 L672.5 1278.8 L673 1279 L673.5 1279.3 L674 1279.5 L674.5 1279.8 L675 1280.1 L675.5 1280.3 L676 1280.6 L676.5 1280.9 L677 1281.1 L677.5 1281.4 L678 1281.6 L678.5 1281.9 L679 1282.2 L679.5 1282.4 L680 1282.7 L680.5 1282.9 L681 1283.2 L681.5 1283.5 L682 1283.7 L682.5 1284 L683 1284.2 L683.5 1284.5 L684 1284.7 L684.5 1285 L685 1285.3 L685.5 1285.5 L686 1285.8 L686.5 1286 L687 1286.3 L687.5 1286.5 L688 1286.8 L688.5 1287 L689 1287.3 L689.5 1287.5 L690 1287.8 L690.5 1288 L691 1288.3 L691.5 1288.5 L692 1288.8 L692.5 1289 L693 1289.3 L693.5 1289.5 L694 1289.8 L694.5 1290 L695 1290.3 L695.5 1290.5 L696 1290.8 L696.5 1291 L697 1291.3 L697.5 1291.5 L698 1291.7 L698.5 1292 L699 1292.2 L699.5 1292.5 L700 1292.7 L700.5 1293 L701 1293.2 L701.5 1293.5 L702 1293.7 L702.5 1293.9 L703 1294.2 L703.5 1294.4 L704 1294.7 L704.5 1294.9 L705 1295.1 L705.5 1295.4 L706 1295.6 L706.5 1295.9 L707 1296.1 L707.5 1296.3 L708 1296.6 L708.5 1296.8 L709 1297 L709.5 1297.3 L710 1297.5 L710.5 1297.8 L711 1298 L711.5 1298.2 L712 1298.5 L712.5 1298.7 L713 1298.9 L713.5 1299.2 L714 1299.4 L714.5 1299.6 L715 1299.9 L715.5 1300.1 L716 1300.3 L716.5 1300.5 L717 1300.8 L717.5 1301 L718 1301.2 L718.5 1301.5 L719 1301.7 L719.5 1301.9 L720 1302.2 L720.5 1302.4 L721 1302.6 L721.5 1302.8 L722 1303.1 L722.5 1303.3 L723 1303.5 L723.5 1303.7 L724 1304 L724.5 1304.2 L725 1304.4 L725.5 1304.6 L726 1304.9 L726.5 1305.1 L727 1305.3 L727.5 1305.5 L728 1305.8 L728.5 1306 L729 1306.2 L729.5 1306.4 L730 1306.6 L730.5 1306.9 L731 1307.1 L731.5 1307.3 L732 1307.5 L732.5 1307.7 L733 1308 L733.5 1308.2 L734 1308.4 L734.5 1308.6 L735 1308.8 L735.5 1309 L736 1309.3 L736.5 1309.5 L737 1309.7 L737.5 1309.9 L738 1310.1 L738.5 1310.3 L739 1310.6 L739.5 1310.8 L740 1311 L740.5 1311.2 L741 1311.4 L741.5 1311.6 L742 1311.8 L742.5 1312 L743 1312.3 L743.5 1312.5 L744 1312.7 L744.5 1312.9 L745 1313.1 L745.5 1313.3 L746 1313.5 L746.5 1313.7 L747 1313.9 L747.5 1314.1 L748 1314.3 L748.5 1314.6 L749 1314.8 L749.5 1315 L750 1315.2 L750.5 1315.4 L751 1315.6 L751.5 1315.8 L752 1316 L752.5 1316.2 L753 1316.4 L753.5 1316.6 L754 1316.8 L754.5 1317 L755 1317.2 L755.5 1317.4 L756 1317.6 L756.5 1317.8 L757 1318 L757.5 1318.2 L758 1318.4 L758.5 1318.6 L759 1318.8 L759.5 1319 L760 1319.2 L760.5 1319.4 L761 1319.6 L761.5 1319.8 L762 1320 L762.5 1320.2 L763 1320.4 L763.5 1320.6 L764 1320.8 L764.5 1321 L765 1321.2 L765.5 1321.4 L766 1321.6 L766.5 1321.8 L767 1322 L767.5 1322.2 L768 1322.4 L768.5 1322.6 L769 1322.8 L769.5 1322.9 L770 1323.1 L770.5 1323.3 L771 1323.5 L771.5 1323.7 L772 1323.9 L772.5 1324.1 L773 1324.3 L773.5 1324.5 L774 1324.7 L774.5 1324.9 L775 1325 L775.5 1325.2 L776 1325.4 L776.5 1325.6 L777 1325.8 L777.5 1326 L778 1326.2 L778.5 1326.4 L779 1326.5 L779.5 1326.7 L780 1326.9 L780.5 1327.1 L781 1327.3 L781.5 1327.5 L782 1327.6 L782.5 1327.8 L783 1328 L783.5 1328.2 L784 1328.4 L784.5 1328.6 L785 1328.7 L785.5 1328.9 L786 1329.1 L786.5 1329.3 L787 1329.5 L787.5 1329.7 L788 1329.8 L788.5 1330 L789 1330.2 L789.5 1330.4 L790 1330.5 L790.5 1330.7 L791 1330.9 L791.5 1331.1 L792 1331.3 L792.5 1331.4 L793 1331.6 L793.5 1331.8 L794 1332 L794.5 1332.1 L795 1332.3 L795.5 1332.5 L796 1332.7 L796.5 1332.8 L797 1333 L797.5 1333.2 L798 1333.4 L798.5 1333.5 L799 1333.7 L799.5 1333.9 L800 1334 L800.5 1334.2 L801 1334.4 L801.5 1334.6 L802 1334.7 L802.5 1334.9 L803 1335.1 L803.5 1335.2 L804 1335.4 L804.5 1335.6 L805 1335.8 L805.5 1335.9 L806 1336.1 L806.5 1336.3 L807 1336.4 L807.5 1336.6 L808 1336.8 L808.5 1336.9 L809 1337.1 L809.5 1337.3 L810 1337.4 L810.5 1337.6 L811 1337.7 L811.5 1337.9 L812 1338.1 L812.5 1338.2 L813 1338.4 L813.5 1338.6 L814 1338.7 L814.5 1338.9 L815 1339.1 L815.5 1339.2 L816 1339.4 L816.5 1339.5 L817 1339.7 L817.5 1339.9 L818 1340 L818.5 1340.2 L819 1340.3 L819.5 1340.5 L820 1340.7 L820.5 1340.8 L821 1341 L821.5 1341.1 L822 1341.3 L822.5 1341.5 L823 1341.6 L823.5 1341.8 L824 1341.9 L824.5 1342.1 L825 1342.2 L825.5 1342.4 L826 1342.5 L826.5 1342.7 L827 1342.9 L827.5 1343 L828 1343.2 L828.5 1343.3 L829 1343.5 L829.5 1343.6 L830 1343.8 L830.5 1343.9 L831 1344.1 L831.5 1344.2 L832 1344.4 L832.5 1344.5 L833 1344.7 L833.5 1344.8 L834 1345 L834.5 1345.1 L835 1345.3 L835.5 1345.4 L836 1345.6 L836.5 1345.7 L837 1345.9 L837.5 1346 L838 1346.2 L838.5 1346.3 L839 1346.5 L839.5 1346.6 L840 1346.8 L840.5 1346.9 L841 1347.1 L841.5 1347.2 L842 1347.3 L842.5 1347.5 L843 1347.6 L843.5 1347.8 L844 1347.9 L844.5 1348.1 L845 1348.2 L845.5 1348.4 L846 1348.5 L846.5 1348.6 L847 1348.8 L847.5 1348.9 L848 1349.1 L848.5 1349.2 L849 1349.3 L849.5 1349.5 L850 1349.6 L850.5 1349.8 L851 1349.9 L851.5 1350 L852 1350.2 L852.5 1350.3 L853 1350.5 L853.5 1350.6 L854 1350.7 L854.5 1350.9 L855 1351 L855.5 1351.1 L856 1351.3 L856.5 1351.4 L857 1351.6 L857.5 1351.7 L858 1351.8 L858.5 1352 L859 1352.1 L859.5 1352.2 L860 1352.4 L860.5 1352.5 L861 1352.6 L861.5 1352.8 L862 1352.9 L862.5 1353 L863 1353.2 L863.5 1353.3 L864 1353.4 L864.5 1353.6 L865 1353.7 L865.5 1353.8 L866 1354 L866.5 1354.1 L867 1354.2 L867.5 1354.3 L868 1354.5 L868.5 1354.6 L869 1354.7 L869.5 1354.9 L870 1355 L870.5 1355.1 L871 1355.3 L871.5 1355.4 L872 1355.5 L872.5 1355.6 L873 1355.8 L873.5 1355.9 L874 1356 L874.5 1356.1 L875 1356.3 L875.5 1356.4 L876 1356.5 L876.5 1356.6 L877 1356.8 L877.5 1356.9 L878 1357 L878.5 1357.1 L879 1357.3 L879.5 1357.4 L880 1357.5 L880.5 1357.6 L881 1357.7 L881.5 1357.9 L882 1358 L882.5 1358.1 L883 1358.2 L883.5 1358.4 L884 1358.5 L884.5 1358.6 L885 1358.7 L885.5 1358.8 L886 1359 L886.5 1359.1 L887 1359.2 L887.5 1359.3 L888 1359.4 L888.5 1359.5 L889 1359.7 L889.5 1359.8 L890 1359.9 L890.5 1360 L891 1360.1 L891.5 1360.2 L892 1360.4 L892.5 1360.5 L893 1360.6 L893.5 1360.7 L894 1360.8 L894.5 1360.9 L895 1361.1 L895.5 1361.2 L896 1361.3 L896.5 1361.4 L897 1361.5 L897.5 1361.6 L898 1361.7 L898.5 1361.8 L899 1362 L899.5 1362.1 L900 1362.2 L900.5 1362.3 L901 1362.4 L901.5 1362.5 L902 1362.6 L902.5 1362.7 L903 1362.8 L903.5 1363 L904 1363.1 L904.5 1363.2 L905 1363.3 L905.5 1363.4 L906 1363.5 L906.5 1363.6 L907 1363.7 L907.5 1363.8 L908 1363.9 L908.5 1364 L909 1364.1 L909.5 1364.2 L910 1364.4 L910.5 1364.5 L911 1364.6 L911.5 1364.7 L912 1364.8 L912.5 1364.9 L913 1365 L913.5 1365.1 L914 1365.2 L914.5 1365.3 L915 1365.4 L915.5 1365.5 L916 1365.6 L916.5 1365.7 L917 1365.8 L917.5 1365.9 L918 1366 L918.5 1366.1 L919 1366.2 L919.5 1366.3 L920 1366.4 L920.5 1366.5 L921 1366.6 L921.5 1366.7 L922 1366.8 L922.5 1366.9 L923 1367 L923.5 1367.1 L924 1367.2 L924.5 1367.3 L925 1367.4 L925.5 1367.5 L926 1367.6 L926.5 1367.7 L927 1367.8 L927.5 1367.9 L928 1368 L928.5 1368.1 L929 1368.2 L929.5 1368.3 L930 1368.4 L930.5 1368.5 L931 1368.6 L931.5 1368.7 L932 1368.8 L932.5 1368.9 L933 1368.9 L933.5 1369 L934 1369.1 L934.5 1369.2 L935 1369.3 L935.5 1369.4 L936 1369.5 L936.5 1369.6 L937 1369.7 L937.5 1369.8 L938 1369.9 L938.5 1370 L939 1370.1 L939.5 1370.1 L940 1370.2 L940.5 1370.3 L941 1370.4 L941.5 1370.5 L942 1370.6 L942.5 1370.7 L943 1370.8 L943.5 1370.9 L944 1371 L944.5 1371 L945 1371.1 L945.5 1371.2 L946 1371.3 L946.5 1371.4 L947 1371.5 L947.5 1371.6 L948 1371.6 L948.5 1371.7 L949 1371.8 L949.5 1371.9 L950 1372 L950.5 1372.1 L951 1372.2 L951.5 1372.2 L952 1372.3 L952.5 1372.4 L953 1372.5 L953.5 1372.6 L954 1372.7 L954.5 1372.8 L955 1372.8 L955.5 1372.9 L956 1373 L956.5 1373.1 L957 1373.2 L957.5 1373.2 L958 1373.3 L958.5 1373.4 L959 1373.5 L959.5 1373.6 L960 1373.7 L960.5 1373.7 L961 1373.8 L961.5 1373.9 L962 1374 L962.5 1374 L963 1374.1 L963.5 1374.2 L964 1374.3 L964.5 1374.4 L965 1374.4 L965.5 1374.5 L966 1374.6 L966.5 1374.7 L967 1374.8 L967.5 1374.8 L968 1374.9 L968.5 1375 L969 1375.1 L969.5 1375.1 L970 1375.2 L970.5 1375.3 L971 1375.4 L971.5 1375.4 L972 1375.5 L972.5 1375.6 L973 1375.7 L973.5 1375.7 L974 1375.8 L974.5 1375.9 L975 1376 L975.5 1376 L976 1376.1 L976.5 1376.2 L977 1376.2 L977.5 1376.3 L978 1376.4 L978.5 1376.5 L979 1376.5 L979.5 1376.6 L980 1376.7 L980.5 1376.7 L981 1376.8 L981.5 1376.9 L982 1377 L982.5 1377 L983 1377.1 L983.5 1377.2 L984 1377.2 L984.5 1377.3 L985 1377.4 L985.5 1377.4 L986 1377.5 L986.5 1377.6 L987 1377.6 L987.5 1377.7 L988 1377.8 L988.5 1377.9 L989 1377.9 L989.5 1378 L990 1378.1 L990.5 1378.1 L991 1378.2 L991.5 1378.3 L992 1378.3 L992.5 1378.4 L993 1378.4 L993.5 1378.5 L994 1378.6 L994.5 1378.6 L995 1378.7 L995.5 1378.8 L996 1378.8 L996.5 1378.9 L997 1379 L997.5 1379 L998 1379.1 L998.5 1379.1 L999 1379.2 L999.5 1379.3 L1000 1379.3 L1000.5 1379.4 L1001 1379.5 L1001.5 1379.5 L1002 1379.6 L1002.5 1379.6 L1003 1379.7 L1003.5 1379.8 L1004 1379.8 L1004.5 1379.9 L1005 1379.9 L1005.5 1380 L1006 1380.1 L1006.5 1380.1 L1007 1380.2 L1007.5 1380.2 L1008 1380.3 L1008.5 1380.4 L1009 1380.4 L1009.5 1380.5 L1010 1380.5 L1010.5 1380.6 L1011 1380.6 L1011.5 1380.7 L1012 1380.8 L1012.5 1380.8 L1013 1380.9 L1013.5 1380.9 L1014 1381 L1014.5 1381 L1015 1381.1 L1015.5 1381.2 L1016 1381.2 L1016.5 1381.3 L1017 1381.3 L1017.5 1381.4 L1018 1381.4 L1018.5 1381.5 L1019 1381.5 L1019.5 1381.6 L1020 1381.6 L1020.5 1381.7 L1021 1381.8 L1021.5 1381.8 L1022 1381.9 L1022.5 1381.9 L1023 1382 L1023.5 1382 L1024 1382.1 L1024.5 1382.1 L1025 1382.2 L1025.5 1382.2 L1026 1382.3 L1026.5 1382.3 L1027 1382.4 L1027.5 1382.4 L1028 1382.5 L1028.5 1382.5 L1029 1382.6 L1029.5 1382.6 L1030 1382.7 L1030.5 1382.7 L1031 1382.8 L1031.5 1382.8 L1032 1382.9 L1032.5 1382.9 L1033 1383 L1033.5 1383 L1034 1383.1 L1034.5 1383.1 L1035 1383.2 L1035.5 1383.2 L1036 1383.3 L1036.5 1383.3 L1037 1383.3 L1037.5 1383.4 L1038 1383.4 L1038.5 1383.5 L1039 1383.5 L1039.5 1383.6 L1040 1383.6 L1040.5 1383.7 L1041 1383.7 L1041.5 1383.8 L1042 1383.8 L1042.5 1383.8 L1043 1383.9 L1043.5 1383.9 L1044 1384 L1044.5 1384 L1045 1384.1 L1045.5 1384.1 L1046 1384.2 L1046.5 1384.2 L1047 1384.2 L1047.5 1384.3 L1048 1384.3 L1048.5 1384.4 L1049 1384.4 L1049.5 1384.4 L1050 1384.5 L1050.5 1384.5 L1051 1384.6 L1051.5 1384.6 L1052 1384.7 L1052.5 1384.7 L1053 1384.7 L1053.5 1384.8 L1054 1384.8 L1054.5 1384.9 L1055 1384.9 L1055.5 1384.9 L1056 1385 L1056.5 1385 L1057 1385.1 L1057.5 1385.1 L1058 1385.1 L1058.5 1385.2 L1059 1385.2 L1059.5 1385.2 L1060 1385.3 L1060.5 1385.3 L1061 1385.4 L1061.5 1385.4 L1062 1385.4 L1062.5 1385.5 L1063 1385.5 L1063.5 1385.5 L1064 1385.6 L1064.5 1385.6 L1065 1385.6 L1065.5 1385.7 L1066 1385.7 L1066.5 1385.8 L1067 1385.8 L1067.5 1385.8 L1068 1385.9 L1068.5 1385.9 L1069 1385.9 L1069.5 1386 L1070 1386 L1070.5 1386 L1071 1386.1 L1071.5 1386.1 L1072 1386.1 L1072.5 1386.2 L1073 1386.2 L1073.5 1386.2 L1074 1386.3 L1074.5 1386.3 L1075 1386.3 L1075.5 1386.4 L1076 1386.4 L1076.5 1386.4 L1077 1386.5 L1077.5 1386.5 L1078 1386.5 L1078.5 1386.6 L1079 1386.6 L1079.5 1386.6 L1080 1386.6 L1080.5 1386.7 L1081 1386.7 L1081.5 1386.7 L1082 1386.8 L1082.5 1386.8 L1083 1386.8 L1083.5 1386.9 L1084 1386.9 L1084.5 1386.9 L1085 1386.9 L1085.5 1387 L1086 1387 L1086.5 1387 L1087 1387.1 L1087.5 1387.1 L1088 1387.1 L1088.5 1387.1 L1089 1387.2 L1089.5 1387.2 L1090 1387.2 L1090.5 1387.2 L1091 1387.3 L1091.5 1387.3 L1092 1387.3 L1092.5 1387.4 L1093 1387.4 L1093.5 1387.4 L1094 1387.4 L1094.5 1387.5 L1095 1387.5 L1095.5 1387.5 L1096 1387.5 L1096.5 1387.6 L1097 1387.6 L1097.5 1387.6 L1098 1387.6 L1098.5 1387.7 L1099 1387.7 L1099.5 1387.7 L1100 1387.7 L1100.5 1387.8 L1101 1387.8 L1101.5 1387.8 L1102 1387.8 L1102.5 1387.8 L1103 1387.9 L1103.5 1387.9 L1104 1387.9 L1104.5 1387.9 L1105 1388 L1105.5 1388 L1106 1388 L1106.5 1388 L1107 1388 L1107.5 1388.1 L1108 1388.1 L1108.5 1388.1 L1109 1388.1 L1109.5 1388.2 L1110 1388.2 L1110.5 1388.2 L1111 1388.2 L1111.5 1388.2 L1112 1388.3 L1112.5 1388.3 L1113 1388.3 L1113.5 1388.3 L1114 1388.3 L1114.5 1388.3 L1115 1388.4 L1115.5 1388.4 L1116 1388.4 L1116.5 1388.4 L1117 1388.4 L1117.5 1388.5 L1118 1388.5 L1118.5 1388.5 L1119 1388.5 L1119.5 1388.5 L1120 1388.5 L1120.5 1388.6 L1121 1388.6 L1121.5 1388.6 L1122 1388.6 L1122.5 1388.6 L1123 1388.7 L1123.5 1388.7 L1124 1388.7 L1124.5 1388.7 L1125 1388.7 L1125.5 1388.7 L1126 1388.7 L1126.5 1388.8 L1127 1388.8 L1127.5 1388.8 L1128 1388.8 L1128.5 1388.8 L1129 1388.8 L1129.5 1388.9 L1130 1388.9 L1130.5 1388.9 L1131 1388.9 L1131.5 1388.9 L1132 1388.9 L1132.5 1388.9 L1133 1389 L1133.5 1389 L1134 1389 L1134.5 1389 L1135 1389 L1135.5 1389 L1136 1389" fill="none" stroke="#000000" stroke-width="6" stroke-linejoin="round" stroke-linecap="butt"/>
</g>
<line x1="499" y1="185" x2="504.3" y2="1310" stroke="#000" stroke-width="1.6"/>
<polygon points="498.6,154 489.5,190 508,190" fill="#000"/>
<g shape-rendering="crispEdges">
<rect x="236" y="62" width="900" height="3" fill="#5f5f5f"/>
<rect x="235" y="62" width="3" height="1347" fill="#000"/>
<rect x="1133" y="62" width="3" height="1347" fill="#000"/>
<rect x="211" y="1406" width="925" height="3" fill="#000"/>
</g>
<text x="191.5" y="1420" font-family="'Liberation Sans', Arial, sans-serif" font-size="52" font-weight="normal" text-anchor="end">0</text>
<text x="191.5" y="992" font-family="'Liberation Sans', Arial, sans-serif" font-size="52" font-weight="normal" text-anchor="end">4</text>
<text x="191.5" y="560" font-family="'Liberation Sans', Arial, sans-serif" font-size="52" font-weight="normal" text-anchor="end">8</text>
<text x="191.5" y="130" font-family="'Liberation Sans', Arial, sans-serif" font-size="52" font-weight="normal" text-anchor="end">12</text>
<text x="306" y="1491" font-family="'Liberation Sans', Arial, sans-serif" font-size="52" font-weight="normal" text-anchor="middle">500</text>
<text x="650.6" y="1491" font-family="'Liberation Sans', Arial, sans-serif" font-size="52" font-weight="normal" text-anchor="middle">550</text>
<text x="996" y="1491" font-family="'Liberation Sans', Arial, sans-serif" font-size="52" font-weight="normal" text-anchor="middle">600</text>
<text x="685" y="1569.6" font-family="'Liberation Sans', Arial, sans-serif" font-size="64" font-weight="normal" text-anchor="middle">Wavelength (nm)</text>
<text transform="translate(637,1654.7) scale(1.074,1)" font-family="'Liberation Serif', 'Times New Roman', serif" font-size="58" font-weight="bold" text-anchor="middle">(a)</text>
<text transform="translate(90.8,776) rotate(-90)" font-family="'Liberation Sans', Arial, sans-serif" font-size="64" text-anchor="middle">Fluorescence efficiency</text>
<text x="244.6" y="118.9" font-family="'Liberation Sans', Arial, sans-serif" font-size="64" font-weight="normal" text-anchor="start">high</text>
<text x="246" y="196.6" font-family="'Liberation Sans', Arial, sans-serif" font-size="64" font-weight="normal" text-anchor="start">viscosity</text>
<text x="353" y="1351.5" font-family="'Liberation Sans', Arial, sans-serif" font-size="64" font-weight="normal" text-anchor="start">low viscosity</text>
<text x="620.8" y="131.7" font-family="'Liberation Sans', Arial, sans-serif" font-size="64" font-weight="normal" text-anchor="start">% ethylene glycol</text>
<rect x="620" y="139" width="499" height="4.5" fill="#000"/>
<line x1="759" y1="188.5" x2="906.6" y2="188.5" stroke="#ff0000" stroke-width="6.5"/>
<text x="920" y="211.4" font-family="'Liberation Sans', Arial, sans-serif" font-size="64" font-weight="normal" text-anchor="start">100</text>
<line x1="759" y1="268.3" x2="906.6" y2="268.3" stroke="#0000ff" stroke-width="6.5"/>
<text x="920" y="289.5" font-family="'Liberation Sans', Arial, sans-serif" font-size="64" font-weight="normal" text-anchor="start">80</text>
<line x1="759" y1="346.5" x2="906.6" y2="346.5" stroke="#008000" stroke-width="6.5"/>
<text x="920" y="367" font-family="'Liberation Sans', Arial, sans-serif" font-size="64" font-weight="normal" text-anchor="start">60</text>
<line x1="759" y1="424.5" x2="906.6" y2="424.5" stroke="#9000ff" stroke-width="5"/>
<text x="920" y="445.8" font-family="'Liberation Sans', Arial, sans-serif" font-size="64" font-weight="normal" text-anchor="start">40</text>
<line x1="759" y1="502.8" x2="906.6" y2="502.8" stroke="#ff00ff" stroke-width="6.5"/>
<text x="920" y="524" font-family="'Liberation Sans', Arial, sans-serif" font-size="64" font-weight="normal" text-anchor="start">20</text>
<line x1="759" y1="581.2" x2="906.6" y2="581.2" stroke="#000000" stroke-width="6.5"/>
<text x="920" y="602" font-family="'Liberation Sans', Arial, sans-serif" font-size="64" font-weight="normal" text-anchor="start">0</text>
<g shape-rendering="crispEdges">
<rect x="1441" y="75" width="26" height="2" fill="#cfcfcf"/>
<rect x="1441" y="341.3" width="26" height="2" fill="#9a9a9a"/>
<rect x="1455" y="474.5" width="12" height="2" fill="#222"/>
<rect x="1441" y="607.6" width="26" height="2" fill="#000"/>
<rect x="1455" y="740.8" width="12" height="2" fill="#222"/>
<rect x="1441" y="1140.2" width="26" height="2" fill="#000"/>
<rect x="1455" y="1273.3" width="12" height="2" fill="#333"/>
<rect x="1615.6" y="1409" width="2" height="12" fill="#555"/>
<rect x="1765.2" y="1409" width="2" height="24" fill="#111"/>
<rect x="1914.8" y="1409" width="2" height="12" fill="#555"/>
</g>
<g clip-path="url(#cb)">
<path d="M1480 1407.7 L1481.6 1407.4 L1483.2 1407.5 L1484.8 1407.6 L1486.4 1407.4 L1488 1407.5 L1489.6 1407.5 L1491.2 1406.9 L1492.8 1406.8 L1494.4 1406.2 L1496 1405.3 L1497.6 1404.7 L1499.2 1404.1 L1500.8 1403.2 L1502.4 1402.3 L1504 1401.1 L1505.6 1400.6 L1507.2 1399.3 L1508.8 1398.1 L1510.4 1396.2 L1512 1395.4 L1513.6 1392.8 L1515.2 1390 L1516.8 1388.1 L1518.4 1384.2 L1520 1380.1 L1521.6 1376.1 L1523.2 1369.4 L1524.8 1361.4 L1526.4 1345.4 L1528 1326 L1529.6 1306.2 L1531.2 1281.2 L1532.8 1256.1 L1534.4 1222.5 L1536 1189 L1537.6 1145.7 L1539.2 1098.1 L1540.8 1045 L1542.4 990.8 L1544 948.6 L1545.6 907.9 L1547.2 869.7 L1548.8 822.6 L1550.4 767.3 L1552 707.6 L1553.6 650.7 L1555.2 595.5 L1556.8 532.3 L1558.4 470.7 L1560 418.7 L1561.6 364.7 L1563.2 316.8 L1564.8 275.4 L1566.4 231.7 L1568 196.1 L1569.6 152.7 L1571.2 151.7 L1572.8 122 L1574.4 121.9 L1576 87.5 L1577.6 76 L1579 76 L1581.5 126 L1584 122.4 L1586.5 136.8 L1589 151.7 L1591.5 170.7 L1594 196.2 L1596.5 200.5 L1599 249.5 L1601.5 243 L1604 264.8 L1606.5 299.7 L1609 321.1 L1611.5 323.8 L1614 357.1 L1616.5 392.2 L1619 413.3 L1621.5 425.8 L1624 478.8 L1626.5 500.4 L1629 511.6 L1631.5 515.8 L1634 545 L1636.5 563 L1639 587.6 L1641.5 623.4 L1644 643 L1646.5 650.5 L1649 665.6 L1651.5 684 L1654 695.1 L1656.5 712.3 L1659 723.8 L1661.5 746.4 L1664 784 L1666.5 786.4 L1669 790.3 L1671.5 803.7 L1674 814.2 L1676.5 838.8 L1679 852 L1681.5 849.1 L1684 878 L1686.5 881.3 L1689 909.8 L1691.5 911 L1694 935 L1696.5 928.7 L1699 941.1 L1701.5 956.6 L1704 973 L1706.5 979.6 L1709 976.2 L1711.5 996.9 L1714 1005.5 L1716.5 1011.8 L1719 1019.7 L1721.5 1046 L1724 1039.9 L1726.5 1045.7 L1729 1064.6 L1731.5 1069.6 L1734 1076.6 L1736.5 1090.4 L1739 1096.4 L1741.5 1103.4 L1744 1114.8 L1746.5 1117.9 L1749 1119.6 L1751.5 1128.4 L1754 1134.4 L1756.5 1145.7 L1759 1144.8 L1761.5 1147 L1764 1164.5 L1766.5 1162.6 L1769 1165.4 L1771.5 1184.3 L1774 1184.1 L1776.5 1196.3 L1779 1196.4 L1781.5 1198.7 L1784 1203.4 L1786.5 1212.3 L1789 1218.5 L1791.5 1220.7 L1794 1228.1 L1796.5 1226.7 L1799 1238.7 L1801.5 1234.5 L1804 1246.4 L1806.5 1254.7 L1809 1260.5 L1811.5 1267.2 L1814 1256.4 L1816.5 1270.3 L1819 1275.9 L1821.5 1278.4 L1824 1273.7 L1826.5 1282.7 L1829 1291.9 L1831.5 1281.3 L1834 1292.3 L1836.5 1297.8 L1839 1293.6 L1841.5 1301.4 L1844 1297.8 L1846.5 1301.5 L1849 1304.1 L1851.5 1310.4 L1854 1311.8 L1856.5 1318 L1859 1313.5 L1861.5 1318.6 L1864 1324.6 L1866.5 1325.3 L1869 1321 L1871.5 1329.7 L1874 1327.8 L1876.5 1332.5 L1879 1334 L1881.5 1338.7 L1884 1336.9 L1886.5 1332.4 L1889 1335.5 L1891.5 1343.5 L1894 1342 L1896.5 1347.7 L1899 1346.5 L1901.5 1344.8 L1904 1351.5 L1906.5 1347.3 L1909 1345 L1911.5 1357.9 L1914 1347.9 L1916.5 1356.1 L1919 1358 L1921.5 1356.9 L1924 1353 L1926.5 1361.2 L1929 1355.7 L1931.5 1356.9 L1934 1360.4 L1936.5 1364.2 L1939 1363.9 L1941.5 1366 L1944 1363.7 L1946.5 1365.2 L1949 1363.6 L1951.5 1366.4 L1954 1369.4 L1956.5 1368 L1959 1370.5 L1961.5 1368.8 L1964 1369.5 L1966.5 1371.6 L1969 1371.8 L1971.5 1374.2 L1974 1373.9 L1976.5 1378 L1979 1374.3 L1981.5 1374.9 L1984 1373.7 L1986.5 1376.6 L1989 1378.6 L1991.5 1376.1 L1994 1378.1 L1996.5 1380.3 L1999 1379 L2001.5 1378.7 L2004 1382.3 L2006.5 1381 L2009 1382.1 L2011.5 1384.1 L2014 1384.4 L2016.5 1381.9 L2019 1382 L2021.5 1384 L2024 1383.6 L2026.5 1380.6 L2029 1387 L2031.5 1385 L2034 1386.7 L2036.5 1383.6 L2039 1388.4 L2041.5 1385.3 L2044 1386.5 L2046.5 1384.5 L2049 1387 L2051.5 1387.2 L2054 1387.6 L2056.5 1389 L2059 1388.5 L2061.5 1390.4 L2064 1388.1 L2066.5 1387.5 L2069 1389.4 L2071.5 1390.7 L2074 1392 L2076.5 1391.4 L2079 1387.3 L2081.5 1391.1 L2084 1393.1 L2086.5 1390.9 L2089 1390.1 L2091.5 1391.6 L2094 1390.4 L2096.5 1392.5 L2099 1391.5 L2101.5 1393.9 L2104 1392.6 L2106.5 1390.7 L2109 1393 L2111.5 1393.6 L2114 1391.3 L2116.5 1391.6 L2119 1388.7 L2121.5 1393.9 L2124 1391.6 L2126.5 1389.3 L2129 1389.9 L2131.5 1392.4 L2134 1394 L2136.5 1392.7 L2139 1393.6 L2141.5 1391.2 L2144 1390.9 L2146.5 1394.4 L2149 1393.8 L2151.5 1393 L2154 1395.1 L2156.5 1391.6 L2159 1392.4 L2161.5 1394.7 L2164 1396 L2166.5 1393.1 L2169 1395.7 L2171.5 1392.2 L2174 1393.6 L2176.5 1392.8 L2179 1390.6 L2181.5 1393.4 L2184 1394.5 L2186.5 1392.8 L2189 1392.9 L2191.5 1395.1 L2194 1391 L2196.5 1390.5 L2199 1391.8 L2201.5 1390.9 L2204 1394.9 L2206.5 1393.3 L2209 1391.4 L2211.5 1391.7 L2214 1397.2 L2216.5 1391.7 L2219 1391.4 L2221.5 1393 L2224 1393.5 L2226.5 1392.8 L2229 1391 L2231.5 1390.5 L2234 1393.3 L2236.5 1392.2 L2239 1389.7 L2241.5 1394.1 L2244 1393.5 L2246.5 1391.8 L2249 1391.7 L2251.5 1392.5 L2254 1391 L2256.5 1389.9 L2259 1392.5 L2261.5 1389.7 L2264 1392.6 L2266.5 1389.6 L2269 1391.8 L2271.5 1391.7 L2274 1394.8 L2276.5 1390.2 L2279 1389.6 L2281.5 1390.8 L2284 1390.1 L2286.5 1390.9 L2289 1392.6 L2291.5 1393.1 L2294 1394.6 L2296.5 1390.7 L2299 1396.2 L2301.5 1395.2 L2304 1391.7 L2306.5 1388.3 L2309 1391.9 L2311.5 1392.2 L2314 1388.4 L2316.5 1392.3 L2319 1391.9 L2321.5 1391 L2324 1393.4 L2326.5 1394 L2329 1391.7 L2331.5 1393 L2334 1391.6 L2336.5 1391.5 L2339 1393 L2341.5 1393.8 L2344 1392.2 L2346.5 1389.8 L2349 1394.2 L2351.5 1391 L2354 1393.8 L2356.5 1396.5 L2359 1393.9 L2361.5 1392.2 L2364 1392" fill="none" stroke="#000000" stroke-width="2.6" stroke-linejoin="round" stroke-linecap="butt"/>
<path d="M1481 1407.7 L1482.6 1407.5 L1484.2 1407.6 L1485.8 1407.6 L1487.4 1407.5 L1489 1407.5 L1490.6 1407.4 L1492.2 1407 L1493.8 1406.8 L1495.4 1406.4 L1497 1405.8 L1498.6 1405.3 L1500.2 1404.5 L1501.8 1403.8 L1503.4 1403.1 L1505 1401.9 L1506.6 1401 L1508.2 1399.7 L1509.8 1399.1 L1511.4 1397.6 L1513 1396.2 L1514.6 1394.6 L1516.2 1392.2 L1517.8 1389.2 L1519.4 1386.6 L1521 1382.5 L1522.6 1379.5 L1524.2 1374.6 L1525.8 1367.1 L1527.4 1356.9 L1529 1339 L1530.6 1319.9 L1532.2 1297.6 L1533.8 1274.6 L1535.4 1246.6 L1537 1212.1 L1538.6 1174.6 L1540.2 1130.1 L1541.8 1078.9 L1543.4 1023.8 L1545 974.4 L1546.6 934.4 L1548.2 890.3 L1549.8 853.1 L1551.4 804 L1553 751.1 L1554.6 688.6 L1556.2 626.9 L1557.8 570 L1559.4 507.8 L1561 451.5 L1562.6 387.6 L1564.2 341.1 L1565.8 291.6 L1567.4 269.7 L1569 219.8 L1570.6 196.5 L1572.2 168 L1573.8 126.7 L1575.4 124.3 L1577 105.7 L1578.6 92.5 L1582 76 L1584.5 84.3 L1587 115.8 L1589.5 150.6 L1592 128.8 L1594.5 164.8 L1597 172.1 L1599.5 206 L1602 221 L1604.5 248.1 L1607 219.3 L1609.5 265.3 L1612 278.6 L1614.5 306.6 L1617 315.5 L1619.5 332.5 L1622 364.6 L1624.5 396.3 L1627 359.5 L1629.5 408.3 L1632 435.8 L1634.5 453.2 L1637 470.6 L1639.5 481 L1642 506.6 L1644.5 544.6 L1647 566.4 L1649.5 571.7 L1652 574.8 L1654.5 593.9 L1657 595.9 L1659.5 608.5 L1662 611.3 L1664.5 617.9 L1667 648.9 L1669.5 662.6 L1672 709.5 L1674.5 735.4 L1677 728.3 L1679.5 753.4 L1682 746.5 L1684.5 770.4 L1687 773.8 L1689.5 770.6 L1692 792.3 L1694.5 792.5 L1697 805.6 L1699.5 822 L1702 841.3 L1704.5 854.2 L1707 871.3 L1709.5 876.8 L1712 899.7 L1714.5 912.8 L1717 911.2 L1719.5 914.4 L1722 942.1 L1724.5 955.6 L1727 955.4 L1729.5 956.7 L1732 978.4 L1734.5 997.3 L1737 981.2 L1739.5 1007.9 L1742 1011.1 L1744.5 1016.1 L1747 1034.4 L1749.5 1030.2 L1752 1049.8 L1754.5 1064.9 L1757 1065.1 L1759.5 1065.8 L1762 1067.6 L1764.5 1078.5 L1767 1082.3 L1769.5 1111.8 L1772 1107 L1774.5 1108.9 L1777 1114.2 L1779.5 1122.3 L1782 1133.3 L1784.5 1134 L1787 1157.9 L1789.5 1149.6 L1792 1155.4 L1794.5 1167.5 L1797 1179.6 L1799.5 1184.4 L1802 1179.7 L1804.5 1189.1 L1807 1193.7 L1809.5 1200.8 L1812 1204.2 L1814.5 1202.8 L1817 1205.9 L1819.5 1217.9 L1822 1215.6 L1824.5 1232.7 L1827 1230.4 L1829.5 1229.4 L1832 1236.9 L1834.5 1240 L1837 1245.7 L1839.5 1254.5 L1842 1247.2 L1844.5 1249 L1847 1262.5 L1849.5 1263.6 L1852 1268.4 L1854.5 1272.9 L1857 1273.4 L1859.5 1280.7 L1862 1276.6 L1864.5 1283.6 L1867 1282.8 L1869.5 1284.4 L1872 1294.2 L1874.5 1296.7 L1877 1289.5 L1879.5 1295.3 L1882 1303.2 L1884.5 1308.6 L1887 1304.5 L1889.5 1308.6 L1892 1306.4 L1894.5 1322.8 L1897 1317.6 L1899.5 1321.2 L1902 1322.4 L1904.5 1325.3 L1907 1326.1 L1909.5 1324.8 L1912 1330.3 L1914.5 1329.9 L1917 1335.6 L1919.5 1330.7 L1922 1333 L1924.5 1338.5 L1927 1342 L1929.5 1340 L1932 1338.8 L1934.5 1342.1 L1937 1342.4 L1939.5 1350.9 L1942 1349.3 L1944.5 1351.6 L1947 1350.1 L1949.5 1348.9 L1952 1355 L1954.5 1357.4 L1957 1355.6 L1959.5 1355 L1962 1359.1 L1964.5 1356.2 L1967 1360.3 L1969.5 1357.3 L1972 1357.7 L1974.5 1362.6 L1977 1362.9 L1979.5 1367.8 L1982 1363.1 L1984.5 1364.7 L1987 1362.7 L1989.5 1361.8 L1992 1362.8 L1994.5 1369 L1997 1365.9 L1999.5 1372.1 L2002 1373.5 L2004.5 1370.2 L2007 1375.4 L2009.5 1372.8 L2012 1375.5 L2014.5 1373.1 L2017 1376.4 L2019.5 1372.8 L2022 1376.9 L2024.5 1375.1 L2027 1376.4 L2029.5 1378.6 L2032 1378.2 L2034.5 1378.3 L2037 1380.5 L2039.5 1381.1 L2042 1377.2 L2044.5 1381.7 L2047 1382.4 L2049.5 1380 L2052 1382.7 L2054.5 1379.8 L2057 1385.7 L2059.5 1382.9 L2062 1383.6 L2064.5 1386.4 L2067 1384.3 L2069.5 1386.1 L2072 1383.4 L2074.5 1384.7 L2077 1383.5 L2079.5 1386.1 L2082 1388.7 L2084.5 1387.5 L2087 1389 L2089.5 1386 L2092 1386.5 L2094.5 1387.6 L2097 1389.7 L2099.5 1389.6 L2102 1389.2 L2104.5 1390.6 L2107 1389.5 L2109.5 1390 L2112 1392.4 L2114.5 1389.5 L2117 1391 L2119.5 1393.6 L2122 1391.3 L2124.5 1392.5 L2127 1390.5 L2129.5 1394.9 L2132 1388.3 L2134.5 1390.3 L2137 1390.6 L2139.5 1395 L2142 1393.1 L2144.5 1392.3 L2147 1390.8 L2149.5 1393.6 L2152 1393.3 L2154.5 1392.2 L2157 1391.1 L2159.5 1391.8 L2162 1393.9 L2164.5 1394.2 L2167 1393.9 L2169.5 1393.7 L2172 1391.3 L2174.5 1394.2 L2177 1392.6 L2179.5 1394.3 L2182 1395.1 L2184.5 1393.4 L2187 1393 L2189.5 1396.1 L2192 1395.2 L2194.5 1393.7 L2197 1390.3 L2199.5 1394.7 L2202 1395.8 L2204.5 1396.6 L2207 1394 L2209.5 1394.1 L2212 1394.4 L2214.5 1396.3 L2217 1393.4 L2219.5 1395 L2222 1393.8 L2224.5 1395.6 L2227 1393 L2229.5 1395.9 L2232 1394.6 L2234.5 1395 L2237 1396.2 L2239.5 1397.1 L2242 1393 L2244.5 1397 L2247 1396.3 L2249.5 1395.1 L2252 1397.6 L2254.5 1395.9 L2257 1397.5 L2259.5 1394.8 L2262 1394.5 L2264.5 1397.5 L2267 1398.9 L2269.5 1396.8 L2272 1397.2 L2274.5 1395.2 L2277 1394.1 L2279.5 1395.7 L2282 1398.2 L2284.5 1393.4 L2287 1395.5 L2289.5 1393.5 L2292 1396.4 L2294.5 1397.6 L2297 1394.6 L2299.5 1395.9 L2302 1398.4 L2304.5 1396.5 L2307 1394.9 L2309.5 1394.9 L2312 1394 L2314.5 1398 L2317 1396 L2319.5 1398.6 L2322 1398.4 L2324.5 1396.4 L2327 1396.7 L2329.5 1398.6 L2332 1397.9 L2334.5 1398.2 L2337 1395.7 L2339.5 1399.3 L2342 1397.1 L2344.5 1395.4 L2347 1397.7 L2349.5 1399.3 L2352 1401.6 L2354.5 1398.6 L2357 1397.5 L2359.5 1402.1 L2362 1399.8 L2364.5 1399.5" fill="none" stroke="#ff00ff" stroke-width="2.6" stroke-linejoin="round" stroke-linecap="butt"/>
<path d="M1481.4 1407.3 L1483 1407.4 L1484.6 1407.7 L1486.2 1407.5 L1487.8 1407.4 L1489.4 1407.4 L1491 1407.7 L1492.6 1407.4 L1494.2 1407.2 L1495.8 1406.6 L1497.4 1406 L1499 1405.2 L1500.6 1404.8 L1502.2 1404.2 L1503.8 1403.1 L1505.4 1402.1 L1507 1401 L1508.6 1400.3 L1510.2 1399.1 L1511.8 1397.8 L1513.4 1396.4 L1515 1394.2 L1516.6 1392.7 L1518.2 1389.9 L1519.8 1386.9 L1521.4 1383.9 L1523 1380.6 L1524.6 1375.7 L1526.2 1369.2 L1527.8 1359.8 L1529.4 1343.1 L1531 1323.5 L1532.6 1301.5 L1534.2 1279.4 L1535.8 1251 L1537.4 1219.8 L1539 1185.5 L1540.6 1141.1 L1542.2 1090.9 L1543.8 1036.3 L1545.4 984.8 L1547 941.7 L1548.6 902.5 L1550.2 864.6 L1551.8 817.7 L1553.4 762.5 L1555 705.1 L1556.6 642.5 L1558.2 582.6 L1559.8 520.9 L1561.4 469.4 L1563 410.2 L1564.6 356.5 L1566.2 304.7 L1567.8 256.9 L1569.4 226 L1571 199.2 L1572.6 166.1 L1574.2 140.4 L1575.8 114.7 L1577.4 108.8 L1579 93.9 L1583 76 L1585.5 97.2 L1588 109.5 L1590.5 122.2 L1593 122.7 L1595.5 135.2 L1598 136.5 L1600.5 175.3 L1603 152.6 L1605.5 189.7 L1608 205.4 L1610.5 235.6 L1613 240.2 L1615.5 243.8 L1618 253.9 L1620.5 278.4 L1623 304.4 L1625.5 319.7 L1628 332.5 L1630.5 342.6 L1633 364 L1635.5 393.9 L1638 384.9 L1640.5 413.3 L1643 446.3 L1645.5 448.6 L1648 451.2 L1650.5 477.2 L1653 474.3 L1655.5 495.2 L1658 524.4 L1660.5 540.2 L1663 513.5 L1665.5 552.3 L1668 578.9 L1670.5 566.5 L1673 589.3 L1675.5 615.8 L1678 607.4 L1680.5 628.7 L1683 634.4 L1685.5 626.2 L1688 659.7 L1690.5 665.1 L1693 687.3 L1695.5 710.5 L1698 709.1 L1700.5 711.8 L1703 732.8 L1705.5 743.5 L1708 764.3 L1710.5 754.2 L1713 769.4 L1715.5 773.7 L1718 809.3 L1720.5 814.7 L1723 819.3 L1725.5 828 L1728 838.1 L1730.5 843.6 L1733 857.4 L1735.5 864.7 L1738 889.3 L1740.5 889.1 L1743 888.4 L1745.5 899.2 L1748 922.6 L1750.5 925.4 L1753 932.9 L1755.5 945.1 L1758 960.6 L1760.5 947.4 L1763 959.8 L1765.5 960.8 L1768 986.4 L1770.5 988.3 L1773 994.5 L1775.5 1002.2 L1778 1020.9 L1780.5 1022.9 L1783 1028.1 L1785.5 1048.5 L1788 1039.9 L1790.5 1046 L1793 1079.7 L1795.5 1066.6 L1798 1072.5 L1800.5 1078.1 L1803 1088.8 L1805.5 1101.3 L1808 1107.4 L1810.5 1112.3 L1813 1113.3 L1815.5 1111.7 L1818 1128.6 L1820.5 1141.9 L1823 1144.7 L1825.5 1142.7 L1828 1153.8 L1830.5 1152 L1833 1159.1 L1835.5 1157.3 L1838 1167.5 L1840.5 1174.9 L1843 1177.9 L1845.5 1187.6 L1848 1198.1 L1850.5 1199.4 L1853 1194.9 L1855.5 1196.8 L1858 1201.4 L1860.5 1203.7 L1863 1212.9 L1865.5 1218.7 L1868 1221.2 L1870.5 1224.9 L1873 1228.4 L1875.5 1230.5 L1878 1230.9 L1880.5 1246.2 L1883 1246.2 L1885.5 1240.2 L1888 1243.5 L1890.5 1248.1 L1893 1254 L1895.5 1262.6 L1898 1264.4 L1900.5 1267.6 L1903 1270.5 L1905.5 1273.3 L1908 1274.5 L1910.5 1276 L1913 1276.2 L1915.5 1272 L1918 1281.4 L1920.5 1291.9 L1923 1284.8 L1925.5 1287 L1928 1296 L1930.5 1294.6 L1933 1294.8 L1935.5 1305 L1938 1303.6 L1940.5 1306.3 L1943 1303.5 L1945.5 1309.6 L1948 1311.2 L1950.5 1314.7 L1953 1318.1 L1955.5 1319.9 L1958 1318.5 L1960.5 1322.2 L1963 1317.7 L1965.5 1325.7 L1968 1327.6 L1970.5 1325.7 L1973 1326.2 L1975.5 1330.3 L1978 1328.2 L1980.5 1334.8 L1983 1336.3 L1985.5 1333.9 L1988 1338.6 L1990.5 1343.2 L1993 1344.6 L1995.5 1345.8 L1998 1343.7 L2000.5 1344.5 L2003 1345.7 L2005.5 1349.9 L2008 1356.2 L2010.5 1354.7 L2013 1356.4 L2015.5 1356.9 L2018 1349.8 L2020.5 1354.8 L2023 1355.3 L2025.5 1360.9 L2028 1363.1 L2030.5 1357.9 L2033 1360.7 L2035.5 1363.1 L2038 1361.3 L2040.5 1361.9 L2043 1362.7 L2045.5 1367.5 L2048 1363.9 L2050.5 1369.7 L2053 1368 L2055.5 1370.3 L2058 1373 L2060.5 1368.5 L2063 1368.9 L2065.5 1372.5 L2068 1369.8 L2070.5 1371.2 L2073 1373.2 L2075.5 1374.4 L2078 1371.9 L2080.5 1374.4 L2083 1377.1 L2085.5 1379.3 L2088 1372.7 L2090.5 1380.2 L2093 1379.8 L2095.5 1376.2 L2098 1375.9 L2100.5 1380.2 L2103 1379 L2105.5 1380.5 L2108 1382.4 L2110.5 1380.3 L2113 1381.8 L2115.5 1382.8 L2118 1384 L2120.5 1386 L2123 1386.2 L2125.5 1383.7 L2128 1383.1 L2130.5 1388.4 L2133 1385.4 L2135.5 1385.3 L2138 1382.7 L2140.5 1386.5 L2143 1383.9 L2145.5 1384.8 L2148 1383.4 L2150.5 1385.2 L2153 1386.5 L2155.5 1383.9 L2158 1385.2 L2160.5 1386.9 L2163 1385 L2165.5 1385.3 L2168 1386.2 L2170.5 1385.4 L2173 1389.2 L2175.5 1386.6 L2178 1389.9 L2180.5 1390.4 L2183 1386.9 L2185.5 1389.2 L2188 1388.5 L2190.5 1387.6 L2193 1389.2 L2195.5 1389.6 L2198 1391.4 L2200.5 1392.1 L2203 1388.7 L2205.5 1390.1 L2208 1391.8 L2210.5 1393.1 L2213 1387.4 L2215.5 1393.6 L2218 1391.5 L2220.5 1394.4 L2223 1391.4 L2225.5 1391 L2228 1392.6 L2230.5 1394.5 L2233 1392.9 L2235.5 1389.3 L2238 1394.3 L2240.5 1390.9 L2243 1392 L2245.5 1391.9 L2248 1391.1 L2250.5 1392.1 L2253 1392.7 L2255.5 1393.4 L2258 1394.4 L2260.5 1394.2 L2263 1392.6 L2265.5 1394.7 L2268 1396.5 L2270.5 1396.6 L2273 1395.6 L2275.5 1396.4 L2278 1396.9 L2280.5 1397.7 L2283 1398.3 L2285.5 1395.5 L2288 1395.7 L2290.5 1398.3 L2293 1398.5 L2295.5 1398.5 L2298 1393.1 L2300.5 1396.2 L2303 1392 L2305.5 1397.7 L2308 1396.8 L2310.5 1396.8 L2313 1396.6 L2315.5 1398.7 L2318 1396.5 L2320.5 1398.4 L2323 1397.7 L2325.5 1397.5 L2328 1397.6 L2330.5 1397.1 L2333 1395.4 L2335.5 1398 L2338 1397.9 L2340.5 1396.7 L2343 1397.9 L2345.5 1398.1 L2348 1395 L2350.5 1396.5 L2353 1396.1 L2355.5 1395.3 L2358 1397 L2360.5 1395.2 L2363 1395.7 L2365.5 1396.6" fill="none" stroke="#9000ff" stroke-width="2.6" stroke-linejoin="round" stroke-linecap="butt"/>
<path d="M1482.1 1407.6 L1483.7 1407.5 L1485.3 1407.8 L1486.9 1407.4 L1488.5 1407.5 L1490.1 1407.3 L1491.7 1407.6 L1493.3 1407.7 L1494.9 1407.5 L1496.5 1406.7 L1498.1 1406.2 L1499.7 1405.9 L1501.3 1404.9 L1502.9 1404.4 L1504.5 1403.3 L1506.1 1402.9 L1507.7 1402 L1509.3 1400.9 L1510.9 1399.5 L1512.5 1398.4 L1514.1 1397.1 L1515.7 1395.5 L1517.3 1393.4 L1518.9 1390.9 L1520.5 1388.3 L1522.1 1385.7 L1523.7 1381.1 L1525.3 1377.2 L1526.9 1371.8 L1528.5 1364.2 L1530.1 1349.9 L1531.7 1333.1 L1533.3 1312.2 L1534.9 1289.9 L1536.5 1263.9 L1538.1 1234.8 L1539.7 1201.2 L1541.3 1162 L1542.9 1111.8 L1544.5 1060.2 L1546.1 1004.6 L1547.7 962.2 L1549.3 915.2 L1550.9 880.4 L1552.5 836.7 L1554.1 789.4 L1555.7 727.2 L1557.3 672.6 L1558.9 605.7 L1560.5 572.1 L1562.1 495.4 L1563.7 432.2 L1565.3 382.7 L1566.9 356.1 L1568.5 296.4 L1570.1 217.1 L1571.7 224.8 L1573.3 182.9 L1574.9 132 L1576.5 139.6 L1578.1 95.1 L1579.7 98.8 L1585 79.1 L1587.5 76 L1590 101 L1592.5 88 L1595 113.2 L1597.5 112.7 L1600 126.8 L1602.5 163.6 L1605 149.5 L1607.5 143.6 L1610 165.8 L1612.5 167.1 L1615 187.1 L1617.5 198.7 L1620 207.6 L1622.5 217.5 L1625 219.7 L1627.5 242.2 L1630 259.8 L1632.5 249.1 L1635 266.3 L1637.5 278 L1640 302.8 L1642.5 310.9 L1645 299.2 L1647.5 319.2 L1650 310.8 L1652.5 327.5 L1655 349.6 L1657.5 367.3 L1660 381.4 L1662.5 376.9 L1665 375.2 L1667.5 405.9 L1670 409.7 L1672.5 426.9 L1675 434.2 L1677.5 450.8 L1680 460.3 L1682.5 472.7 L1685 468.3 L1687.5 494.7 L1690 488.3 L1692.5 504.9 L1695 534.5 L1697.5 528.1 L1700 521.7 L1702.5 560.4 L1705 565.1 L1707.5 576.5 L1710 576.4 L1712.5 587.8 L1715 591.7 L1717.5 596.7 L1720 629.5 L1722.5 619.7 L1725 628.3 L1727.5 638.4 L1730 671.2 L1732.5 670.8 L1735 667.9 L1737.5 680.6 L1740 695.5 L1742.5 708.5 L1745 693.7 L1747.5 727.2 L1750 725.7 L1752.5 730.5 L1755 742.4 L1757.5 762.6 L1760 780.5 L1762.5 774.5 L1765 787.1 L1767.5 783.3 L1770 803.9 L1772.5 815.5 L1775 803.4 L1777.5 820.6 L1780 840.5 L1782.5 826.5 L1785 846.8 L1787.5 863.3 L1790 851.8 L1792.5 870.7 L1795 882.4 L1797.5 897 L1800 886.6 L1802.5 913.8 L1805 914.6 L1807.5 929 L1810 935.8 L1812.5 936.2 L1815 944.3 L1817.5 933.6 L1820 943.4 L1822.5 952.8 L1825 964.4 L1827.5 980.6 L1830 966.3 L1832.5 983.6 L1835 982.3 L1837.5 986.7 L1840 1015 L1842.5 1010.7 L1845 1027.6 L1847.5 1030 L1850 1020.4 L1852.5 1019.4 L1855 1052.6 L1857.5 1040.5 L1860 1040.6 L1862.5 1058.5 L1865 1059.8 L1867.5 1059.3 L1870 1066.5 L1872.5 1074.8 L1875 1079.1 L1877.5 1088.4 L1880 1085.7 L1882.5 1090.4 L1885 1101.1 L1887.5 1103.8 L1890 1113.2 L1892.5 1109 L1895 1114.3 L1897.5 1112 L1900 1132.7 L1902.5 1119.1 L1905 1133 L1907.5 1130.4 L1910 1141.9 L1912.5 1148.3 L1915 1138.1 L1917.5 1150.4 L1920 1145.2 L1922.5 1167.4 L1925 1160.5 L1927.5 1157.7 L1930 1166.4 L1932.5 1181.3 L1935 1185.8 L1937.5 1188 L1940 1180.1 L1942.5 1187 L1945 1200.1 L1947.5 1190.6 L1950 1196 L1952.5 1196 L1955 1198.1 L1957.5 1213.7 L1960 1213.8 L1962.5 1215.9 L1965 1219.5 L1967.5 1224.7 L1970 1230.1 L1972.5 1225.3 L1975 1226.5 L1977.5 1226 L1980 1239.1 L1982.5 1234.1 L1985 1232.1 L1987.5 1240.6 L1990 1244.6 L1992.5 1251 L1995 1254.3 L1997.5 1248.7 L2000 1250.9 L2002.5 1255.5 L2005 1253.9 L2007.5 1261.2 L2010 1266 L2012.5 1266.5 L2015 1261.5 L2017.5 1265.6 L2020 1278.4 L2022.5 1270.7 L2025 1280.2 L2027.5 1281.8 L2030 1279.9 L2032.5 1279.1 L2035 1286 L2037.5 1283.5 L2040 1288.3 L2042.5 1291.3 L2045 1289.8 L2047.5 1293.6 L2050 1295.1 L2052.5 1293.2 L2055 1299 L2057.5 1299 L2060 1296.1 L2062.5 1303.4 L2065 1305.2 L2067.5 1305.6 L2070 1301.7 L2072.5 1313.7 L2075 1314.8 L2077.5 1316.1 L2080 1316.4 L2082.5 1312.1 L2085 1318.4 L2087.5 1316.1 L2090 1328.2 L2092.5 1320.1 L2095 1325.5 L2097.5 1319.2 L2100 1321.7 L2102.5 1325 L2105 1330.4 L2107.5 1331 L2110 1331.2 L2112.5 1325.3 L2115 1336.1 L2117.5 1330.5 L2120 1339.7 L2122.5 1341.5 L2125 1339.2 L2127.5 1340.6 L2130 1334.5 L2132.5 1347.4 L2135 1341 L2137.5 1344.3 L2140 1339.5 L2142.5 1342.7 L2145 1340.2 L2147.5 1343.9 L2150 1345.4 L2152.5 1346.9 L2155 1351 L2157.5 1349.1 L2160 1349.1 L2162.5 1349.2 L2165 1355.6 L2167.5 1348.8 L2170 1354.5 L2172.5 1346.3 L2175 1350 L2177.5 1354.2 L2180 1353.2 L2182.5 1362.6 L2185 1361.9 L2187.5 1351.3 L2190 1353.1 L2192.5 1356.1 L2195 1361.7 L2197.5 1360.6 L2200 1359 L2202.5 1354.8 L2205 1356.9 L2207.5 1352.5 L2210 1356 L2212.5 1361.6 L2215 1363 L2217.5 1358 L2220 1362.1 L2222.5 1366.4 L2225 1363.1 L2227.5 1362.3 L2230 1365 L2232.5 1365.2 L2235 1364.5 L2237.5 1363.3 L2240 1364 L2242.5 1365.6 L2245 1364.4 L2247.5 1369.4 L2250 1368.7 L2252.5 1369.5 L2255 1372.1 L2257.5 1371.4 L2260 1371.3 L2262.5 1369.1 L2265 1368.1 L2267.5 1374.4 L2270 1367.6 L2272.5 1368.1 L2275 1367.8 L2277.5 1370.7 L2280 1371.5 L2282.5 1373.3 L2285 1370.7 L2287.5 1367.5 L2290 1372.6 L2292.5 1374.4 L2295 1372.6 L2297.5 1372.6 L2300 1374.5 L2302.5 1376.8 L2305 1373.7 L2307.5 1371.1 L2310 1373.3 L2312.5 1374.6 L2315 1371.3 L2317.5 1377.3 L2320 1374.3 L2322.5 1377.5 L2325 1377.2 L2327.5 1376.5 L2330 1381 L2332.5 1376.7 L2335 1376.9 L2337.5 1379.3 L2340 1380.9 L2342.5 1379.6 L2345 1378 L2347.5 1381.8 L2350 1382.1 L2352.5 1385.5 L2355 1381.4 L2357.5 1382.7 L2360 1381.7 L2362.5 1380.4 L2365 1383.9" fill="none" stroke="#008000" stroke-width="2.6" stroke-linejoin="round" stroke-linecap="butt"/>
<path d="M1483.2 1407.6 L1484.8 1407.4 L1486.3 1407.4 L1487.9 1407.3 L1489.5 1407.7 L1491.1 1407.4 L1492.7 1407.6 L1494.3 1407.4 L1495.9 1407.5 L1497.5 1407 L1499.1 1406.3 L1500.7 1406.1 L1502.3 1405.5 L1503.9 1404.3 L1505.5 1403.9 L1507.1 1403.1 L1508.7 1402.1 L1510.3 1401.4 L1511.9 1399.9 L1513.5 1399.3 L1515.1 1398.3 L1516.7 1396.2 L1518.3 1394.8 L1519.9 1393.1 L1521.5 1390.1 L1523.1 1387.1 L1524.7 1383.7 L1526.3 1380.6 L1527.9 1376.1 L1529.5 1370.5 L1531.1 1359.7 L1532.7 1345.7 L1534.3 1325.6 L1535.9 1305.2 L1537.5 1281.2 L1539.1 1253.5 L1540.7 1222.9 L1542.3 1187.5 L1543.9 1145.2 L1545.5 1095.4 L1547.1 1042.3 L1548.7 990.1 L1550.3 945.2 L1551.9 906.2 L1553.5 868.5 L1555.1 824.4 L1556.7 768.1 L1558.3 709 L1559.9 646.5 L1561.5 591.2 L1563.1 540.2 L1564.7 437.5 L1566.3 415.5 L1567.9 353.9 L1569.5 286 L1571.1 274.9 L1572.7 231.1 L1574.3 203.8 L1575.9 152.7 L1577.5 172.2 L1579.1 124.1 L1580.7 101.2 L1588 96.3 L1590.5 92.3 L1593 103.3 L1595.5 115.8 L1598 81.1 L1600.5 138 L1603 119 L1605.5 134.5 L1608 149.8 L1610.5 135.5 L1613 155.6 L1615.5 168.1 L1618 164.4 L1620.5 177.9 L1623 157.6 L1625.5 169.7 L1628 177 L1630.5 203.3 L1633 253 L1635.5 216.1 L1638 218.2 L1640.5 226.8 L1643 247.5 L1645.5 251.9 L1648 236.5 L1650.5 271.3 L1653 266.3 L1655.5 284.6 L1658 258 L1660.5 271.4 L1663 305.5 L1665.5 284.1 L1668 318.3 L1670.5 325.2 L1673 330.3 L1675.5 340 L1678 345.9 L1680.5 354.9 L1683 351.3 L1685.5 362.3 L1688 403.5 L1690.5 388.8 L1693 389.1 L1695.5 393.3 L1698 387.3 L1700.5 405.7 L1703 408 L1705.5 429.7 L1708 416.6 L1710.5 408.5 L1713 437.5 L1715.5 460.3 L1718 488.5 L1720.5 480.7 L1723 466.6 L1725.5 483.2 L1728 483.1 L1730.5 499.4 L1733 499.4 L1735.5 499 L1738 529.4 L1740.5 534.2 L1743 537.7 L1745.5 550.7 L1748 576 L1750.5 562.9 L1753 564.9 L1755.5 585.3 L1758 566.1 L1760.5 598.5 L1763 589.8 L1765.5 596.6 L1768 613.4 L1770.5 636.7 L1773 619.2 L1775.5 643.8 L1778 645.3 L1780.5 634.9 L1783 665.6 L1785.5 655.7 L1788 657 L1790.5 671.5 L1793 679.9 L1795.5 700.4 L1798 694.8 L1800.5 723.4 L1803 717.7 L1805.5 714.7 L1808 719.1 L1810.5 734.6 L1813 718.4 L1815.5 722.4 L1818 740.1 L1820.5 759.9 L1823 761.4 L1825.5 765.8 L1828 769.6 L1830.5 757.7 L1833 780.9 L1835.5 774.1 L1838 804.2 L1840.5 803.1 L1843 808.9 L1845.5 820 L1848 826 L1850.5 831.9 L1853 839.6 L1855.5 838.1 L1858 838.4 L1860.5 859.5 L1863 875.5 L1865.5 878.2 L1868 874.2 L1870.5 887.4 L1873 884.7 L1875.5 897.5 L1878 895 L1880.5 906.7 L1883 927.3 L1885.5 922.5 L1888 933.4 L1890.5 920 L1893 925.6 L1895.5 935.5 L1898 945 L1900.5 943.5 L1903 957.7 L1905.5 950.1 L1908 969.4 L1910.5 970.8 L1913 959.2 L1915.5 976.7 L1918 974.9 L1920.5 988.6 L1923 981.1 L1925.5 991.8 L1928 997.7 L1930.5 977.4 L1933 988.1 L1935.5 1007 L1938 1009.2 L1940.5 1021.5 L1943 1019.8 L1945.5 1012.9 L1948 1028.4 L1950.5 1024.5 L1953 1032.1 L1955.5 1034 L1958 1043.8 L1960.5 1035.1 L1963 1041 L1965.5 1037.1 L1968 1070.8 L1970.5 1052.8 L1973 1057.4 L1975.5 1059 L1978 1065.9 L1980.5 1070.8 L1983 1081.3 L1985.5 1081.8 L1988 1086.1 L1990.5 1083.4 L1993 1090.1 L1995.5 1101.8 L1998 1097 L2000.5 1102.3 L2003 1090.5 L2005.5 1109.9 L2008 1111.4 L2010.5 1121 L2013 1098.6 L2015.5 1119.1 L2018 1121.1 L2020.5 1125.4 L2023 1123.9 L2025.5 1131.9 L2028 1137.8 L2030.5 1136.6 L2033 1137.4 L2035.5 1140.7 L2038 1142.4 L2040.5 1147.7 L2043 1145.9 L2045.5 1141.1 L2048 1163.3 L2050.5 1147.8 L2053 1159.9 L2055.5 1155.7 L2058 1164.1 L2060.5 1162.7 L2063 1170.4 L2065.5 1168.4 L2068 1168.3 L2070.5 1179.7 L2073 1187.7 L2075.5 1184.6 L2078 1185.6 L2080.5 1181.5 L2083 1189.1 L2085.5 1194.2 L2088 1190.5 L2090.5 1201 L2093 1198.2 L2095.5 1202.4 L2098 1200.1 L2100.5 1202.2 L2103 1208 L2105.5 1210.9 L2108 1212.7 L2110.5 1207.7 L2113 1211.2 L2115.5 1216.8 L2118 1209.5 L2120.5 1226 L2123 1224.3 L2125.5 1224.8 L2128 1222.9 L2130.5 1232.3 L2133 1228.7 L2135.5 1241.2 L2138 1235.6 L2140.5 1228.2 L2143 1240.6 L2145.5 1236.3 L2148 1238.1 L2150.5 1241.1 L2153 1243.3 L2155.5 1246.7 L2158 1250.7 L2160.5 1250.8 L2163 1247 L2165.5 1245.7 L2168 1249.7 L2170.5 1256.6 L2173 1260.4 L2175.5 1266.1 L2178 1253.4 L2180.5 1261.2 L2183 1261.3 L2185.5 1262 L2188 1265.8 L2190.5 1265.5 L2193 1266.8 L2195.5 1266.5 L2198 1272.3 L2200.5 1276.5 L2203 1280.3 L2205.5 1272.3 L2208 1271.4 L2210.5 1276 L2213 1274.9 L2215.5 1283.9 L2218 1277.5 L2220.5 1282.4 L2223 1277.7 L2225.5 1283 L2228 1286.4 L2230.5 1293 L2233 1285.2 L2235.5 1290.6 L2238 1281.9 L2240.5 1286.5 L2243 1289.2 L2245.5 1291.6 L2248 1296.3 L2250.5 1298.2 L2253 1290.5 L2255.5 1299.9 L2258 1294.6 L2260.5 1307 L2263 1302.1 L2265.5 1302.5 L2268 1302.3 L2270.5 1303.8 L2273 1305 L2275.5 1303.3 L2278 1309.7 L2280.5 1308.9 L2283 1311.6 L2285.5 1309.6 L2288 1313.2 L2290.5 1308.9 L2293 1325.5 L2295.5 1311 L2298 1312.9 L2300.5 1318.8 L2303 1320.7 L2305.5 1314.4 L2308 1312.2 L2310.5 1314.1 L2313 1316.4 L2315.5 1318 L2318 1321.1 L2320.5 1326 L2323 1327.1 L2325.5 1322.2 L2328 1326.9 L2330.5 1328.9 L2333 1331.5 L2335.5 1327.2 L2338 1326.1 L2340.5 1331.9 L2343 1335.2 L2345.5 1329.4 L2348 1338.3 L2350.5 1338.4 L2353 1332.8 L2355.5 1329.5 L2358 1333.5 L2360.5 1335.1 L2363 1338.7 L2365.5 1332.7" fill="none" stroke="#0000ff" stroke-width="2.6" stroke-linejoin="round" stroke-linecap="butt"/>
<path d="M1484.5 1407.8 L1486.1 1407.8 L1487.7 1407.4 L1489.3 1407.2 L1490.9 1407.5 L1492.5 1407.6 L1494.1 1407.7 L1495.7 1407.6 L1497.3 1407.5 L1498.9 1407.2 L1500.5 1407.2 L1502.1 1406.7 L1503.7 1405.9 L1505.3 1405.4 L1506.9 1404.6 L1508.5 1403.8 L1510.1 1402.8 L1511.7 1402.3 L1513.3 1401 L1514.9 1400.6 L1516.5 1398.9 L1518.1 1397.9 L1519.7 1396.1 L1521.3 1394.6 L1522.9 1392.2 L1524.5 1389.9 L1526.1 1386.5 L1527.7 1383 L1529.3 1379.9 L1530.9 1375.3 L1532.5 1368.6 L1534.1 1358.4 L1535.7 1341.8 L1537.3 1323.3 L1538.9 1301.7 L1540.5 1278.6 L1542.1 1253.3 L1543.7 1219.4 L1545.3 1184.1 L1546.9 1140.2 L1548.5 1087.6 L1550.1 1033.2 L1551.7 985.1 L1553.3 942.5 L1554.9 897.2 L1556.5 861.8 L1558.1 815.4 L1559.7 760.3 L1561.3 712.9 L1562.9 634.2 L1564.5 590 L1566.1 515.6 L1567.7 457.2 L1569.3 413.3 L1570.9 344.7 L1572.5 305.7 L1574.1 251.3 L1575.7 215.6 L1577.3 203.5 L1578.9 173.4 L1580.5 125.6 L1582.1 103.7 L1592 108.9 L1594.5 76 L1597 76 L1599.5 92.8 L1602 79.8 L1604.5 89.6 L1607 110.7 L1609.5 116.6 L1612 105.6 L1614.5 130.6 L1617 115.9 L1619.5 119.6 L1622 127.7 L1624.5 128.8 L1627 144.8 L1629.5 146.7 L1632 138.1 L1634.5 155.6 L1637 151.3 L1639.5 155.9 L1642 166.6 L1644.5 186.4 L1647 181.8 L1649.5 199.2 L1652 207.6 L1654.5 191.9 L1657 189.1 L1659.5 191.3 L1662 209.2 L1664.5 221 L1667 234.3 L1669.5 202.1 L1672 234.5 L1674.5 240.5 L1677 261.9 L1679.5 237.9 L1682 239.4 L1684.5 225.2 L1687 238.7 L1689.5 239 L1692 244.6 L1694.5 250.5 L1697 247.2 L1699.5 269.6 L1702 280.1 L1704.5 289.5 L1707 283.9 L1709.5 303 L1712 308.2 L1714.5 282 L1717 302.5 L1719.5 296.3 L1722 305.3 L1724.5 325.2 L1727 327.5 L1729.5 352.7 L1732 366.1 L1734.5 353.3 L1737 352.9 L1739.5 360.4 L1742 369.1 L1744.5 383.2 L1747 375 L1749.5 397.5 L1752 394.8 L1754.5 416.7 L1757 426.7 L1759.5 437.4 L1762 421.8 L1764.5 414.2 L1767 416.3 L1769.5 437.9 L1772 430.8 L1774.5 433.7 L1777 453.8 L1779.5 452 L1782 476.1 L1784.5 495.3 L1787 476.5 L1789.5 487.9 L1792 472.6 L1794.5 497.8 L1797 493.9 L1799.5 495.4 L1802 493 L1804.5 536.7 L1807 507.6 L1809.5 517.9 L1812 536.8 L1814.5 545.6 L1817 551.3 L1819.5 554.9 L1822 549.8 L1824.5 573 L1827 572.3 L1829.5 560.4 L1832 597.9 L1834.5 582.8 L1837 601.6 L1839.5 581.7 L1842 589.7 L1844.5 601.3 L1847 605.3 L1849.5 628 L1852 606.1 L1854.5 629.6 L1857 622.8 L1859.5 643.7 L1862 645.8 L1864.5 643.6 L1867 676.9 L1869.5 659.7 L1872 676.7 L1874.5 658.2 L1877 675.9 L1879.5 683.7 L1882 689.8 L1884.5 690.6 L1887 691.4 L1889.5 674.8 L1892 704.5 L1894.5 706.1 L1897 717.3 L1899.5 732.6 L1902 749.9 L1904.5 738 L1907 746.8 L1909.5 747.1 L1912 752 L1914.5 754.6 L1917 750.5 L1919.5 753.9 L1922 764.1 L1924.5 781.8 L1927 776.5 L1929.5 788.5 L1932 766.2 L1934.5 785.2 L1937 791.1 L1939.5 797 L1942 784.7 L1944.5 785.5 L1947 788.1 L1949.5 808.6 L1952 838.1 L1954.5 824.3 L1957 816.8 L1959.5 835.6 L1962 835 L1964.5 844.2 L1967 843.8 L1969.5 841.5 L1972 853 L1974.5 868.5 L1977 869.8 L1979.5 882.3 L1982 867.5 L1984.5 890 L1987 886.2 L1989.5 891.8 L1992 904.9 L1994.5 897.9 L1997 905.3 L1999.5 912.7 L2002 916.9 L2004.5 922.4 L2007 930.3 L2009.5 928.2 L2012 924.3 L2014.5 951.3 L2017 935.4 L2019.5 942.5 L2022 937.3 L2024.5 929.8 L2027 944.5 L2029.5 954.7 L2032 961.9 L2034.5 961.5 L2037 970.9 L2039.5 975.8 L2042 979.1 L2044.5 974.9 L2047 978.8 L2049.5 979.8 L2052 978.1 L2054.5 998.6 L2057 981.7 L2059.5 993.5 L2062 998.8 L2064.5 984.3 L2067 1008.6 L2069.5 1003.5 L2072 1010.6 L2074.5 1009.4 L2077 1003.5 L2079.5 1018.9 L2082 1021 L2084.5 1030.2 L2087 1029.1 L2089.5 1016.4 L2092 1038.9 L2094.5 1039.3 L2097 1041.7 L2099.5 1042.3 L2102 1036.5 L2104.5 1047.7 L2107 1043.9 L2109.5 1068.9 L2112 1049.7 L2114.5 1046.1 L2117 1053.8 L2119.5 1068.4 L2122 1057 L2124.5 1046.6 L2127 1075.5 L2129.5 1070.1 L2132 1066.8 L2134.5 1077.2 L2137 1068.5 L2139.5 1069.1 L2142 1085.5 L2144.5 1077.9 L2147 1087.1 L2149.5 1085.8 L2152 1093.4 L2154.5 1090.8 L2157 1078.8 L2159.5 1098.8 L2162 1093.4 L2164.5 1104.3 L2167 1101.4 L2169.5 1112 L2172 1102.9 L2174.5 1093.9 L2177 1107.1 L2179.5 1114.5 L2182 1111.2 L2184.5 1112.5 L2187 1126.7 L2189.5 1118.6 L2192 1128.2 L2194.5 1124.7 L2197 1116.9 L2199.5 1122.1 L2202 1128 L2204.5 1133.9 L2207 1129.2 L2209.5 1127.6 L2212 1132.1 L2214.5 1137.1 L2217 1137 L2219.5 1140.9 L2222 1157.5 L2224.5 1150.1 L2227 1145.6 L2229.5 1152.4 L2232 1163.7 L2234.5 1160.2 L2237 1157.8 L2239.5 1152.6 L2242 1152.6 L2244.5 1162.3 L2247 1165.6 L2249.5 1158.9 L2252 1162.5 L2254.5 1171.7 L2257 1161.3 L2259.5 1166 L2262 1177.2 L2264.5 1182.5 L2267 1182.9 L2269.5 1188.5 L2272 1193.4 L2274.5 1191.4 L2277 1186.8 L2279.5 1201.6 L2282 1200.8 L2284.5 1198.5 L2287 1190.7 L2289.5 1198.8 L2292 1187.2 L2294.5 1198.2 L2297 1188.3 L2299.5 1200.8 L2302 1210 L2304.5 1206.2 L2307 1216 L2309.5 1209 L2312 1211 L2314.5 1210.3 L2317 1215.9 L2319.5 1214.4 L2322 1222 L2324.5 1225.4 L2327 1220.3 L2329.5 1214 L2332 1223.7 L2334.5 1228.8 L2337 1226.4 L2339.5 1225.7 L2342 1230 L2344.5 1232.9 L2347 1214.4 L2349.5 1235.8 L2352 1233.1 L2354.5 1232.5 L2357 1228.3 L2359.5 1232.9 L2362 1235.6 L2364.5 1226.1" fill="none" stroke="#ff0000" stroke-width="2.6" stroke-linejoin="round" stroke-linecap="butt"/>
</g>
<line x1="1699" y1="1228.4" x2="2022" y2="828.5" stroke="#000" stroke-width="2"/>
<polygon points="2032.5,815.4 2020.7,844.4 2006.7,833.1" fill="#000"/>
<g shape-rendering="crispEdges">
<rect x="1466" y="62" width="900" height="3" fill="#5f5f5f"/>
<rect x="1466" y="62" width="3" height="1371" fill="#4a4a4a"/>
<rect x="2363" y="62" width="3" height="1371" fill="#3c3c3c"/>
<rect x="1441" y="1406" width="925" height="3" fill="#9a9a9a"/>
</g>
<text x="1423" y="1420" font-family="'Liberation Sans', Arial, sans-serif" font-size="52" font-weight="normal" text-anchor="end">0</text>
<text x="1423" y="1153.7" font-family="'Liberation Sans', Arial, sans-serif" font-size="52" font-weight="normal" text-anchor="end">2000</text>
<text x="1423" y="887.4" font-family="'Liberation Sans', Arial, sans-serif" font-size="52" font-weight="normal" text-anchor="end">4000</text>
<text x="1423" y="621.1" font-family="'Liberation Sans', Arial, sans-serif" font-size="52" font-weight="normal" text-anchor="end">6000</text>
<text x="1423" y="354.8" font-family="'Liberation Sans', Arial, sans-serif" font-size="52" font-weight="normal" text-anchor="end">8000</text>
<text x="1423" y="88.5" font-family="'Liberation Sans', Arial, sans-serif" font-size="52" font-weight="normal" text-anchor="end">10000</text>
<text x="1467" y="1490.5" font-family="'Liberation Sans', Arial, sans-serif" font-size="52" font-weight="normal" text-anchor="middle">1</text>
<text x="1766.2" y="1490.5" font-family="'Liberation Sans', Arial, sans-serif" font-size="52" font-weight="normal" text-anchor="middle">2</text>
<text x="2065.4" y="1490.5" font-family="'Liberation Sans', Arial, sans-serif" font-size="52" font-weight="normal" text-anchor="middle">3</text>
<text x="2364.6" y="1490.5" font-family="'Liberation Sans', Arial, sans-serif" font-size="52" font-weight="normal" text-anchor="middle">4</text>
<text x="1915.6" y="1567.5" font-family="'Liberation Sans', Arial, sans-serif" font-size="64" font-weight="normal" text-anchor="middle">Time (ns)</text>
<text transform="translate(1914.3,1645) scale(1.11,1)" font-family="'Liberation Serif', 'Times New Roman', serif" font-size="58" font-weight="bold" text-anchor="middle">(b)</text>
<text transform="translate(1279.7,776) rotate(-90)" font-family="'Liberation Sans', Arial, sans-serif" font-size="64" text-anchor="middle">Counts</text>
<text x="1878.5" y="123.8" font-family="'Liberation Sans', Arial, sans-serif" font-size="64" font-weight="normal" text-anchor="start">% ethylene glicol</text>
<rect x="1877.7" y="130" width="480" height="4.8" fill="#000"/>
<line x1="1965.3" y1="180.2" x2="2109.6" y2="180.2" stroke="#ff0000" stroke-width="3"/>
<text x="2125" y="202.5" font-family="'Liberation Sans', Arial, sans-serif" font-size="64" font-weight="normal" text-anchor="start">100</text>
<line x1="1965.3" y1="259.3" x2="2109.6" y2="259.3" stroke="#0000ff" stroke-width="3"/>
<text x="2125" y="280" font-family="'Liberation Sans', Arial, sans-serif" font-size="64" font-weight="normal" text-anchor="start">80</text>
<line x1="1965.3" y1="335.5" x2="2109.6" y2="335.5" stroke="#c0e2c8" stroke-width="3"/>
<text x="2125" y="358.8" font-family="'Liberation Sans', Arial, sans-serif" font-size="64" font-weight="normal" text-anchor="start">60</text>
<line x1="1965.3" y1="414.4" x2="2109.6" y2="414.4" stroke="#9000ff" stroke-width="3"/>
<text x="2125" y="437.6" font-family="'Liberation Sans', Arial, sans-serif" font-size="64" font-weight="normal" text-anchor="start">40</text>
<line x1="1965.3" y1="493.6" x2="2109.6" y2="493.6" stroke="#ff00ff" stroke-width="3"/>
<text x="2125" y="514.4" font-family="'Liberation Sans', Arial, sans-serif" font-size="64" font-weight="normal" text-anchor="start">20</text>
<line x1="1965.3" y1="572.4" x2="2109.6" y2="572.4" stroke="#c8c8c8" stroke-width="3"/>
<text x="2125" y="593" font-family="'Liberation Sans', Arial, sans-serif" font-size="64" font-weight="normal" text-anchor="start">0</text>
<text x="2052" y="799.6" font-family="'Liberation Sans', Arial, sans-serif" font-size="64" font-weight="normal" text-anchor="start">high</text>
<text x="2055" y="875" font-family="'Liberation Sans', Arial, sans-serif" font-size="64" font-weight="normal" text-anchor="start">viscosity</text>
<text x="1577.5" y="1274" font-family="'Liberation Sans', Arial, sans-serif" font-size="64" font-weight="normal" text-anchor="start">low</text>
<text x="1581" y="1351.4" font-family="'Liberation Sans', Arial, sans-serif" font-size="64" font-weight="normal" text-anchor="start">viscosity</text>
</svg>
</body></html>
